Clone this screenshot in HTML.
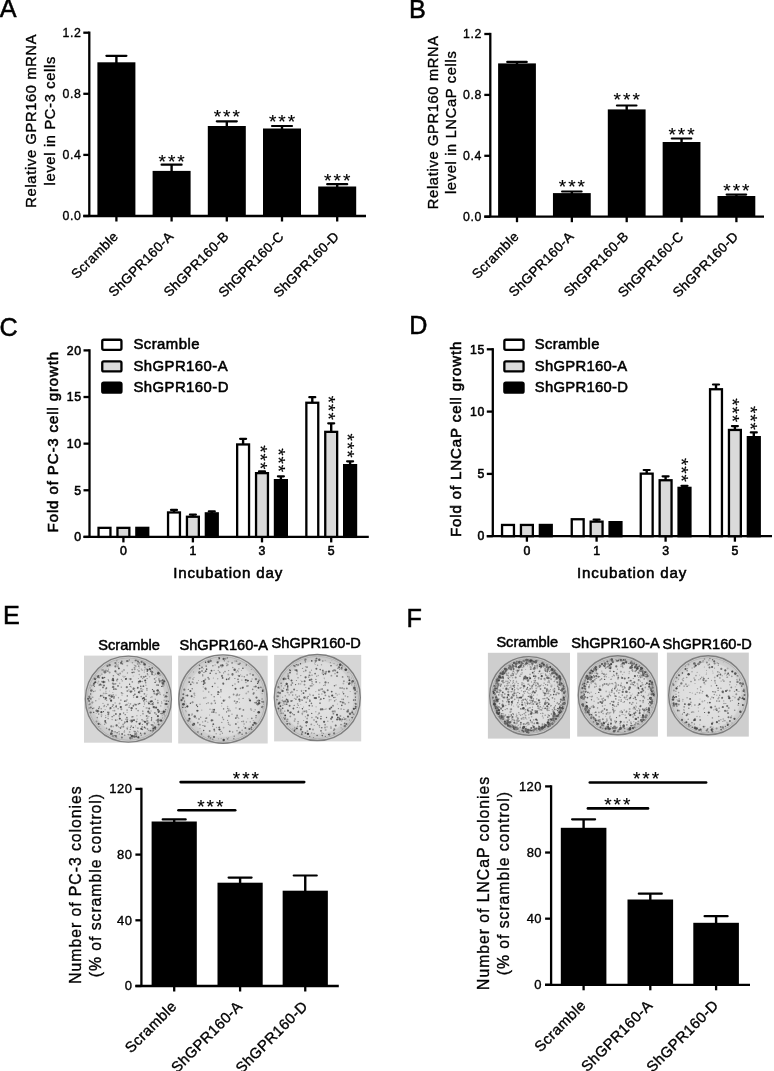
<!DOCTYPE html>
<html><head><meta charset="utf-8"><style>
html,body{margin:0;padding:0;background:#fff;}
svg{display:block;}
svg{will-change:transform;}
text{font-family:"Liberation Sans", sans-serif;stroke:#000;stroke-width:0.35px;}
.h text{stroke-width:0.55px;}
</style></head><body><div id="w">
<svg width="774" height="1071" viewBox="0 0 774 1071">
<rect width="774" height="1071" fill="#fff"/>
<text x="-0.20" y="17.30" font-size="25.2" text-anchor="start" fill="#000" style="stroke-width:0.5px">A</text>
<line x1="89.30" y1="31.55" x2="89.30" y2="216.00" stroke="#000" stroke-width="2.3" stroke-linecap="butt"/>
<line x1="83.30" y1="216.00" x2="89.30" y2="216.00" stroke="#000" stroke-width="2.3" stroke-linecap="butt"/>
<text x="81.50" y="220.23" font-size="12.3" text-anchor="end" letter-spacing="0.6" fill="#000">0.0</text>
<line x1="83.30" y1="154.90" x2="89.30" y2="154.90" stroke="#000" stroke-width="2.3" stroke-linecap="butt"/>
<text x="81.50" y="159.13" font-size="12.3" text-anchor="end" letter-spacing="0.6" fill="#000">0.4</text>
<line x1="83.30" y1="93.80" x2="89.30" y2="93.80" stroke="#000" stroke-width="2.3" stroke-linecap="butt"/>
<text x="81.50" y="98.03" font-size="12.3" text-anchor="end" letter-spacing="0.6" fill="#000">0.8</text>
<line x1="83.30" y1="32.70" x2="89.30" y2="32.70" stroke="#000" stroke-width="2.3" stroke-linecap="butt"/>
<text x="81.50" y="36.93" font-size="12.3" text-anchor="end" letter-spacing="0.6" fill="#000">1.2</text>
<line x1="83.30" y1="216.00" x2="366.00" y2="216.00" stroke="#000" stroke-width="2.3" stroke-linecap="butt"/>
<line x1="116.40" y1="55.80" x2="116.40" y2="63.30" stroke="#000" stroke-width="2.4" stroke-linecap="butt"/>
<line x1="106.40" y1="55.80" x2="126.40" y2="55.80" stroke="#000" stroke-width="2.2" stroke-linecap="round"/>
<rect x="97.40" y="62.30" width="38.00" height="153.70" fill="#000"/>
<line x1="116.40" y1="216.00" x2="116.40" y2="221.50" stroke="#000" stroke-width="2.3" stroke-linecap="butt"/>
<line x1="171.60" y1="164.70" x2="171.60" y2="171.90" stroke="#000" stroke-width="2.4" stroke-linecap="butt"/>
<line x1="161.60" y1="164.70" x2="181.60" y2="164.70" stroke="#000" stroke-width="2.2" stroke-linecap="round"/>
<rect x="152.60" y="170.90" width="38.00" height="45.10" fill="#000"/>
<line x1="171.60" y1="216.00" x2="171.60" y2="221.50" stroke="#000" stroke-width="2.3" stroke-linecap="butt"/>
<line x1="226.80" y1="121.30" x2="226.80" y2="127.00" stroke="#000" stroke-width="2.4" stroke-linecap="butt"/>
<line x1="216.80" y1="121.30" x2="236.80" y2="121.30" stroke="#000" stroke-width="2.2" stroke-linecap="round"/>
<rect x="207.80" y="126.00" width="38.00" height="90.00" fill="#000"/>
<line x1="226.80" y1="216.00" x2="226.80" y2="221.50" stroke="#000" stroke-width="2.3" stroke-linecap="butt"/>
<line x1="282.00" y1="126.00" x2="282.00" y2="129.50" stroke="#000" stroke-width="2.4" stroke-linecap="butt"/>
<line x1="272.00" y1="126.00" x2="292.00" y2="126.00" stroke="#000" stroke-width="2.2" stroke-linecap="round"/>
<rect x="263.00" y="128.50" width="38.00" height="87.50" fill="#000"/>
<line x1="282.00" y1="216.00" x2="282.00" y2="221.50" stroke="#000" stroke-width="2.3" stroke-linecap="butt"/>
<line x1="337.20" y1="184.20" x2="337.20" y2="187.50" stroke="#000" stroke-width="2.4" stroke-linecap="butt"/>
<line x1="327.20" y1="184.20" x2="347.20" y2="184.20" stroke="#000" stroke-width="2.2" stroke-linecap="round"/>
<rect x="318.20" y="186.50" width="38.00" height="29.50" fill="#000"/>
<line x1="337.20" y1="216.00" x2="337.20" y2="221.50" stroke="#000" stroke-width="2.3" stroke-linecap="butt"/>
<text x="172.60" y="167.90" font-size="19" text-anchor="middle" letter-spacing="2.0" fill="#000" style="stroke-width:0.15px">***</text>
<text x="227.80" y="123.10" font-size="19" text-anchor="middle" letter-spacing="2.0" fill="#000" style="stroke-width:0.15px">***</text>
<text x="283.00" y="127.90" font-size="19" text-anchor="middle" letter-spacing="2.0" fill="#000" style="stroke-width:0.15px">***</text>
<text x="338.20" y="187.10" font-size="19" text-anchor="middle" letter-spacing="2.0" fill="#000" style="stroke-width:0.15px">***</text>
<text transform="translate(118.90 237.50) rotate(-45)" x="0.35" y="0" font-size="13.5" text-anchor="end" letter-spacing="0.35" fill="#000">Scramble</text>
<text transform="translate(174.10 237.50) rotate(-45)" x="0.35" y="0" font-size="13.5" text-anchor="end" letter-spacing="0.35" fill="#000">ShGPR160-A</text>
<text transform="translate(229.30 237.50) rotate(-45)" x="0.35" y="0" font-size="13.5" text-anchor="end" letter-spacing="0.35" fill="#000">ShGPR160-B</text>
<text transform="translate(284.50 237.50) rotate(-45)" x="0.35" y="0" font-size="13.5" text-anchor="end" letter-spacing="0.35" fill="#000">ShGPR160-C</text>
<text transform="translate(339.70 237.50) rotate(-45)" x="0.35" y="0" font-size="13.5" text-anchor="end" letter-spacing="0.35" fill="#000">ShGPR160-D</text>
<text transform="translate(36.00 121.10) rotate(-90)" x="0.35" y="0" font-size="14.6" text-anchor="middle" letter-spacing="0.7" fill="#000">Relative GPR160 mRNA</text>
<text transform="translate(54.50 121.10) rotate(-90)" x="0.35" y="0" font-size="14.6" text-anchor="middle" letter-spacing="0.7" fill="#000">level in PC-3 cells</text>
<text x="409.10" y="17.70" font-size="25.2" text-anchor="start" fill="#000" style="stroke-width:0.5px">B</text>
<line x1="490.30" y1="32.85" x2="490.30" y2="216.70" stroke="#000" stroke-width="2.3" stroke-linecap="butt"/>
<line x1="484.30" y1="216.70" x2="490.30" y2="216.70" stroke="#000" stroke-width="2.3" stroke-linecap="butt"/>
<text x="481.90" y="220.93" font-size="12.3" text-anchor="end" letter-spacing="0.6" fill="#000">0.0</text>
<line x1="484.30" y1="155.80" x2="490.30" y2="155.80" stroke="#000" stroke-width="2.3" stroke-linecap="butt"/>
<text x="481.90" y="160.03" font-size="12.3" text-anchor="end" letter-spacing="0.6" fill="#000">0.4</text>
<line x1="484.30" y1="94.90" x2="490.30" y2="94.90" stroke="#000" stroke-width="2.3" stroke-linecap="butt"/>
<text x="481.90" y="99.13" font-size="12.3" text-anchor="end" letter-spacing="0.6" fill="#000">0.8</text>
<line x1="484.30" y1="34.00" x2="490.30" y2="34.00" stroke="#000" stroke-width="2.3" stroke-linecap="butt"/>
<text x="481.90" y="38.23" font-size="12.3" text-anchor="end" letter-spacing="0.6" fill="#000">1.2</text>
<line x1="484.30" y1="216.70" x2="764.00" y2="216.70" stroke="#000" stroke-width="2.3" stroke-linecap="butt"/>
<line x1="517.00" y1="61.90" x2="517.00" y2="64.40" stroke="#000" stroke-width="2.4" stroke-linecap="butt"/>
<line x1="507.25" y1="61.90" x2="526.75" y2="61.90" stroke="#000" stroke-width="2.2" stroke-linecap="round"/>
<rect x="498.10" y="63.40" width="37.80" height="153.30" fill="#000"/>
<line x1="517.00" y1="216.70" x2="517.00" y2="222.20" stroke="#000" stroke-width="2.3" stroke-linecap="butt"/>
<line x1="571.85" y1="191.50" x2="571.85" y2="194.10" stroke="#000" stroke-width="2.4" stroke-linecap="butt"/>
<line x1="562.10" y1="191.50" x2="581.60" y2="191.50" stroke="#000" stroke-width="2.2" stroke-linecap="round"/>
<rect x="552.95" y="193.10" width="37.80" height="23.60" fill="#000"/>
<line x1="571.85" y1="216.70" x2="571.85" y2="222.20" stroke="#000" stroke-width="2.3" stroke-linecap="butt"/>
<line x1="626.70" y1="105.50" x2="626.70" y2="110.40" stroke="#000" stroke-width="2.4" stroke-linecap="butt"/>
<line x1="616.95" y1="105.50" x2="636.45" y2="105.50" stroke="#000" stroke-width="2.2" stroke-linecap="round"/>
<rect x="607.80" y="109.40" width="37.80" height="107.30" fill="#000"/>
<line x1="626.70" y1="216.70" x2="626.70" y2="222.20" stroke="#000" stroke-width="2.3" stroke-linecap="butt"/>
<line x1="681.55" y1="138.50" x2="681.55" y2="143.00" stroke="#000" stroke-width="2.4" stroke-linecap="butt"/>
<line x1="671.80" y1="138.50" x2="691.30" y2="138.50" stroke="#000" stroke-width="2.2" stroke-linecap="round"/>
<rect x="662.65" y="142.00" width="37.80" height="74.70" fill="#000"/>
<line x1="681.55" y1="216.70" x2="681.55" y2="222.20" stroke="#000" stroke-width="2.3" stroke-linecap="butt"/>
<line x1="736.40" y1="194.60" x2="736.40" y2="197.00" stroke="#000" stroke-width="2.4" stroke-linecap="butt"/>
<line x1="726.65" y1="194.60" x2="746.15" y2="194.60" stroke="#000" stroke-width="2.2" stroke-linecap="round"/>
<rect x="717.50" y="196.00" width="37.80" height="20.70" fill="#000"/>
<line x1="736.40" y1="216.70" x2="736.40" y2="222.20" stroke="#000" stroke-width="2.3" stroke-linecap="butt"/>
<text x="572.85" y="193.30" font-size="19" text-anchor="middle" letter-spacing="2.0" fill="#000" style="stroke-width:0.15px">***</text>
<text x="627.70" y="106.40" font-size="19" text-anchor="middle" letter-spacing="2.0" fill="#000" style="stroke-width:0.15px">***</text>
<text x="682.55" y="140.60" font-size="19" text-anchor="middle" letter-spacing="2.0" fill="#000" style="stroke-width:0.15px">***</text>
<text x="737.40" y="197.40" font-size="19" text-anchor="middle" letter-spacing="2.0" fill="#000" style="stroke-width:0.15px">***</text>
<text transform="translate(519.50 237.50) rotate(-45)" x="0.35" y="0" font-size="13.5" text-anchor="end" letter-spacing="0.35" fill="#000">Scramble</text>
<text transform="translate(574.35 237.50) rotate(-45)" x="0.35" y="0" font-size="13.5" text-anchor="end" letter-spacing="0.35" fill="#000">ShGPR160-A</text>
<text transform="translate(629.20 237.50) rotate(-45)" x="0.35" y="0" font-size="13.5" text-anchor="end" letter-spacing="0.35" fill="#000">ShGPR160-B</text>
<text transform="translate(684.05 237.50) rotate(-45)" x="0.35" y="0" font-size="13.5" text-anchor="end" letter-spacing="0.35" fill="#000">ShGPR160-C</text>
<text transform="translate(738.90 237.50) rotate(-45)" x="0.35" y="0" font-size="13.5" text-anchor="end" letter-spacing="0.35" fill="#000">ShGPR160-D</text>
<text transform="translate(437.80 122.60) rotate(-90)" x="0.35" y="0" font-size="14.6" text-anchor="middle" letter-spacing="0.7" fill="#000">Relative GPR160 mRNA</text>
<text transform="translate(455.90 122.70) rotate(-90)" x="0.35" y="0" font-size="14.6" text-anchor="middle" letter-spacing="0.7" fill="#000">level in LNCaP cells</text>
<g class="h">
<text x="-0.40" y="336.30" font-size="25.2" text-anchor="start" fill="#000" style="stroke-width:0.5px">C</text>
<line x1="89.50" y1="349.25" x2="89.50" y2="536.90" stroke="#000" stroke-width="2.3" stroke-linecap="butt"/>
<line x1="83.50" y1="536.90" x2="89.50" y2="536.90" stroke="#000" stroke-width="2.3" stroke-linecap="butt"/>
<text x="81.70" y="541.13" font-size="12.3" text-anchor="end" letter-spacing="0.6" fill="#000">0</text>
<line x1="83.50" y1="490.27" x2="89.50" y2="490.27" stroke="#000" stroke-width="2.3" stroke-linecap="butt"/>
<text x="81.70" y="494.51" font-size="12.3" text-anchor="end" letter-spacing="0.6" fill="#000">5</text>
<line x1="83.50" y1="443.65" x2="89.50" y2="443.65" stroke="#000" stroke-width="2.3" stroke-linecap="butt"/>
<text x="81.70" y="447.88" font-size="12.3" text-anchor="end" letter-spacing="0.6" fill="#000">10</text>
<line x1="83.50" y1="397.02" x2="89.50" y2="397.02" stroke="#000" stroke-width="2.3" stroke-linecap="butt"/>
<text x="81.70" y="401.26" font-size="12.3" text-anchor="end" letter-spacing="0.6" fill="#000">15</text>
<line x1="83.50" y1="350.40" x2="89.50" y2="350.40" stroke="#000" stroke-width="2.3" stroke-linecap="butt"/>
<text x="81.70" y="354.63" font-size="12.3" text-anchor="end" letter-spacing="0.6" fill="#000">20</text>
<line x1="83.50" y1="536.90" x2="368.80" y2="536.90" stroke="#000" stroke-width="2.3" stroke-linecap="butt"/>
<rect x="98.55" y="527.85" width="11.90" height="9.05" fill="#fff" stroke="#000" stroke-width="2.3"/>
<rect x="117.45" y="527.85" width="11.90" height="9.05" fill="#dadada" stroke="#000" stroke-width="2.3"/>
<rect x="136.35" y="527.85" width="11.90" height="9.05" fill="#000" stroke="#000" stroke-width="2.3"/>
<line x1="174.00" y1="509.90" x2="174.00" y2="512.30" stroke="#000" stroke-width="2.4" stroke-linecap="butt"/>
<line x1="171.00" y1="509.90" x2="177.00" y2="509.90" stroke="#000" stroke-width="2.2" stroke-linecap="round"/>
<rect x="168.05" y="512.45" width="11.90" height="24.45" fill="#fff" stroke="#000" stroke-width="2.3"/>
<line x1="192.90" y1="514.60" x2="192.90" y2="516.60" stroke="#000" stroke-width="2.4" stroke-linecap="butt"/>
<line x1="189.90" y1="514.60" x2="195.90" y2="514.60" stroke="#000" stroke-width="2.2" stroke-linecap="round"/>
<rect x="186.95" y="516.75" width="11.90" height="20.15" fill="#dadada" stroke="#000" stroke-width="2.3"/>
<line x1="211.80" y1="511.40" x2="211.80" y2="513.20" stroke="#000" stroke-width="2.4" stroke-linecap="butt"/>
<line x1="208.80" y1="511.40" x2="214.80" y2="511.40" stroke="#000" stroke-width="2.2" stroke-linecap="round"/>
<rect x="205.85" y="513.35" width="11.90" height="23.55" fill="#000" stroke="#000" stroke-width="2.3"/>
<line x1="243.10" y1="438.80" x2="243.10" y2="444.30" stroke="#000" stroke-width="2.4" stroke-linecap="butt"/>
<line x1="240.10" y1="438.80" x2="246.10" y2="438.80" stroke="#000" stroke-width="2.2" stroke-linecap="round"/>
<rect x="237.15" y="444.45" width="11.90" height="92.45" fill="#fff" stroke="#000" stroke-width="2.3"/>
<line x1="262.00" y1="471.40" x2="262.00" y2="473.00" stroke="#000" stroke-width="2.4" stroke-linecap="butt"/>
<line x1="259.00" y1="471.40" x2="265.00" y2="471.40" stroke="#000" stroke-width="2.2" stroke-linecap="round"/>
<rect x="256.05" y="473.15" width="11.90" height="63.75" fill="#dadada" stroke="#000" stroke-width="2.3"/>
<line x1="280.90" y1="476.30" x2="280.90" y2="480.00" stroke="#000" stroke-width="2.4" stroke-linecap="butt"/>
<line x1="277.90" y1="476.30" x2="283.90" y2="476.30" stroke="#000" stroke-width="2.2" stroke-linecap="round"/>
<rect x="274.95" y="480.15" width="11.90" height="56.75" fill="#000" stroke="#000" stroke-width="2.3"/>
<line x1="312.30" y1="397.20" x2="312.30" y2="402.60" stroke="#000" stroke-width="2.4" stroke-linecap="butt"/>
<line x1="309.30" y1="397.20" x2="315.30" y2="397.20" stroke="#000" stroke-width="2.2" stroke-linecap="round"/>
<rect x="306.35" y="402.75" width="11.90" height="134.15" fill="#fff" stroke="#000" stroke-width="2.3"/>
<line x1="331.20" y1="423.30" x2="331.20" y2="431.70" stroke="#000" stroke-width="2.4" stroke-linecap="butt"/>
<line x1="328.20" y1="423.30" x2="334.20" y2="423.30" stroke="#000" stroke-width="2.2" stroke-linecap="round"/>
<rect x="325.25" y="431.85" width="11.90" height="105.05" fill="#dadada" stroke="#000" stroke-width="2.3"/>
<line x1="350.10" y1="461.30" x2="350.10" y2="465.00" stroke="#000" stroke-width="2.4" stroke-linecap="butt"/>
<line x1="347.10" y1="461.30" x2="353.10" y2="461.30" stroke="#000" stroke-width="2.2" stroke-linecap="round"/>
<rect x="344.15" y="465.15" width="11.90" height="71.75" fill="#000" stroke="#000" stroke-width="2.3"/>
<line x1="123.40" y1="536.90" x2="123.40" y2="542.40" stroke="#000" stroke-width="2.3" stroke-linecap="butt"/>
<text x="123.70" y="554.50" font-size="12.3" text-anchor="middle" letter-spacing="0.6" fill="#000">0</text>
<line x1="192.90" y1="536.90" x2="192.90" y2="542.40" stroke="#000" stroke-width="2.3" stroke-linecap="butt"/>
<text x="193.20" y="554.50" font-size="12.3" text-anchor="middle" letter-spacing="0.6" fill="#000">1</text>
<line x1="262.00" y1="536.90" x2="262.00" y2="542.40" stroke="#000" stroke-width="2.3" stroke-linecap="butt"/>
<text x="262.30" y="554.50" font-size="12.3" text-anchor="middle" letter-spacing="0.6" fill="#000">3</text>
<line x1="331.20" y1="536.90" x2="331.20" y2="542.40" stroke="#000" stroke-width="2.3" stroke-linecap="butt"/>
<text x="331.50" y="554.50" font-size="12.3" text-anchor="middle" letter-spacing="0.6" fill="#000">5</text>
<text transform="translate(253.66 457.30) rotate(90)" x="0.45" y="0" font-size="19" text-anchor="middle" letter-spacing="0.9" fill="#000" style="stroke-width:0.15px">***</text>
<text transform="translate(271.66 460.20) rotate(90)" x="0.45" y="0" font-size="19" text-anchor="middle" letter-spacing="0.9" fill="#000" style="stroke-width:0.15px">***</text>
<text transform="translate(322.46 407.80) rotate(90)" x="0.45" y="0" font-size="19" text-anchor="middle" letter-spacing="0.9" fill="#000" style="stroke-width:0.15px">***</text>
<text transform="translate(341.26 445.60) rotate(90)" x="0.45" y="0" font-size="19" text-anchor="middle" letter-spacing="0.9" fill="#000" style="stroke-width:0.15px">***</text>
<rect x="102.25" y="339.75" width="19.20" height="10.10" fill="#fff" stroke="#000" stroke-width="2.3" rx="1.5"/>
<text x="133.40" y="349.30" font-size="14.9" text-anchor="start" letter-spacing="0.45" fill="#000">Scramble</text>
<rect x="102.25" y="361.35" width="19.20" height="10.10" fill="#dadada" stroke="#000" stroke-width="2.3" rx="1.5"/>
<text x="133.40" y="370.90" font-size="14.9" text-anchor="start" letter-spacing="0.45" fill="#000">ShGPR160-A</text>
<rect x="102.25" y="382.55" width="19.20" height="10.10" fill="#000" stroke="#000" stroke-width="2.3" rx="1.5"/>
<text x="133.40" y="392.10" font-size="14.9" text-anchor="start" letter-spacing="0.45" fill="#000">ShGPR160-D</text>
<text x="228.23" y="577.80" font-size="15.1" text-anchor="middle" letter-spacing="0.85" fill="#000">Incubation day</text>
<text transform="translate(57.90 442.10) rotate(-90)" x="0.42" y="0" font-size="15.1" text-anchor="middle" letter-spacing="0.85" fill="#000">Fold of PC-3 cell growth</text>
<text x="409.20" y="334.00" font-size="25.2" text-anchor="start" fill="#000" style="stroke-width:0.5px">D</text>
<line x1="492.80" y1="348.15" x2="492.80" y2="536.20" stroke="#000" stroke-width="2.3" stroke-linecap="butt"/>
<line x1="486.80" y1="536.20" x2="492.80" y2="536.20" stroke="#000" stroke-width="2.3" stroke-linecap="butt"/>
<text x="485.00" y="540.43" font-size="12.3" text-anchor="end" letter-spacing="0.6" fill="#000">0</text>
<line x1="486.80" y1="473.90" x2="492.80" y2="473.90" stroke="#000" stroke-width="2.3" stroke-linecap="butt"/>
<text x="485.00" y="478.13" font-size="12.3" text-anchor="end" letter-spacing="0.6" fill="#000">5</text>
<line x1="486.80" y1="411.60" x2="492.80" y2="411.60" stroke="#000" stroke-width="2.3" stroke-linecap="butt"/>
<text x="485.00" y="415.83" font-size="12.3" text-anchor="end" letter-spacing="0.6" fill="#000">10</text>
<line x1="486.80" y1="349.30" x2="492.80" y2="349.30" stroke="#000" stroke-width="2.3" stroke-linecap="butt"/>
<text x="485.00" y="353.53" font-size="12.3" text-anchor="end" letter-spacing="0.6" fill="#000">15</text>
<line x1="486.80" y1="536.20" x2="772.00" y2="536.20" stroke="#000" stroke-width="2.3" stroke-linecap="butt"/>
<rect x="502.05" y="524.95" width="11.90" height="11.25" fill="#fff" stroke="#000" stroke-width="2.3"/>
<rect x="520.95" y="524.95" width="11.90" height="11.25" fill="#dadada" stroke="#000" stroke-width="2.3"/>
<rect x="539.85" y="524.95" width="11.90" height="11.25" fill="#000" stroke="#000" stroke-width="2.3"/>
<rect x="571.75" y="519.25" width="11.90" height="16.95" fill="#fff" stroke="#000" stroke-width="2.3"/>
<line x1="596.60" y1="519.60" x2="596.60" y2="521.50" stroke="#000" stroke-width="2.4" stroke-linecap="butt"/>
<line x1="593.60" y1="519.60" x2="599.60" y2="519.60" stroke="#000" stroke-width="2.2" stroke-linecap="round"/>
<rect x="590.65" y="521.65" width="11.90" height="14.55" fill="#dadada" stroke="#000" stroke-width="2.3"/>
<rect x="609.55" y="522.15" width="11.90" height="14.05" fill="#000" stroke="#000" stroke-width="2.3"/>
<line x1="646.70" y1="470.00" x2="646.70" y2="473.50" stroke="#000" stroke-width="2.4" stroke-linecap="butt"/>
<line x1="643.70" y1="470.00" x2="649.70" y2="470.00" stroke="#000" stroke-width="2.2" stroke-linecap="round"/>
<rect x="640.75" y="473.65" width="11.90" height="62.55" fill="#fff" stroke="#000" stroke-width="2.3"/>
<line x1="665.60" y1="476.30" x2="665.60" y2="480.10" stroke="#000" stroke-width="2.4" stroke-linecap="butt"/>
<line x1="662.60" y1="476.30" x2="668.60" y2="476.30" stroke="#000" stroke-width="2.2" stroke-linecap="round"/>
<rect x="659.65" y="480.25" width="11.90" height="55.95" fill="#dadada" stroke="#000" stroke-width="2.3"/>
<line x1="684.50" y1="485.80" x2="684.50" y2="487.70" stroke="#000" stroke-width="2.4" stroke-linecap="butt"/>
<line x1="681.50" y1="485.80" x2="687.50" y2="485.80" stroke="#000" stroke-width="2.2" stroke-linecap="round"/>
<rect x="678.55" y="487.85" width="11.90" height="48.35" fill="#000" stroke="#000" stroke-width="2.3"/>
<line x1="716.00" y1="384.50" x2="716.00" y2="389.10" stroke="#000" stroke-width="2.4" stroke-linecap="butt"/>
<line x1="713.00" y1="384.50" x2="719.00" y2="384.50" stroke="#000" stroke-width="2.2" stroke-linecap="round"/>
<rect x="710.05" y="389.25" width="11.90" height="146.95" fill="#fff" stroke="#000" stroke-width="2.3"/>
<line x1="734.90" y1="426.10" x2="734.90" y2="429.80" stroke="#000" stroke-width="2.4" stroke-linecap="butt"/>
<line x1="731.90" y1="426.10" x2="737.90" y2="426.10" stroke="#000" stroke-width="2.2" stroke-linecap="round"/>
<rect x="728.95" y="429.95" width="11.90" height="106.25" fill="#dadada" stroke="#000" stroke-width="2.3"/>
<line x1="753.80" y1="432.40" x2="753.80" y2="437.00" stroke="#000" stroke-width="2.4" stroke-linecap="butt"/>
<line x1="750.80" y1="432.40" x2="756.80" y2="432.40" stroke="#000" stroke-width="2.2" stroke-linecap="round"/>
<rect x="747.85" y="437.15" width="11.90" height="99.05" fill="#000" stroke="#000" stroke-width="2.3"/>
<line x1="526.90" y1="536.20" x2="526.90" y2="541.70" stroke="#000" stroke-width="2.3" stroke-linecap="butt"/>
<text x="527.20" y="554.50" font-size="12.3" text-anchor="middle" letter-spacing="0.6" fill="#000">0</text>
<line x1="596.60" y1="536.20" x2="596.60" y2="541.70" stroke="#000" stroke-width="2.3" stroke-linecap="butt"/>
<text x="596.90" y="554.50" font-size="12.3" text-anchor="middle" letter-spacing="0.6" fill="#000">1</text>
<line x1="665.60" y1="536.20" x2="665.60" y2="541.70" stroke="#000" stroke-width="2.3" stroke-linecap="butt"/>
<text x="665.90" y="554.50" font-size="12.3" text-anchor="middle" letter-spacing="0.6" fill="#000">3</text>
<line x1="734.90" y1="536.20" x2="734.90" y2="541.70" stroke="#000" stroke-width="2.3" stroke-linecap="butt"/>
<text x="735.20" y="554.50" font-size="12.3" text-anchor="middle" letter-spacing="0.6" fill="#000">5</text>
<text transform="translate(675.46 469.90) rotate(90)" x="0.45" y="0" font-size="19" text-anchor="middle" letter-spacing="0.9" fill="#000" style="stroke-width:0.15px">***</text>
<text transform="translate(725.56 410.20) rotate(90)" x="0.45" y="0" font-size="19" text-anchor="middle" letter-spacing="0.9" fill="#000" style="stroke-width:0.15px">***</text>
<text transform="translate(744.16 417.90) rotate(90)" x="0.45" y="0" font-size="19" text-anchor="middle" letter-spacing="0.9" fill="#000" style="stroke-width:0.15px">***</text>
<rect x="504.35" y="339.75" width="19.20" height="10.10" fill="#fff" stroke="#000" stroke-width="2.3" rx="1.5"/>
<text x="534.80" y="349.30" font-size="14.8" text-anchor="start" letter-spacing="0.3" fill="#000">Scramble</text>
<rect x="504.35" y="361.35" width="19.20" height="10.10" fill="#dadada" stroke="#000" stroke-width="2.3" rx="1.5"/>
<text x="534.80" y="370.90" font-size="14.8" text-anchor="start" letter-spacing="0.3" fill="#000">ShGPR160-A</text>
<rect x="504.35" y="382.55" width="19.20" height="10.10" fill="#000" stroke="#000" stroke-width="2.3" rx="1.5"/>
<text x="534.80" y="392.10" font-size="14.8" text-anchor="start" letter-spacing="0.3" fill="#000">ShGPR160-D</text>
<text x="632.12" y="578.20" font-size="15.1" text-anchor="middle" letter-spacing="0.85" fill="#000">Incubation day</text>
<text transform="translate(460.80 439.30) rotate(-90)" x="0.42" y="0" font-size="15.1" text-anchor="middle" letter-spacing="0.85" fill="#000">Fold of LNCaP cell growth</text>
</g>
<text x="2.90" y="624.00" font-size="25.2" text-anchor="start" fill="#000" style="stroke-width:0.5px">E</text>
<defs><filter id="soft" x="-5%" y="-5%" width="110%" height="110%"><feGaussianBlur stdDeviation="0.5"/></filter></defs>
<defs><clipPath id="c1"><circle cx="128.4" cy="699.1" r="41.8"/></clipPath><radialGradient id="g1"><stop offset="0" stop-color="#e4e4e4"/><stop offset="0.8" stop-color="#dcdcdc"/><stop offset="1" stop-color="#d0d0d0"/></radialGradient></defs>
<rect x="84.00" y="655.60" width="88.00" height="87.10" fill="#d6d6d6"/>
<circle cx="128.4" cy="699.1" r="43.0" fill="url(#g1)" stroke="#7e7e7e" stroke-width="1.4"/>
<circle cx="128.4" cy="699.1" r="39.0" fill="none" stroke="#000" stroke-opacity="0.05" stroke-width="5"/>
<circle cx="128.4" cy="699.1" r="41.2" fill="none" stroke="#b0b0b0" stroke-width="0.8"/>
<g clip-path="url(#c1)" filter="url(#soft)"><circle cx="153.2" cy="727.0" r="0.9" fill="#909090"/><circle cx="154.5" cy="722.9" r="0.7" fill="#989898"/><circle cx="131.4" cy="687.1" r="0.5" fill="#989898"/><circle cx="96.1" cy="713.6" r="0.5" fill="#9c9c9c"/><circle cx="124.7" cy="735.2" r="0.8" fill="#868686"/><circle cx="134.2" cy="695.0" r="0.5" fill="#a2a2a2"/><circle cx="166.4" cy="701.3" r="0.8" fill="#9b9b9b"/><circle cx="124.0" cy="670.0" r="0.9" fill="#9f9f9f"/><circle cx="105.9" cy="691.3" r="0.8" fill="#b0b0b0"/><circle cx="107.3" cy="704.6" r="0.5" fill="#a3a3a3"/><circle cx="139.7" cy="693.1" r="0.8" fill="#aeaeae"/><circle cx="137.4" cy="688.2" r="0.7" fill="#aeaeae"/><circle cx="156.7" cy="694.3" r="1.0" fill="#a0a0a0"/><circle cx="144.4" cy="670.0" r="0.7" fill="#a5a5a5"/><circle cx="156.6" cy="694.3" r="1.0" fill="#999999"/><circle cx="122.0" cy="695.1" r="0.6" fill="#999999"/><circle cx="113.9" cy="707.7" r="0.8" fill="#acacac"/><circle cx="134.0" cy="664.8" r="0.5" fill="#aaaaaa"/><circle cx="92.7" cy="697.2" r="0.8" fill="#999999"/><circle cx="104.6" cy="724.3" r="0.7" fill="#939393"/><circle cx="116.8" cy="660.7" r="0.8" fill="#999999"/><circle cx="118.4" cy="685.8" r="0.6" fill="#808080"/><circle cx="132.2" cy="669.6" r="0.9" fill="#8e8e8e"/><circle cx="108.8" cy="712.5" r="0.9" fill="#969696"/><circle cx="108.1" cy="704.4" r="0.8" fill="#aeaeae"/><circle cx="164.2" cy="700.4" r="0.9" fill="#afafaf"/><circle cx="113.9" cy="698.0" r="0.9" fill="#8d8d8d"/><circle cx="119.8" cy="703.4" r="0.9" fill="#a4a4a4"/><circle cx="91.4" cy="685.9" r="0.7" fill="#969696"/><circle cx="127.0" cy="699.9" r="0.8" fill="#a7a7a7"/><circle cx="113.1" cy="726.5" r="0.9" fill="#a8a8a8"/><circle cx="142.1" cy="726.9" r="0.9" fill="#a3a3a3"/><circle cx="139.1" cy="664.1" r="0.6" fill="#ababab"/><circle cx="162.5" cy="715.3" r="0.7" fill="#b0b0b0"/><circle cx="129.1" cy="678.9" r="0.6" fill="#a7a7a7"/><circle cx="137.1" cy="719.1" r="0.6" fill="#909090"/><circle cx="112.0" cy="696.3" r="0.6" fill="#adadad"/><circle cx="119.0" cy="731.7" r="0.7" fill="#878787"/><circle cx="153.3" cy="702.8" r="0.7" fill="#8c8c8c"/><circle cx="127.3" cy="719.5" r="0.9" fill="#8d8d8d"/><circle cx="154.4" cy="693.4" r="1.0" fill="#8e8e8e"/><circle cx="143.8" cy="700.8" r="0.9" fill="#8a8a8a"/><circle cx="101.2" cy="708.7" r="0.7" fill="#8e8e8e"/><circle cx="160.2" cy="694.5" r="0.8" fill="#9c9c9c"/><circle cx="133.9" cy="731.3" r="0.7" fill="#a4a4a4"/><circle cx="139.2" cy="668.0" r="0.7" fill="#afafaf"/><circle cx="116.4" cy="737.1" r="0.9" fill="#939393"/><circle cx="138.5" cy="703.9" r="1.0" fill="#939393"/><circle cx="127.4" cy="673.0" r="0.6" fill="#808080"/><circle cx="93.7" cy="685.2" r="0.8" fill="#8d8d8d"/><circle cx="158.1" cy="691.9" r="0.6" fill="#adadad"/><circle cx="122.8" cy="693.6" r="0.6" fill="#868686"/><circle cx="137.5" cy="731.1" r="0.7" fill="#8c8c8c"/><circle cx="89.2" cy="701.0" r="0.7" fill="#a0a0a0"/><circle cx="105.3" cy="699.1" r="0.9" fill="#929292"/><circle cx="146.4" cy="701.2" r="0.7" fill="#a4a4a4"/><circle cx="133.2" cy="676.0" r="0.6" fill="#ababab"/><circle cx="148.9" cy="713.3" r="0.8" fill="#ababab"/><circle cx="93.7" cy="691.5" r="0.8" fill="#848484"/><circle cx="126.6" cy="687.5" r="0.6" fill="#a2a2a2"/><circle cx="136.5" cy="733.4" r="0.8" fill="#909090"/><circle cx="112.4" cy="716.5" r="0.6" fill="#a6a6a6"/><circle cx="134.7" cy="665.4" r="0.7" fill="#a5a5a5"/><circle cx="116.0" cy="695.0" r="0.5" fill="#848484"/><circle cx="99.0" cy="726.7" r="0.6" fill="#888888"/><circle cx="111.2" cy="725.8" r="0.9" fill="#989898"/><circle cx="155.0" cy="713.0" r="0.8" fill="#919191"/><circle cx="113.9" cy="715.6" r="0.8" fill="#878787"/><circle cx="107.8" cy="704.7" r="0.9" fill="#929292"/><circle cx="161.5" cy="701.7" r="0.5" fill="#878787"/><circle cx="145.0" cy="667.1" r="0.6" fill="#a5a5a5"/><circle cx="116.3" cy="705.7" r="0.6" fill="#8f8f8f"/><circle cx="148.6" cy="730.4" r="0.7" fill="#989898"/><circle cx="138.8" cy="671.1" r="0.9" fill="#a3a3a3"/><circle cx="127.8" cy="727.1" r="0.6" fill="#a9a9a9"/><circle cx="125.7" cy="705.2" r="0.9" fill="#929292"/><circle cx="125.0" cy="676.4" r="0.7" fill="#999999"/><circle cx="164.1" cy="714.0" r="1.0" fill="#9d9d9d"/><circle cx="142.8" cy="711.2" r="0.8" fill="#a2a2a2"/><circle cx="147.1" cy="678.6" r="0.7" fill="#8b8b8b"/><circle cx="106.7" cy="693.3" r="0.6" fill="#858585"/><circle cx="133.6" cy="688.1" r="0.9" fill="#858585"/><circle cx="109.6" cy="672.6" r="1.0" fill="#989898"/><circle cx="136.4" cy="697.4" r="0.6" fill="#a5a5a5"/><circle cx="145.9" cy="685.3" r="0.7" fill="#a2a2a2"/><circle cx="100.6" cy="675.7" r="0.5" fill="#8e8e8e"/><circle cx="148.2" cy="701.7" r="0.5" fill="#a3a3a3"/><circle cx="151.7" cy="673.5" r="0.5" fill="#808080"/><circle cx="119.3" cy="734.0" r="0.7" fill="#898989"/><circle cx="157.2" cy="720.3" r="0.7" fill="#a0a0a0"/><circle cx="144.4" cy="693.8" r="0.9" fill="#898989"/><circle cx="138.4" cy="678.5" r="0.6" fill="#a0a0a0"/><circle cx="144.3" cy="672.0" r="0.6" fill="#8d8d8d"/><circle cx="152.7" cy="729.1" r="0.5" fill="#949494"/><circle cx="142.2" cy="670.3" r="0.8" fill="#a3a3a3"/><circle cx="147.3" cy="669.6" r="0.8" fill="#8b8b8b"/><circle cx="119.4" cy="727.4" r="0.5" fill="#aaaaaa"/><circle cx="129.0" cy="734.8" r="0.8" fill="#9c9c9c"/><circle cx="139.1" cy="671.1" r="0.8" fill="#a2a2a2"/><circle cx="104.0" cy="706.5" r="0.7" fill="#909090"/><circle cx="92.5" cy="702.3" r="1.0" fill="#a4a4a4"/><circle cx="161.8" cy="703.1" r="0.8" fill="#a5a5a5"/><circle cx="143.0" cy="713.7" r="0.9" fill="#999999"/><circle cx="112.9" cy="692.5" r="0.5" fill="#9f9f9f"/><circle cx="157.8" cy="700.5" r="0.8" fill="#a9a9a9"/><circle cx="162.7" cy="680.4" r="0.8" fill="#8e8e8e"/><circle cx="130.5" cy="727.5" r="0.7" fill="#8e8e8e"/><circle cx="123.0" cy="676.2" r="0.8" fill="#aeaeae"/><circle cx="146.9" cy="688.6" r="0.8" fill="#838383"/><circle cx="159.6" cy="682.4" r="0.8" fill="#979797"/><circle cx="147.5" cy="729.0" r="0.9" fill="#939393"/><circle cx="121.7" cy="720.2" r="0.8" fill="#8a8a8a"/><circle cx="117.9" cy="666.0" r="0.8" fill="#878787"/><circle cx="160.0" cy="675.1" r="0.8" fill="#8b8b8b"/><circle cx="143.2" cy="721.1" r="1.0" fill="#aeaeae"/><circle cx="128.9" cy="689.9" r="0.8" fill="#adadad"/><circle cx="112.0" cy="680.1" r="0.9" fill="#a2a2a2"/><circle cx="127.4" cy="691.0" r="1.0" fill="#909090"/><circle cx="113.9" cy="684.0" r="1.0" fill="#888888"/><circle cx="159.6" cy="693.0" r="1.0" fill="#ababab"/><circle cx="120.1" cy="673.4" r="1.0" fill="#989898"/><circle cx="164.2" cy="684.9" r="0.7" fill="#949494"/><circle cx="98.8" cy="711.2" r="0.7" fill="#8d8d8d"/><circle cx="151.4" cy="720.5" r="0.7" fill="#878787"/><circle cx="117.0" cy="681.0" r="0.7" fill="#a3a3a3"/><circle cx="146.0" cy="699.5" r="0.7" fill="#818181"/><circle cx="167.6" cy="706.8" r="0.6" fill="#909090"/><circle cx="134.2" cy="719.9" r="0.8" fill="#919191"/><circle cx="115.2" cy="731.8" r="0.9" fill="#9c9c9c"/><circle cx="137.7" cy="663.9" r="1.0" fill="#a2a2a2"/><circle cx="112.1" cy="719.6" r="0.6" fill="#8d8d8d"/><circle cx="105.8" cy="688.3" r="0.6" fill="#868686"/><circle cx="133.6" cy="695.5" r="0.8" fill="#808080"/><circle cx="90.2" cy="687.9" r="0.9" fill="#a9a9a9"/><circle cx="147.1" cy="720.8" r="0.8" fill="#939393"/><circle cx="97.6" cy="711.9" r="0.9" fill="#949494"/><circle cx="155.3" cy="699.2" r="0.7" fill="#939393"/><circle cx="105.5" cy="693.3" r="0.9" fill="#a4a4a4"/><circle cx="95.8" cy="700.7" r="0.7" fill="#8d8d8d"/><circle cx="90.6" cy="685.0" r="0.8" fill="#aeaeae"/><circle cx="155.5" cy="674.1" r="0.8" fill="#9d9d9d"/><circle cx="104.9" cy="681.9" r="1.0" fill="#adadad"/><circle cx="150.7" cy="697.4" r="0.6" fill="#a7a7a7"/><circle cx="119.6" cy="683.4" r="0.8" fill="#ababab"/><circle cx="108.1" cy="716.1" r="0.7" fill="#a7a7a7"/><circle cx="98.5" cy="681.5" r="0.9" fill="#afafaf"/><circle cx="165.1" cy="715.7" r="0.6" fill="#a9a9a9"/><circle cx="126.9" cy="704.7" r="0.9" fill="#898989"/><circle cx="102.2" cy="669.9" r="0.9" fill="#8b8b8b"/><circle cx="132.4" cy="662.8" r="0.8" fill="#969696"/><circle cx="159.3" cy="680.2" r="0.7" fill="#ababab"/><circle cx="113.2" cy="694.8" r="0.9" fill="#9f9f9f"/><circle cx="142.4" cy="724.4" r="0.6" fill="#868686"/><circle cx="127.5" cy="672.8" r="0.7" fill="#aaaaaa"/><circle cx="113.1" cy="704.9" r="0.9" fill="#8a8a8a"/><circle cx="119.0" cy="675.2" r="0.8" fill="#a6a6a6"/><circle cx="118.5" cy="726.8" r="0.6" fill="#959595"/><circle cx="127.1" cy="710.1" r="0.9" fill="#a1a1a1"/><circle cx="113.4" cy="675.8" r="0.8" fill="#838383"/><circle cx="144.4" cy="727.6" r="0.9" fill="#a3a3a3"/><circle cx="124.5" cy="730.5" r="0.6" fill="#a3a3a3"/><circle cx="105.6" cy="715.7" r="0.6" fill="#a7a7a7"/><circle cx="119.2" cy="715.9" r="1.0" fill="#adadad"/><circle cx="129.6" cy="732.0" r="0.9" fill="#a7a7a7"/><circle cx="96.5" cy="721.5" r="1.0" fill="#8f8f8f"/><circle cx="132.3" cy="681.9" r="0.8" fill="#8a8a8a"/><circle cx="149.6" cy="676.8" r="0.8" fill="#aeaeae"/><circle cx="151.9" cy="730.7" r="0.7" fill="#8a8a8a"/><circle cx="138.1" cy="710.6" r="0.9" fill="#979797"/><circle cx="119.0" cy="723.0" r="0.6" fill="#8d8d8d"/><circle cx="124.0" cy="677.2" r="0.6" fill="#999999"/><circle cx="111.5" cy="734.3" r="1.0" fill="#828282"/><circle cx="157.8" cy="709.8" r="0.9" fill="#8d8d8d"/><circle cx="116.8" cy="673.1" r="0.8" fill="#aeaeae"/><circle cx="159.3" cy="692.0" r="0.7" fill="#919191"/><circle cx="153.2" cy="721.9" r="0.5" fill="#999999"/><circle cx="131.3" cy="726.1" r="0.9" fill="#8e8e8e"/><circle cx="130.3" cy="720.6" r="0.8" fill="#989898"/><circle cx="136.5" cy="732.4" r="0.7" fill="#a5a5a5"/><circle cx="142.8" cy="711.1" r="0.5" fill="#808080"/><circle cx="139.4" cy="663.2" r="0.7" fill="#989898"/><circle cx="140.9" cy="681.4" r="0.6" fill="#8a8a8a"/><circle cx="154.1" cy="675.0" r="0.6" fill="#818181"/><circle cx="143.8" cy="700.6" r="0.8" fill="#838383"/><circle cx="109.6" cy="691.0" r="0.5" fill="#a9a9a9"/><circle cx="149.1" cy="666.5" r="0.5" fill="#838383"/><circle cx="114.0" cy="696.8" r="1.0" fill="#878787"/><circle cx="112.3" cy="706.4" r="0.7" fill="#888888"/><circle cx="127.3" cy="665.6" r="0.9" fill="#aaaaaa"/><circle cx="106.4" cy="706.6" r="0.6" fill="#909090"/><circle cx="115.8" cy="683.6" r="0.5" fill="#a5a5a5"/><circle cx="140.4" cy="722.7" r="0.8" fill="#a8a8a8"/><circle cx="118.5" cy="697.7" r="0.7" fill="#9a9a9a"/><circle cx="95.2" cy="691.0" r="0.8" fill="#aaaaaa"/><circle cx="147.3" cy="708.0" r="0.8" fill="#b0b0b0"/><circle cx="143.7" cy="706.6" r="0.5" fill="#838383"/><circle cx="161.1" cy="680.8" r="0.9" fill="#838383"/><circle cx="103.2" cy="669.7" r="0.8" fill="#a0a0a0"/><circle cx="100.8" cy="728.4" r="0.5" fill="#a2a2a2"/><circle cx="160.7" cy="705.9" r="0.9" fill="#b0b0b0"/><circle cx="118.4" cy="662.4" r="0.5" fill="#a1a1a1"/><circle cx="125.9" cy="719.2" r="0.7" fill="#939393"/><circle cx="152.9" cy="704.5" r="0.9" fill="#949494"/><circle cx="126.5" cy="678.5" r="0.7" fill="#878787"/><circle cx="142.2" cy="681.5" r="0.7" fill="#8f8f8f"/><circle cx="110.0" cy="698.8" r="1.0" fill="#a0a0a0"/><circle cx="136.7" cy="660.4" r="0.8" fill="#868686"/><circle cx="153.5" cy="725.7" r="0.8" fill="#a3a3a3"/><circle cx="121.3" cy="662.8" r="0.9" fill="#a2a2a2"/><circle cx="167.8" cy="706.7" r="1.0" fill="#afafaf"/><circle cx="142.0" cy="719.7" r="0.8" fill="#868686"/><circle cx="116.3" cy="706.9" r="0.5" fill="#939393"/><circle cx="141.4" cy="669.1" r="0.7" fill="#939393"/><circle cx="119.5" cy="718.3" r="0.9" fill="#a1a1a1"/><circle cx="99.0" cy="698.9" r="0.6" fill="#aeaeae"/><circle cx="117.8" cy="719.7" r="0.5" fill="#919191"/><circle cx="90.0" cy="704.0" r="1.0" fill="#989898"/><circle cx="144.0" cy="663.4" r="1.0" fill="#838383"/><circle cx="147.8" cy="721.0" r="0.8" fill="#909090"/><circle cx="135.6" cy="665.9" r="0.9" fill="#979797"/><circle cx="164.5" cy="697.0" r="0.7" fill="#939393"/><circle cx="89.3" cy="708.0" r="0.8" fill="#8a8a8a"/><circle cx="148.3" cy="702.8" r="0.6" fill="#888888"/><circle cx="142.9" cy="689.5" r="0.7" fill="#aeaeae"/><circle cx="101.8" cy="674.2" r="1.0" fill="#ababab"/><circle cx="127.1" cy="712.3" r="0.6" fill="#a8a8a8"/><circle cx="99.2" cy="685.1" r="0.9" fill="#8d8d8d"/><circle cx="117.9" cy="685.9" r="0.9" fill="#818181"/><circle cx="96.0" cy="678.4" r="0.7" fill="#929292"/><circle cx="131.8" cy="716.9" r="0.7" fill="#8f8f8f"/><circle cx="98.7" cy="714.1" r="0.8" fill="#8c8c8c"/><circle cx="138.7" cy="666.2" r="0.9" fill="#909090"/><circle cx="125.3" cy="701.1" r="0.8" fill="#989898"/><circle cx="100.2" cy="696.6" r="0.7" fill="#a0a0a0"/><circle cx="137.3" cy="669.4" r="0.5" fill="#9d9d9d"/><circle cx="168.1" cy="700.7" r="0.8" fill="#a9a9a9"/><circle cx="142.4" cy="699.6" r="0.7" fill="#afafaf"/><circle cx="114.1" cy="731.8" r="0.8" fill="#a3a3a3"/><circle cx="123.1" cy="724.5" r="1.0" fill="#a1a1a1"/><circle cx="101.4" cy="716.6" r="0.7" fill="#939393"/><circle cx="146.8" cy="718.9" r="0.6" fill="#8a8a8a"/><circle cx="128.3" cy="703.1" r="0.7" fill="#aaaaaa"/><circle cx="105.9" cy="689.2" r="0.7" fill="#aaaaaa"/><circle cx="154.6" cy="678.8" r="0.9" fill="#858585"/><circle cx="142.7" cy="678.5" r="0.7" fill="#979797"/><circle cx="103.8" cy="670.9" r="0.9" fill="#989898"/><circle cx="115.1" cy="702.9" r="0.7" fill="#9a9a9a"/><circle cx="152.5" cy="731.5" r="0.9" fill="#979797"/><circle cx="147.9" cy="674.9" r="0.6" fill="#9a9a9a"/><circle cx="127.0" cy="728.1" r="0.9" fill="#acacac"/><circle cx="124.9" cy="722.3" r="1.0" fill="#8d8d8d"/><circle cx="122.3" cy="671.4" r="1.0" fill="#adadad"/><circle cx="119.2" cy="703.8" r="0.6" fill="#898989"/><circle cx="129.3" cy="705.6" r="0.6" fill="#9e9e9e"/><circle cx="130.4" cy="686.5" r="0.8" fill="#8b8b8b"/><circle cx="134.5" cy="688.7" r="0.8" fill="#838383"/><circle cx="100.2" cy="690.0" r="0.7" fill="#a9a9a9"/><circle cx="141.2" cy="696.6" r="0.8" fill="#9a9a9a"/><circle cx="146.1" cy="669.1" r="1.0" fill="#ababab"/><circle cx="123.4" cy="726.7" r="0.9" fill="#838383"/><circle cx="136.0" cy="666.7" r="0.5" fill="#989898"/><circle cx="147.7" cy="718.1" r="0.8" fill="#9f9f9f"/><circle cx="139.8" cy="691.3" r="0.9" fill="#868686"/><circle cx="147.2" cy="724.7" r="0.9" fill="#8a8a8a"/><circle cx="102.5" cy="695.7" r="0.9" fill="#a2a2a2"/><circle cx="121.6" cy="726.7" r="0.9" fill="#a2a2a2"/><circle cx="159.1" cy="680.4" r="0.8" fill="#9f9f9f"/><circle cx="156.5" cy="720.3" r="0.9" fill="#969696"/><circle cx="164.0" cy="681.2" r="0.6" fill="#a2a2a2"/><circle cx="112.8" cy="683.4" r="1.0" fill="#868686"/><circle cx="131.3" cy="720.1" r="0.9" fill="#9a9a9a"/><circle cx="140.6" cy="715.6" r="0.7" fill="#a8a8a8"/><circle cx="96.1" cy="676.1" r="0.8" fill="#a6a6a6"/><circle cx="89.1" cy="696.8" r="0.6" fill="#9e9e9e"/><circle cx="121.4" cy="679.4" r="0.6" fill="#979797"/><circle cx="112.2" cy="687.5" r="0.6" fill="#b0b0b0"/><circle cx="144.3" cy="733.6" r="0.8" fill="#a2a2a2"/><circle cx="145.4" cy="722.3" r="0.8" fill="#888888"/><circle cx="106.0" cy="670.3" r="0.9" fill="#949494"/><circle cx="108.2" cy="679.6" r="0.6" fill="#888888"/><circle cx="122.3" cy="680.9" r="0.8" fill="#acacac"/><circle cx="144.4" cy="704.3" r="0.6" fill="#a4a4a4"/><circle cx="137.9" cy="728.1" r="0.9" fill="#9b9b9b"/><circle cx="111.7" cy="730.6" r="0.9" fill="#a7a7a7"/><circle cx="134.9" cy="733.4" r="0.6" fill="#a8a8a8"/><circle cx="151.9" cy="696.9" r="0.8" fill="#a1a1a1"/><circle cx="118.1" cy="708.8" r="0.7" fill="#878787"/><circle cx="128.2" cy="734.6" r="0.8" fill="#828282"/><circle cx="121.4" cy="709.2" r="1.0" fill="#939393"/><circle cx="119.8" cy="718.3" r="0.5" fill="#818181"/><circle cx="162.7" cy="717.5" r="0.7" fill="#aeaeae"/><circle cx="115.5" cy="683.9" r="0.8" fill="#919191"/><circle cx="166.5" cy="701.0" r="1.0" fill="#878787"/><circle cx="106.6" cy="728.2" r="0.8" fill="#888888"/><circle cx="98.7" cy="675.7" r="0.7" fill="#ababab"/><circle cx="97.8" cy="683.1" r="0.7" fill="#9a9a9a"/><circle cx="103.6" cy="693.4" r="0.9" fill="#a8a8a8"/><circle cx="123.6" cy="713.1" r="0.8" fill="#878787"/><circle cx="136.9" cy="715.8" r="0.7" fill="#a2a2a2"/><circle cx="157.9" cy="702.8" r="1.0" fill="#909090"/><circle cx="103.0" cy="703.4" r="0.6" fill="#979797"/><circle cx="164.7" cy="715.9" r="0.7" fill="#a3a3a3"/><circle cx="147.5" cy="670.5" r="0.8" fill="#818181"/><circle cx="108.6" cy="680.7" r="0.6" fill="#848484"/><circle cx="141.5" cy="691.2" r="0.9" fill="#8d8d8d"/><circle cx="92.3" cy="702.7" r="0.9" fill="#979797"/><circle cx="140.8" cy="688.7" r="0.9" fill="#989898"/><circle cx="141.3" cy="676.7" r="1.0" fill="#898989"/><circle cx="124.3" cy="731.9" r="0.9" fill="#a6a6a6"/><circle cx="156.8" cy="690.5" r="0.5" fill="#a9a9a9"/><circle cx="151.9" cy="725.0" r="1.0" fill="#868686"/><circle cx="93.8" cy="708.1" r="0.8" fill="#9b9b9b"/><circle cx="124.4" cy="723.4" r="0.7" fill="#9d9d9d"/><circle cx="154.6" cy="708.2" r="0.5" fill="#adadad"/><circle cx="116.5" cy="664.6" r="0.9" fill="#a5a5a5"/><circle cx="146.9" cy="721.3" r="0.7" fill="#919191"/><circle cx="134.7" cy="669.2" r="1.0" fill="#969696"/><circle cx="140.2" cy="664.4" r="0.6" fill="#a7a7a7"/><circle cx="130.3" cy="729.4" r="0.7" fill="#8a8a8a"/><circle cx="134.5" cy="704.5" r="0.9" fill="#9b9b9b"/><circle cx="145.7" cy="682.8" r="0.8" fill="#838383"/><circle cx="109.0" cy="681.6" r="0.7" fill="#b0b0b0"/><circle cx="139.3" cy="674.5" r="0.8" fill="#a8a8a8"/><circle cx="116.5" cy="689.3" r="0.7" fill="#878787"/><circle cx="141.4" cy="688.5" r="0.8" fill="#9f9f9f"/><circle cx="156.2" cy="677.4" r="0.6" fill="#a5a5a5"/><circle cx="166.4" cy="704.3" r="0.7" fill="#8b8b8b"/><circle cx="113.0" cy="710.7" r="0.6" fill="#959595"/><circle cx="108.5" cy="669.2" r="0.7" fill="#9e9e9e"/><circle cx="106.1" cy="723.0" r="0.8" fill="#8c8c8c"/><circle cx="105.1" cy="709.7" r="0.6" fill="#9f9f9f"/><circle cx="161.7" cy="682.6" r="0.6" fill="#989898"/><circle cx="97.3" cy="717.6" r="0.8" fill="#8b8b8b"/><circle cx="104.4" cy="705.5" r="0.8" fill="#929292"/><circle cx="142.2" cy="691.3" r="0.8" fill="#868686"/><circle cx="133.6" cy="697.3" r="0.7" fill="#a8a8a8"/><circle cx="118.3" cy="664.5" r="0.6" fill="#acacac"/><circle cx="126.1" cy="701.0" r="0.9" fill="#9b9b9b"/><circle cx="155.9" cy="681.0" r="0.7" fill="#8f8f8f"/><circle cx="154.7" cy="712.7" r="0.8" fill="#8a8a8a"/><circle cx="142.4" cy="726.8" r="0.8" fill="#9b9b9b"/><circle cx="129.1" cy="707.2" r="0.8" fill="#8c8c8c"/><circle cx="118.1" cy="667.1" r="0.8" fill="#a2a2a2"/><circle cx="151.0" cy="711.0" r="0.7" fill="#a4a4a4"/><circle cx="112.8" cy="679.3" r="0.8" fill="#a9a9a9"/><circle cx="131.8" cy="691.2" r="0.8" fill="#808080"/><circle cx="165.6" cy="704.0" r="0.7" fill="#aeaeae"/><circle cx="101.5" cy="714.9" r="1.0" fill="#adadad"/><circle cx="144.9" cy="667.6" r="0.8" fill="#a0a0a0"/><circle cx="138.3" cy="670.6" r="0.8" fill="#acacac"/><circle cx="114.5" cy="710.7" r="0.9" fill="#979797"/><circle cx="147.0" cy="690.1" r="0.6" fill="#8b8b8b"/><circle cx="134.5" cy="667.7" r="0.9" fill="#959595"/><circle cx="146.9" cy="690.1" r="0.6" fill="#989898"/><circle cx="123.4" cy="726.3" r="0.6" fill="#888888"/><circle cx="147.0" cy="694.2" r="0.5" fill="#a5a5a5"/><circle cx="110.9" cy="694.9" r="0.7" fill="#8f8f8f"/><circle cx="101.8" cy="685.0" r="0.7" fill="#8c8c8c"/><circle cx="162.4" cy="718.5" r="0.6" fill="#aaaaaa"/><circle cx="161.1" cy="711.5" r="0.7" fill="#ababab"/><circle cx="148.7" cy="722.9" r="0.8" fill="#a2a2a2"/><circle cx="146.2" cy="708.0" r="0.7" fill="#929292"/><circle cx="138.5" cy="731.9" r="0.7" fill="#afafaf"/><circle cx="138.6" cy="682.8" r="0.9" fill="#969696"/><circle cx="106.6" cy="700.2" r="0.8" fill="#939393"/><circle cx="135.5" cy="725.8" r="0.6" fill="#a7a7a7"/><circle cx="101.9" cy="681.6" r="0.9" fill="#909090"/><circle cx="121.6" cy="692.8" r="0.9" fill="#8a8a8a"/><circle cx="143.5" cy="662.5" r="0.8" fill="#868686"/><circle cx="148.7" cy="716.5" r="0.8" fill="#afafaf"/><circle cx="135.9" cy="727.0" r="0.6" fill="#adadad"/><circle cx="137.7" cy="737.4" r="0.8" fill="#a1a1a1"/><circle cx="151.2" cy="724.7" r="0.6" fill="#808080"/><circle cx="121.1" cy="663.4" r="1.0" fill="#a4a4a4"/><circle cx="108.1" cy="718.6" r="0.8" fill="#919191"/><circle cx="144.5" cy="703.0" r="0.8" fill="#a3a3a3"/><circle cx="91.0" cy="698.4" r="1.0" fill="#aaaaaa"/><circle cx="109.8" cy="709.1" r="0.5" fill="#888888"/><circle cx="130.4" cy="703.8" r="0.9" fill="#9f9f9f"/><circle cx="136.6" cy="734.9" r="0.8" fill="#959595"/><circle cx="138.8" cy="692.3" r="1.0" fill="#4a4a4a"/><circle cx="149.5" cy="668.7" r="0.7" fill="#535353"/><circle cx="113.8" cy="689.1" r="0.9" fill="#696969"/><circle cx="115.9" cy="714.1" r="1.0" fill="#6d6d6d"/><circle cx="163.9" cy="695.0" r="0.6" fill="#4b4b4b"/><circle cx="92.7" cy="708.6" r="0.7" fill="#515151"/><circle cx="152.2" cy="667.9" r="0.9" fill="#6d6d6d"/><circle cx="88.1" cy="698.8" r="1.1" fill="#616161"/><circle cx="149.9" cy="713.1" r="0.9" fill="#6c6c6c"/><circle cx="113.0" cy="678.9" r="1.1" fill="#666666"/><circle cx="137.1" cy="696.9" r="1.2" fill="#666666"/><circle cx="150.6" cy="701.5" r="1.0" fill="#515151"/><circle cx="103.5" cy="682.0" r="1.2" fill="#4c4c4c"/><circle cx="152.2" cy="672.2" r="1.1" fill="#626262"/><circle cx="105.8" cy="717.6" r="0.6" fill="#6d6d6d"/><circle cx="151.6" cy="719.2" r="0.6" fill="#5d5d5d"/><circle cx="115.7" cy="720.1" r="0.9" fill="#707070"/><circle cx="120.8" cy="707.1" r="1.1" fill="#4d4d4d"/><circle cx="143.9" cy="676.9" r="0.9" fill="#6a6a6a"/><circle cx="144.6" cy="699.4" r="0.8" fill="#555555"/><circle cx="147.1" cy="723.6" r="1.0" fill="#616161"/><circle cx="116.6" cy="725.4" r="1.1" fill="#5d5d5d"/><circle cx="147.3" cy="673.8" r="0.6" fill="#4c4c4c"/><circle cx="130.6" cy="679.1" r="1.1" fill="#787878"/><circle cx="157.9" cy="693.3" r="0.9" fill="#6f6f6f"/><circle cx="157.9" cy="716.2" r="1.1" fill="#595959"/><circle cx="116.1" cy="706.5" r="0.9" fill="#717171"/><circle cx="126.9" cy="717.6" r="0.8" fill="#666666"/><circle cx="156.1" cy="707.6" r="1.1" fill="#555555"/><circle cx="133.3" cy="689.1" r="0.8" fill="#5a5a5a"/><circle cx="137.8" cy="687.7" r="0.9" fill="#5f5f5f"/><circle cx="130.8" cy="691.6" r="1.2" fill="#626262"/><circle cx="128.3" cy="661.0" r="0.6" fill="#6d6d6d"/><circle cx="118.9" cy="668.4" r="0.9" fill="#535353"/><circle cx="146.1" cy="696.1" r="0.7" fill="#505050"/><circle cx="156.8" cy="694.4" r="1.0" fill="#656565"/><circle cx="131.6" cy="708.1" r="1.2" fill="#5d5d5d"/><circle cx="156.9" cy="685.1" r="0.8" fill="#707070"/><circle cx="168.5" cy="701.5" r="0.6" fill="#585858"/><circle cx="134.9" cy="694.3" r="0.7" fill="#4d4d4d"/><circle cx="111.7" cy="696.5" r="1.2" fill="#545454"/><circle cx="133.9" cy="720.2" r="0.9" fill="#5f5f5f"/><circle cx="110.6" cy="734.2" r="0.6" fill="#6e6e6e"/><circle cx="142.4" cy="729.5" r="0.8" fill="#6d6d6d"/><circle cx="103.5" cy="711.6" r="0.6" fill="#494949"/><circle cx="158.2" cy="685.1" r="0.9" fill="#6f6f6f"/><circle cx="153.8" cy="691.2" r="1.0" fill="#5d5d5d"/><circle cx="111.1" cy="726.7" r="0.7" fill="#686868"/><circle cx="141.6" cy="661.9" r="1.1" fill="#6c6c6c"/><circle cx="107.5" cy="665.9" r="1.1" fill="#6e6e6e"/><circle cx="115.4" cy="671.3" r="1.1" fill="#646464"/><circle cx="115.3" cy="689.1" r="0.8" fill="#696969"/><circle cx="117.1" cy="732.7" r="0.8" fill="#6a6a6a"/><circle cx="127.1" cy="721.6" r="1.0" fill="#4a4a4a"/><circle cx="133.9" cy="672.3" r="0.8" fill="#686868"/><circle cx="96.6" cy="710.7" r="1.2" fill="#747474"/><circle cx="143.8" cy="698.0" r="1.1" fill="#4b4b4b"/><circle cx="113.2" cy="680.3" r="1.1" fill="#484848"/><circle cx="127.3" cy="728.9" r="0.6" fill="#606060"/><circle cx="151.8" cy="701.3" r="1.0" fill="#4b4b4b"/><circle cx="131.4" cy="710.3" r="0.7" fill="#717171"/><circle cx="161.1" cy="713.6" r="0.8" fill="#626262"/><circle cx="113.2" cy="686.9" r="1.2" fill="#747474"/><circle cx="115.4" cy="666.4" r="1.1" fill="#777777"/><circle cx="106.5" cy="688.1" r="0.8" fill="#626262"/><circle cx="164.2" cy="681.4" r="1.1" fill="#4c4c4c"/><circle cx="152.5" cy="689.6" r="0.7" fill="#4a4a4a"/><circle cx="104.6" cy="677.5" r="0.7" fill="#616161"/><circle cx="105.2" cy="721.1" r="1.0" fill="#5b5b5b"/><circle cx="126.9" cy="661.2" r="0.6" fill="#757575"/><circle cx="118.1" cy="674.2" r="0.7" fill="#515151"/><circle cx="152.6" cy="703.9" r="0.9" fill="#686868"/><circle cx="89.2" cy="701.6" r="0.7" fill="#717171"/><circle cx="120.5" cy="728.0" r="0.8" fill="#484848"/><circle cx="147.6" cy="669.7" r="1.0" fill="#4f4f4f"/><circle cx="90.6" cy="698.8" r="1.0" fill="#777777"/><circle cx="166.9" cy="692.6" r="0.9" fill="#565656"/><circle cx="157.9" cy="709.6" r="0.9" fill="#525252"/><circle cx="155.1" cy="727.4" r="1.2" fill="#4c4c4c"/><circle cx="135.0" cy="731.7" r="0.9" fill="#757575"/><circle cx="134.7" cy="690.8" r="0.6" fill="#6a6a6a"/><circle cx="109.3" cy="729.5" r="1.0" fill="#6b6b6b"/><circle cx="132.8" cy="716.7" r="0.8" fill="#6b6b6b"/><circle cx="90.6" cy="694.0" r="0.7" fill="#616161"/><circle cx="143.4" cy="686.2" r="0.9" fill="#646464"/><circle cx="151.0" cy="704.2" r="0.7" fill="#6c6c6c"/><circle cx="141.3" cy="728.8" r="1.1" fill="#555555"/><circle cx="131.9" cy="721.2" r="1.1" fill="#4b4b4b"/><circle cx="139.0" cy="662.6" r="0.7" fill="#646464"/><circle cx="133.3" cy="705.9" r="0.8" fill="#5e5e5e"/><circle cx="139.7" cy="703.4" r="0.7" fill="#565656"/><circle cx="121.3" cy="687.1" r="0.7" fill="#777777"/><circle cx="126.8" cy="687.2" r="1.1" fill="#777777"/><circle cx="132.5" cy="720.4" r="0.8" fill="#636363"/><circle cx="152.1" cy="674.2" r="1.0" fill="#787878"/><circle cx="136.5" cy="721.6" r="0.9" fill="#727272"/><circle cx="145.2" cy="680.5" r="1.0" fill="#4d4d4d"/><circle cx="110.5" cy="708.1" r="1.1" fill="#5d5d5d"/><circle cx="155.1" cy="682.4" r="0.7" fill="#4c4c4c"/><circle cx="132.2" cy="672.6" r="0.8" fill="#5b5b5b"/><circle cx="162.7" cy="680.4" r="1.1" fill="#5f5f5f"/><circle cx="107.8" cy="712.3" r="0.8" fill="#666666"/><circle cx="103.8" cy="697.4" r="0.8" fill="#5b5b5b"/><circle cx="93.9" cy="683.7" r="1.0" fill="#515151"/><circle cx="144.6" cy="727.3" r="0.7" fill="#525252"/><circle cx="156.2" cy="714.3" r="0.7" fill="#717171"/><circle cx="119.9" cy="718.7" r="0.9" fill="#4c4c4c"/><circle cx="101.4" cy="712.2" r="1.1" fill="#4e4e4e"/><circle cx="147.2" cy="671.4" r="0.6" fill="#535353"/><circle cx="120.9" cy="700.1" r="0.6" fill="#545454"/><circle cx="107.9" cy="671.1" r="0.8" fill="#5e5e5e"/><circle cx="150.9" cy="671.2" r="1.0" fill="#727272"/><circle cx="105.3" cy="722.3" r="0.7" fill="#606060"/><circle cx="149.0" cy="703.4" r="1.0" fill="#555555"/><circle cx="162.7" cy="713.3" r="0.8" fill="#6c6c6c"/><circle cx="108.5" cy="713.0" r="0.6" fill="#5a5a5a"/><circle cx="127.3" cy="695.9" r="0.7" fill="#505050"/><circle cx="133.3" cy="727.5" r="0.8" fill="#525252"/><circle cx="131.5" cy="721.5" r="0.9" fill="#6a6a6a"/><circle cx="98.0" cy="676.9" r="1.1" fill="#646464"/><circle cx="104.0" cy="685.5" r="0.9" fill="#5e5e5e"/><circle cx="140.6" cy="733.3" r="0.8" fill="#565656"/><circle cx="129.6" cy="684.3" r="0.7" fill="#525252"/><circle cx="111.1" cy="700.7" r="1.1" fill="#4d4d4d"/><circle cx="102.7" cy="677.9" r="1.1" fill="#4d4d4d"/><circle cx="97.8" cy="710.9" r="1.0" fill="#525252"/><circle cx="95.4" cy="682.2" r="1.0" fill="#494949"/><circle cx="136.1" cy="736.5" r="0.9" fill="#4b4b4b"/><circle cx="145.7" cy="676.3" r="0.8" fill="#676767"/><circle cx="149.2" cy="708.6" r="1.0" fill="#6c6c6c"/><circle cx="117.5" cy="679.3" r="0.8" fill="#6c6c6c"/><circle cx="148.3" cy="711.7" r="1.1" fill="#585858"/><circle cx="158.7" cy="711.8" r="1.1" fill="#494949"/><circle cx="166.9" cy="696.6" r="0.7" fill="#585858"/><circle cx="138.7" cy="681.5" r="0.8" fill="#676767"/><circle cx="124.6" cy="701.3" r="0.7" fill="#5a5a5a"/><circle cx="153.8" cy="707.1" r="1.2" fill="#555555"/><circle cx="122.1" cy="734.0" r="1.0" fill="#676767"/><circle cx="100.3" cy="684.6" r="1.0" fill="#5c5c5c"/><circle cx="136.2" cy="708.8" r="0.8" fill="#777777"/><circle cx="93.8" cy="683.6" r="0.8" fill="#646464"/><circle cx="144.9" cy="721.8" r="1.0" fill="#4a4a4a"/><circle cx="125.9" cy="679.1" r="1.0" fill="#4a4a4a"/><circle cx="100.8" cy="695.7" r="0.9" fill="#5c5c5c"/><circle cx="159.7" cy="681.1" r="0.9" fill="#676767"/><circle cx="108.3" cy="714.2" r="1.0" fill="#777777"/><circle cx="98.7" cy="708.6" r="0.8" fill="#767676"/><circle cx="112.1" cy="716.8" r="0.7" fill="#717171"/><circle cx="116.7" cy="680.1" r="0.7" fill="#787878"/><circle cx="140.8" cy="686.2" r="0.7" fill="#4a4a4a"/><circle cx="157.7" cy="690.4" r="1.2" fill="#535353"/><circle cx="103.0" cy="687.4" r="0.9" fill="#6f6f6f"/><circle cx="158.9" cy="711.0" r="0.9" fill="#616161"/><circle cx="142.6" cy="698.5" r="0.8" fill="#525252"/><circle cx="120.1" cy="714.2" r="1.1" fill="#6f6f6f"/><circle cx="109.2" cy="695.4" r="1.0" fill="#656565"/><circle cx="99.3" cy="707.0" r="0.7" fill="#6f6f6f"/><circle cx="105.9" cy="698.1" r="1.1" fill="#555555"/><circle cx="125.2" cy="714.7" r="0.6" fill="#5d5d5d"/><circle cx="146.7" cy="716.1" r="1.0" fill="#777777"/><circle cx="144.9" cy="733.5" r="0.9" fill="#6a6a6a"/><circle cx="93.8" cy="712.2" r="0.6" fill="#767676"/><circle cx="151.6" cy="717.7" r="0.7" fill="#616161"/><circle cx="139.6" cy="723.8" r="1.1" fill="#4a4a4a"/><circle cx="94.8" cy="678.6" r="1.0" fill="#676767"/><circle cx="98.6" cy="723.8" r="1.1" fill="#535353"/><circle cx="140.0" cy="681.4" r="1.1" fill="#494949"/><circle cx="94.5" cy="686.5" r="0.6" fill="#6b6b6b"/><circle cx="133.1" cy="736.1" r="0.9" fill="#777777"/><circle cx="135.9" cy="704.7" r="0.9" fill="#626262"/><circle cx="90.8" cy="707.4" r="1.0" fill="#767676"/><circle cx="158.1" cy="672.4" r="1.0" fill="#7d7d7d"/><circle cx="89.4" cy="697.7" r="0.7" fill="#585858"/><circle cx="134.3" cy="736.5" r="1.2" fill="#5b5b5b"/><circle cx="158.1" cy="673.6" r="1.1" fill="#767676"/><circle cx="165.1" cy="711.7" r="0.7" fill="#6f6f6f"/><circle cx="93.4" cy="685.2" r="0.9" fill="#797979"/><circle cx="115.9" cy="736.1" r="1.1" fill="#717171"/><circle cx="113.0" cy="736.0" r="0.9" fill="#797979"/><circle cx="150.3" cy="730.7" r="0.7" fill="#4f4f4f"/><circle cx="91.3" cy="690.5" r="1.3" fill="#6b6b6b"/><circle cx="122.5" cy="663.9" r="0.8" fill="#7b7b7b"/><circle cx="111.4" cy="733.4" r="1.2" fill="#555555"/><circle cx="130.4" cy="734.7" r="0.7" fill="#5f5f5f"/><circle cx="164.9" cy="711.4" r="0.6" fill="#757575"/><circle cx="162.9" cy="686.1" r="0.8" fill="#6e6e6e"/><circle cx="99.1" cy="677.7" r="0.7" fill="#646464"/><circle cx="158.9" cy="679.0" r="0.8" fill="#717171"/><circle cx="109.6" cy="665.0" r="1.2" fill="#6c6c6c"/><circle cx="98.4" cy="676.1" r="1.1" fill="#5c5c5c"/><circle cx="132.3" cy="737.9" r="0.7" fill="#656565"/><circle cx="159.8" cy="720.6" r="0.6" fill="#6c6c6c"/><circle cx="160.7" cy="720.6" r="1.0" fill="#565656"/><circle cx="129.3" cy="659.9" r="0.7" fill="#777777"/><circle cx="112.0" cy="731.0" r="1.0" fill="#636363"/><circle cx="161.7" cy="686.4" r="0.7" fill="#545454"/><circle cx="145.6" cy="728.1" r="0.7" fill="#787878"/><circle cx="95.3" cy="679.5" r="0.7" fill="#515151"/><circle cx="150.0" cy="669.3" r="1.1" fill="#515151"/><circle cx="165.6" cy="704.0" r="1.1" fill="#5c5c5c"/><circle cx="131.9" cy="736.0" r="1.2" fill="#4b4b4b"/><circle cx="155.1" cy="728.8" r="0.9" fill="#525252"/><circle cx="138.4" cy="737.3" r="1.1" fill="#484848"/><circle cx="100.1" cy="724.5" r="0.6" fill="#7b7b7b"/><circle cx="158.5" cy="673.3" r="1.2" fill="#404040"/><circle cx="121.8" cy="661.3" r="0.8" fill="#626262"/><circle cx="144.7" cy="664.4" r="1.2" fill="#4e4e4e"/><circle cx="152.5" cy="672.5" r="0.8" fill="#797979"/><circle cx="121.2" cy="662.9" r="1.1" fill="#636363"/><circle cx="153.3" cy="730.3" r="0.9" fill="#6c6c6c"/><circle cx="163.0" cy="683.4" r="1.3" fill="#5a5a5a"/><circle cx="141.2" cy="735.1" r="0.7" fill="#5e5e5e"/><circle cx="166.7" cy="704.1" r="1.0" fill="#4c4c4c"/><circle cx="163.8" cy="711.7" r="1.2" fill="#404040"/><circle cx="165.7" cy="709.8" r="0.7" fill="#5e5e5e"/><circle cx="115.4" cy="663.0" r="1.1" fill="#757575"/><circle cx="135.5" cy="660.4" r="0.9" fill="#6e6e6e"/><circle cx="94.3" cy="679.0" r="0.8" fill="#5f5f5f"/><circle cx="104.9" cy="672.3" r="1.2" fill="#6e6e6e"/><circle cx="152.8" cy="725.1" r="0.8" fill="#7c7c7c"/><circle cx="105.2" cy="671.8" r="1.3" fill="#777777"/><circle cx="161.6" cy="720.7" r="1.0" fill="#808080"/><circle cx="158.2" cy="719.9" r="1.3" fill="#747474"/><circle cx="130.4" cy="738.1" r="1.3" fill="#707070"/><circle cx="89.1" cy="704.7" r="0.6" fill="#6f6f6f"/><circle cx="158.0" cy="721.9" r="0.8" fill="#595959"/><circle cx="158.6" cy="724.4" r="1.0" fill="#5e5e5e"/><circle cx="161.2" cy="720.4" r="0.9" fill="#474747"/><circle cx="94.7" cy="682.3" r="0.6" fill="#434343"/><circle cx="121.9" cy="737.6" r="1.0" fill="#787878"/><circle cx="135.3" cy="734.2" r="1.1" fill="#7d7d7d"/><circle cx="93.6" cy="712.5" r="0.6" fill="#565656"/><circle cx="127.2" cy="661.1" r="1.0" fill="#696969"/><circle cx="89.3" cy="696.6" r="1.1" fill="#747474"/><circle cx="166.0" cy="696.4" r="1.1" fill="#5c5c5c"/><circle cx="114.9" cy="735.7" r="0.6" fill="#525252"/><circle cx="89.0" cy="700.7" r="0.9" fill="#676767"/><circle cx="138.0" cy="661.4" r="1.0" fill="#666666"/><circle cx="153.3" cy="728.6" r="0.9" fill="#444444"/><circle cx="90.7" cy="712.5" r="1.1" fill="#696969"/></g>
<defs><clipPath id="c2"><circle cx="223.0" cy="699.1" r="43.0"/></clipPath><radialGradient id="g2"><stop offset="0" stop-color="#e4e4e4"/><stop offset="0.8" stop-color="#dcdcdc"/><stop offset="1" stop-color="#d0d0d0"/></radialGradient></defs>
<rect x="178.20" y="655.70" width="89.50" height="87.80" fill="#d6d6d6"/>
<circle cx="223.0" cy="699.1" r="44.2" fill="url(#g2)" stroke="#7e7e7e" stroke-width="1.4"/>
<circle cx="223.0" cy="699.1" r="40.2" fill="none" stroke="#000" stroke-opacity="0.04" stroke-width="5"/>
<circle cx="223.0" cy="699.1" r="42.4" fill="none" stroke="#b0b0b0" stroke-width="0.8"/>
<g clip-path="url(#c2)" filter="url(#soft)"><circle cx="262.1" cy="688.0" r="0.5" fill="#858585"/><circle cx="212.0" cy="712.2" r="0.9" fill="#939393"/><circle cx="222.8" cy="718.3" r="0.5" fill="#ababab"/><circle cx="237.9" cy="722.1" r="0.7" fill="#aeaeae"/><circle cx="242.0" cy="676.2" r="0.7" fill="#9c9c9c"/><circle cx="183.4" cy="698.6" r="0.9" fill="#979797"/><circle cx="200.0" cy="704.2" r="0.7" fill="#a1a1a1"/><circle cx="232.0" cy="714.2" r="0.6" fill="#8b8b8b"/><circle cx="216.0" cy="712.8" r="0.8" fill="#a0a0a0"/><circle cx="214.9" cy="683.3" r="0.9" fill="#9a9a9a"/><circle cx="219.1" cy="659.6" r="0.9" fill="#a5a5a5"/><circle cx="197.9" cy="731.9" r="1.0" fill="#8a8a8a"/><circle cx="248.3" cy="691.7" r="0.9" fill="#a9a9a9"/><circle cx="194.3" cy="693.6" r="1.0" fill="#a0a0a0"/><circle cx="186.0" cy="695.5" r="0.8" fill="#9d9d9d"/><circle cx="245.9" cy="682.4" r="0.8" fill="#a3a3a3"/><circle cx="218.2" cy="670.4" r="0.6" fill="#949494"/><circle cx="238.1" cy="664.1" r="0.9" fill="#a7a7a7"/><circle cx="218.5" cy="738.7" r="0.7" fill="#adadad"/><circle cx="238.2" cy="671.8" r="0.8" fill="#a7a7a7"/><circle cx="203.2" cy="686.9" r="0.6" fill="#a0a0a0"/><circle cx="199.9" cy="724.7" r="0.9" fill="#959595"/><circle cx="217.0" cy="659.8" r="0.6" fill="#afafaf"/><circle cx="247.8" cy="718.7" r="0.5" fill="#a5a5a5"/><circle cx="228.7" cy="737.7" r="0.6" fill="#a1a1a1"/><circle cx="237.1" cy="715.4" r="0.9" fill="#838383"/><circle cx="191.8" cy="715.5" r="0.5" fill="#979797"/><circle cx="209.7" cy="715.1" r="0.5" fill="#878787"/><circle cx="229.4" cy="697.2" r="0.9" fill="#818181"/><circle cx="212.6" cy="709.8" r="1.0" fill="#afafaf"/><circle cx="237.0" cy="730.8" r="0.7" fill="#828282"/><circle cx="228.7" cy="679.1" r="1.0" fill="#808080"/><circle cx="204.8" cy="726.2" r="0.9" fill="#878787"/><circle cx="216.5" cy="727.5" r="0.7" fill="#a3a3a3"/><circle cx="226.6" cy="663.4" r="1.0" fill="#b0b0b0"/><circle cx="196.2" cy="718.1" r="0.6" fill="#8e8e8e"/><circle cx="251.8" cy="718.3" r="0.9" fill="#818181"/><circle cx="186.1" cy="711.7" r="0.6" fill="#a5a5a5"/><circle cx="228.6" cy="670.6" r="0.7" fill="#959595"/><circle cx="221.1" cy="731.5" r="0.7" fill="#818181"/><circle cx="210.3" cy="660.3" r="0.8" fill="#909090"/><circle cx="239.4" cy="702.6" r="0.5" fill="#a8a8a8"/><circle cx="227.6" cy="738.8" r="0.9" fill="#828282"/><circle cx="243.1" cy="698.4" r="0.7" fill="#909090"/><circle cx="240.4" cy="708.7" r="0.9" fill="#a7a7a7"/><circle cx="217.7" cy="678.7" r="0.7" fill="#a1a1a1"/><circle cx="223.1" cy="682.9" r="0.7" fill="#8a8a8a"/><circle cx="250.2" cy="721.9" r="0.6" fill="#868686"/><circle cx="258.8" cy="703.6" r="0.6" fill="#818181"/><circle cx="194.8" cy="695.4" r="0.7" fill="#a9a9a9"/><circle cx="197.8" cy="722.7" r="0.9" fill="#8d8d8d"/><circle cx="219.4" cy="671.9" r="0.8" fill="#a5a5a5"/><circle cx="190.1" cy="677.8" r="1.0" fill="#a5a5a5"/><circle cx="228.3" cy="710.7" r="0.9" fill="#979797"/><circle cx="263.6" cy="704.1" r="0.6" fill="#979797"/><circle cx="212.8" cy="739.2" r="0.7" fill="#818181"/><circle cx="241.9" cy="680.1" r="0.6" fill="#8c8c8c"/><circle cx="241.4" cy="670.3" r="0.5" fill="#9c9c9c"/><circle cx="254.0" cy="711.4" r="0.7" fill="#a5a5a5"/><circle cx="220.7" cy="697.1" r="0.5" fill="#939393"/><circle cx="233.6" cy="694.5" r="0.9" fill="#8c8c8c"/><circle cx="242.0" cy="716.0" r="0.9" fill="#888888"/><circle cx="223.6" cy="672.9" r="0.6" fill="#878787"/><circle cx="246.4" cy="722.0" r="0.7" fill="#999999"/><circle cx="256.6" cy="690.4" r="0.5" fill="#aaaaaa"/><circle cx="214.5" cy="700.7" r="0.9" fill="#929292"/><circle cx="205.4" cy="721.1" r="0.9" fill="#919191"/><circle cx="184.4" cy="702.9" r="0.9" fill="#aeaeae"/><circle cx="236.5" cy="661.2" r="0.9" fill="#929292"/><circle cx="210.0" cy="709.2" r="0.8" fill="#a3a3a3"/><circle cx="192.1" cy="714.2" r="1.0" fill="#a5a5a5"/><circle cx="218.6" cy="667.8" r="0.5" fill="#8b8b8b"/><circle cx="239.0" cy="698.9" r="0.7" fill="#848484"/><circle cx="235.0" cy="661.1" r="0.8" fill="#a9a9a9"/><circle cx="263.0" cy="708.7" r="0.7" fill="#adadad"/><circle cx="206.6" cy="668.9" r="0.7" fill="#a1a1a1"/><circle cx="219.2" cy="715.1" r="1.0" fill="#b0b0b0"/><circle cx="201.8" cy="710.1" r="0.6" fill="#a0a0a0"/><circle cx="221.2" cy="738.5" r="0.7" fill="#adadad"/><circle cx="226.8" cy="737.9" r="0.7" fill="#b0b0b0"/><circle cx="208.8" cy="692.0" r="0.7" fill="#818181"/><circle cx="232.5" cy="675.1" r="0.9" fill="#999999"/><circle cx="194.1" cy="697.3" r="0.7" fill="#adadad"/><circle cx="219.9" cy="672.5" r="0.8" fill="#979797"/><circle cx="246.3" cy="693.4" r="0.9" fill="#aaaaaa"/><circle cx="255.9" cy="717.6" r="0.9" fill="#a2a2a2"/><circle cx="203.9" cy="680.8" r="0.8" fill="#a8a8a8"/><circle cx="243.1" cy="687.2" r="0.8" fill="#9d9d9d"/><circle cx="200.9" cy="668.6" r="0.5" fill="#8d8d8d"/><circle cx="218.8" cy="666.9" r="1.0" fill="#868686"/><circle cx="199.0" cy="719.0" r="0.9" fill="#919191"/><circle cx="221.8" cy="667.2" r="0.6" fill="#a7a7a7"/><circle cx="244.1" cy="724.0" r="0.7" fill="#909090"/><circle cx="205.7" cy="697.6" r="0.9" fill="#b0b0b0"/><circle cx="225.1" cy="700.1" r="0.7" fill="#aaaaaa"/><circle cx="203.3" cy="668.7" r="0.7" fill="#ababab"/><circle cx="248.0" cy="685.8" r="0.9" fill="#9d9d9d"/><circle cx="234.6" cy="701.1" r="0.9" fill="#8b8b8b"/><circle cx="225.4" cy="658.8" r="1.0" fill="#909090"/><circle cx="206.2" cy="666.1" r="0.9" fill="#888888"/><circle cx="250.8" cy="708.9" r="1.0" fill="#ababab"/><circle cx="221.8" cy="703.2" r="0.8" fill="#808080"/><circle cx="202.6" cy="721.9" r="0.7" fill="#9c9c9c"/><circle cx="232.7" cy="732.0" r="0.7" fill="#888888"/><circle cx="192.6" cy="702.2" r="1.0" fill="#848484"/><circle cx="221.8" cy="722.4" r="0.7" fill="#939393"/><circle cx="208.1" cy="677.6" r="0.9" fill="#858585"/><circle cx="203.9" cy="698.1" r="0.8" fill="#898989"/><circle cx="232.8" cy="667.5" r="0.7" fill="#8e8e8e"/><circle cx="252.7" cy="689.4" r="0.8" fill="#838383"/><circle cx="236.5" cy="695.4" r="0.9" fill="#989898"/><circle cx="235.0" cy="684.0" r="0.7" fill="#959595"/><circle cx="206.6" cy="703.6" r="0.7" fill="#929292"/><circle cx="208.2" cy="702.8" r="0.9" fill="#a8a8a8"/><circle cx="227.6" cy="720.4" r="0.6" fill="#8f8f8f"/><circle cx="187.5" cy="706.1" r="0.9" fill="#8b8b8b"/><circle cx="200.0" cy="728.3" r="0.6" fill="#a3a3a3"/><circle cx="205.3" cy="679.5" r="0.9" fill="#959595"/><circle cx="216.2" cy="733.8" r="0.8" fill="#a5a5a5"/><circle cx="208.0" cy="661.3" r="0.9" fill="#b0b0b0"/><circle cx="215.1" cy="665.0" r="0.8" fill="#adadad"/><circle cx="214.5" cy="730.9" r="0.8" fill="#979797"/><circle cx="212.6" cy="726.2" r="0.6" fill="#969696"/><circle cx="211.5" cy="703.6" r="1.0" fill="#949494"/><circle cx="237.4" cy="695.5" r="0.5" fill="#969696"/><circle cx="228.8" cy="709.1" r="0.9" fill="#aeaeae"/><circle cx="225.0" cy="671.6" r="0.8" fill="#8f8f8f"/><circle cx="237.6" cy="670.5" r="0.8" fill="#9e9e9e"/><circle cx="212.5" cy="686.8" r="0.7" fill="#9f9f9f"/><circle cx="236.0" cy="707.9" r="0.6" fill="#909090"/><circle cx="238.8" cy="718.5" r="0.5" fill="#8c8c8c"/><circle cx="223.5" cy="719.5" r="0.8" fill="#959595"/><circle cx="254.2" cy="686.8" r="0.8" fill="#898989"/><circle cx="227.6" cy="708.5" r="0.7" fill="#919191"/><circle cx="243.3" cy="721.4" r="0.9" fill="#959595"/><circle cx="202.0" cy="670.9" r="1.0" fill="#8e8e8e"/><circle cx="249.1" cy="698.7" r="0.7" fill="#a7a7a7"/><circle cx="244.3" cy="676.8" r="0.8" fill="#858585"/><circle cx="197.0" cy="683.0" r="1.0" fill="#999999"/><circle cx="238.2" cy="675.4" r="0.7" fill="#a1a1a1"/><circle cx="185.6" cy="710.6" r="0.7" fill="#a5a5a5"/><circle cx="251.0" cy="728.2" r="0.8" fill="#8b8b8b"/><circle cx="243.4" cy="709.9" r="0.9" fill="#808080"/><circle cx="222.4" cy="733.2" r="0.6" fill="#818181"/><circle cx="243.6" cy="726.3" r="0.5" fill="#a9a9a9"/><circle cx="185.3" cy="707.4" r="0.7" fill="#848484"/><circle cx="192.0" cy="702.7" r="0.6" fill="#a0a0a0"/><circle cx="214.2" cy="696.7" r="0.8" fill="#808080"/><circle cx="236.2" cy="672.0" r="0.8" fill="#8f8f8f"/><circle cx="241.7" cy="721.6" r="0.6" fill="#878787"/><circle cx="223.6" cy="727.6" r="0.9" fill="#a7a7a7"/><circle cx="228.6" cy="724.2" r="0.8" fill="#999999"/><circle cx="252.1" cy="679.1" r="0.8" fill="#ababab"/><circle cx="230.0" cy="710.7" r="0.9" fill="#a8a8a8"/><circle cx="239.7" cy="694.5" r="0.6" fill="#959595"/><circle cx="198.3" cy="710.6" r="0.7" fill="#939393"/><circle cx="234.8" cy="670.1" r="0.7" fill="#929292"/><circle cx="194.3" cy="694.1" r="0.6" fill="#9a9a9a"/><circle cx="212.9" cy="665.7" r="0.8" fill="#818181"/><circle cx="194.0" cy="677.5" r="0.6" fill="#999999"/><circle cx="193.6" cy="683.0" r="0.8" fill="#afafaf"/><circle cx="220.2" cy="734.4" r="0.8" fill="#afafaf"/><circle cx="228.3" cy="661.6" r="0.9" fill="#a6a6a6"/><circle cx="209.7" cy="731.1" r="1.0" fill="#888888"/><circle cx="202.8" cy="675.9" r="0.6" fill="#858585"/><circle cx="262.2" cy="693.6" r="0.7" fill="#929292"/><circle cx="239.1" cy="695.3" r="0.7" fill="#919191"/><circle cx="240.6" cy="674.8" r="0.5" fill="#9a9a9a"/><circle cx="219.2" cy="692.4" r="0.6" fill="#878787"/><circle cx="199.6" cy="672.1" r="1.0" fill="#818181"/><circle cx="228.3" cy="722.6" r="0.8" fill="#999999"/><circle cx="193.0" cy="679.1" r="0.9" fill="#9b9b9b"/><circle cx="227.8" cy="664.7" r="0.9" fill="#9c9c9c"/><circle cx="251.4" cy="669.4" r="0.7" fill="#a7a7a7"/><circle cx="222.5" cy="717.3" r="0.7" fill="#8c8c8c"/><circle cx="224.3" cy="660.7" r="0.7" fill="#848484"/><circle cx="238.6" cy="727.6" r="0.9" fill="#8e8e8e"/><circle cx="226.9" cy="665.6" r="0.8" fill="#888888"/><circle cx="213.4" cy="678.0" r="0.6" fill="#939393"/><circle cx="253.2" cy="720.5" r="0.5" fill="#949494"/><circle cx="251.4" cy="710.1" r="0.9" fill="#aaaaaa"/><circle cx="207.8" cy="722.2" r="0.7" fill="#adadad"/><circle cx="254.5" cy="702.7" r="0.6" fill="#898989"/><circle cx="242.2" cy="730.3" r="0.9" fill="#a8a8a8"/><circle cx="189.1" cy="678.1" r="0.8" fill="#9f9f9f"/><circle cx="186.3" cy="704.0" r="0.6" fill="#a4a4a4"/><circle cx="210.5" cy="738.1" r="1.0" fill="#8c8c8c"/><circle cx="193.5" cy="672.0" r="0.7" fill="#a7a7a7"/><circle cx="214.1" cy="670.3" r="0.6" fill="#8d8d8d"/><circle cx="203.2" cy="691.1" r="0.6" fill="#a7a7a7"/><circle cx="218.8" cy="661.5" r="0.6" fill="#9d9d9d"/><circle cx="200.7" cy="717.2" r="0.7" fill="#8d8d8d"/><circle cx="223.6" cy="708.9" r="0.8" fill="#858585"/><circle cx="198.5" cy="680.6" r="0.5" fill="#989898"/><circle cx="216.0" cy="673.6" r="0.8" fill="#868686"/><circle cx="206.5" cy="718.0" r="1.0" fill="#9f9f9f"/><circle cx="192.4" cy="682.1" r="0.9" fill="#8e8e8e"/><circle cx="221.7" cy="706.1" r="0.5" fill="#a9a9a9"/><circle cx="237.9" cy="717.5" r="0.8" fill="#a7a7a7"/><circle cx="236.9" cy="717.0" r="0.9" fill="#a9a9a9"/><circle cx="211.5" cy="694.7" r="0.8" fill="#9b9b9b"/><circle cx="221.0" cy="691.7" r="0.8" fill="#919191"/><circle cx="183.0" cy="705.9" r="0.7" fill="#959595"/><circle cx="217.9" cy="687.1" r="0.7" fill="#a6a6a6"/><circle cx="228.4" cy="674.5" r="1.0" fill="#a8a8a8"/><circle cx="218.4" cy="727.6" r="0.6" fill="#a6a6a6"/><circle cx="229.5" cy="697.7" r="0.7" fill="#a8a8a8"/><circle cx="257.2" cy="700.9" r="1.0" fill="#adadad"/><circle cx="255.2" cy="709.7" r="0.8" fill="#a0a0a0"/><circle cx="201.8" cy="681.6" r="0.7" fill="#8b8b8b"/><circle cx="227.6" cy="706.6" r="0.8" fill="#aeaeae"/><circle cx="238.9" cy="668.8" r="0.6" fill="#828282"/><circle cx="253.8" cy="692.9" r="1.0" fill="#8e8e8e"/><circle cx="190.4" cy="721.9" r="0.6" fill="#a6a6a6"/><circle cx="240.5" cy="688.4" r="0.8" fill="#868686"/><circle cx="249.5" cy="700.1" r="0.8" fill="#919191"/><circle cx="205.9" cy="689.4" r="0.8" fill="#a1a1a1"/><circle cx="247.0" cy="686.1" r="0.9" fill="#898989"/><circle cx="197.7" cy="711.6" r="0.7" fill="#a4a4a4"/><circle cx="238.5" cy="733.5" r="1.0" fill="#a6a6a6"/><circle cx="258.5" cy="687.8" r="1.0" fill="#525252"/><circle cx="181.5" cy="700.2" r="1.1" fill="#515151"/><circle cx="257.7" cy="704.2" r="1.2" fill="#707070"/><circle cx="194.8" cy="716.5" r="1.2" fill="#666666"/><circle cx="196.6" cy="705.1" r="0.8" fill="#565656"/><circle cx="203.0" cy="725.5" r="0.6" fill="#616161"/><circle cx="218.0" cy="694.3" r="0.8" fill="#494949"/><circle cx="253.4" cy="693.8" r="0.9" fill="#737373"/><circle cx="219.3" cy="727.3" r="0.9" fill="#696969"/><circle cx="239.2" cy="675.9" r="1.0" fill="#6b6b6b"/><circle cx="232.6" cy="685.5" r="0.8" fill="#787878"/><circle cx="214.1" cy="709.7" r="1.0" fill="#575757"/><circle cx="222.4" cy="665.4" r="1.2" fill="#4f4f4f"/><circle cx="197.2" cy="710.7" r="0.9" fill="#4d4d4d"/><circle cx="262.9" cy="689.7" r="0.8" fill="#6f6f6f"/><circle cx="255.8" cy="686.5" r="1.0" fill="#6b6b6b"/><circle cx="213.7" cy="712.1" r="1.0" fill="#717171"/><circle cx="235.9" cy="724.0" r="1.0" fill="#767676"/><circle cx="232.5" cy="674.2" r="1.1" fill="#6c6c6c"/><circle cx="242.7" cy="687.7" r="1.0" fill="#585858"/><circle cx="206.6" cy="669.2" r="0.8" fill="#4a4a4a"/><circle cx="226.6" cy="711.9" r="0.6" fill="#5f5f5f"/><circle cx="212.7" cy="720.2" r="0.8" fill="#777777"/><circle cx="234.9" cy="678.5" r="0.6" fill="#6e6e6e"/><circle cx="190.4" cy="703.2" r="0.7" fill="#4e4e4e"/><circle cx="203.5" cy="684.3" r="0.8" fill="#505050"/><circle cx="220.9" cy="689.9" r="0.8" fill="#666666"/><circle cx="204.0" cy="672.5" r="0.6" fill="#666666"/><circle cx="202.7" cy="674.9" r="0.7" fill="#6f6f6f"/><circle cx="211.7" cy="720.4" r="1.1" fill="#616161"/><circle cx="190.7" cy="684.3" r="0.9" fill="#595959"/><circle cx="239.5" cy="709.0" r="0.8" fill="#5f5f5f"/><circle cx="246.3" cy="665.0" r="0.7" fill="#575757"/><circle cx="190.4" cy="690.9" r="1.0" fill="#555555"/><circle cx="205.5" cy="688.6" r="1.1" fill="#6d6d6d"/><circle cx="234.2" cy="736.2" r="0.6" fill="#666666"/><circle cx="220.8" cy="665.6" r="1.0" fill="#767676"/><circle cx="210.7" cy="660.9" r="1.1" fill="#6f6f6f"/><circle cx="258.7" cy="700.6" r="1.2" fill="#757575"/><circle cx="229.7" cy="731.3" r="0.9" fill="#707070"/><circle cx="228.9" cy="716.0" r="0.8" fill="#494949"/><circle cx="262.0" cy="701.7" r="0.8" fill="#6c6c6c"/><circle cx="206.0" cy="718.4" r="0.6" fill="#656565"/><circle cx="239.8" cy="732.5" r="1.1" fill="#656565"/><circle cx="251.2" cy="681.3" r="0.8" fill="#666666"/><circle cx="184.3" cy="689.7" r="1.1" fill="#757575"/><circle cx="229.7" cy="677.8" r="0.6" fill="#6b6b6b"/><circle cx="230.0" cy="725.1" r="0.7" fill="#6d6d6d"/><circle cx="208.7" cy="736.6" r="1.1" fill="#747474"/><circle cx="203.7" cy="730.5" r="0.7" fill="#565656"/><circle cx="238.0" cy="679.4" r="0.8" fill="#747474"/><circle cx="199.4" cy="668.7" r="0.7" fill="#565656"/><circle cx="237.1" cy="701.7" r="0.7" fill="#4c4c4c"/><circle cx="183.0" cy="697.9" r="1.2" fill="#757575"/><circle cx="204.4" cy="682.9" r="1.2" fill="#767676"/><circle cx="222.0" cy="675.9" r="1.1" fill="#787878"/><circle cx="256.1" cy="702.8" r="1.0" fill="#6a6a6a"/><circle cx="223.3" cy="683.7" r="1.0" fill="#626262"/><circle cx="210.2" cy="673.2" r="0.8" fill="#4c4c4c"/><circle cx="235.5" cy="688.8" r="1.0" fill="#484848"/><circle cx="240.0" cy="663.4" r="0.8" fill="#757575"/><circle cx="235.8" cy="718.1" r="0.9" fill="#6a6a6a"/><circle cx="251.6" cy="729.2" r="0.7" fill="#767676"/><circle cx="226.6" cy="679.4" r="0.8" fill="#4d4d4d"/><circle cx="247.1" cy="675.0" r="0.7" fill="#717171"/><circle cx="202.0" cy="667.4" r="0.8" fill="#676767"/><circle cx="209.0" cy="679.0" r="0.7" fill="#4f4f4f"/><circle cx="218.2" cy="691.9" r="1.0" fill="#606060"/><circle cx="245.4" cy="727.9" r="1.0" fill="#707070"/><circle cx="219.5" cy="729.5" r="1.1" fill="#4d4d4d"/><circle cx="191.6" cy="696.2" r="1.0" fill="#545454"/><circle cx="205.7" cy="671.2" r="1.0" fill="#6a6a6a"/><circle cx="237.2" cy="694.2" r="0.7" fill="#737373"/><circle cx="197.5" cy="706.5" r="0.7" fill="#565656"/><circle cx="236.0" cy="703.1" r="0.6" fill="#4f4f4f"/><circle cx="222.6" cy="677.9" r="0.9" fill="#5d5d5d"/><circle cx="215.3" cy="703.1" r="0.7" fill="#505050"/><circle cx="257.6" cy="683.4" r="0.7" fill="#515151"/><circle cx="256.5" cy="697.6" r="1.1" fill="#656565"/><circle cx="250.1" cy="700.4" r="1.0" fill="#4a4a4a"/><circle cx="223.7" cy="700.7" r="1.1" fill="#606060"/><circle cx="239.0" cy="664.2" r="0.7" fill="#595959"/><circle cx="234.6" cy="669.8" r="1.2" fill="#5b5b5b"/><circle cx="213.3" cy="724.2" r="0.9" fill="#606060"/><circle cx="227.3" cy="657.9" r="0.7" fill="#626262"/><circle cx="214.2" cy="729.5" r="0.9" fill="#6c6c6c"/><circle cx="211.5" cy="670.7" r="0.9" fill="#585858"/><circle cx="258.3" cy="681.8" r="0.9" fill="#4d4d4d"/><circle cx="253.0" cy="675.0" r="0.9" fill="#696969"/><circle cx="212.4" cy="686.4" r="0.7" fill="#4e4e4e"/><circle cx="219.0" cy="657.9" r="0.9" fill="#686868"/><circle cx="245.8" cy="680.0" r="1.1" fill="#525252"/><circle cx="238.4" cy="681.8" r="0.9" fill="#787878"/><circle cx="187.4" cy="695.6" r="1.0" fill="#565656"/><circle cx="247.9" cy="680.6" r="0.9" fill="#4a4a4a"/><circle cx="247.7" cy="680.6" r="0.8" fill="#525252"/><circle cx="217.6" cy="662.4" r="1.1" fill="#545454"/><circle cx="189.2" cy="682.1" r="0.9" fill="#585858"/><circle cx="192.2" cy="688.8" r="0.7" fill="#717171"/><circle cx="203.8" cy="681.0" r="1.1" fill="#4b4b4b"/><circle cx="258.7" cy="712.2" r="1.3" fill="#454545"/><circle cx="182.8" cy="707.4" r="0.7" fill="#464646"/><circle cx="233.8" cy="738.7" r="0.8" fill="#808080"/><circle cx="250.1" cy="673.8" r="0.6" fill="#696969"/><circle cx="263.2" cy="701.9" r="1.1" fill="#7d7d7d"/><circle cx="249.4" cy="729.0" r="1.1" fill="#656565"/><circle cx="256.1" cy="715.7" r="0.6" fill="#484848"/><circle cx="262.7" cy="690.9" r="1.0" fill="#424242"/><circle cx="262.6" cy="706.8" r="1.0" fill="#7c7c7c"/><circle cx="189.0" cy="714.9" r="1.1" fill="#6a6a6a"/><circle cx="254.5" cy="722.9" r="1.1" fill="#434343"/><circle cx="246.1" cy="733.1" r="0.8" fill="#4f4f4f"/><circle cx="259.0" cy="703.2" r="1.2" fill="#4d4d4d"/><circle cx="194.0" cy="724.0" r="1.2" fill="#575757"/><circle cx="188.4" cy="720.6" r="1.2" fill="#777777"/><circle cx="188.3" cy="689.3" r="0.6" fill="#636363"/><circle cx="255.5" cy="723.4" r="1.2" fill="#5e5e5e"/><circle cx="205.6" cy="662.2" r="0.7" fill="#404040"/><circle cx="242.1" cy="734.2" r="0.8" fill="#6a6a6a"/><circle cx="208.6" cy="661.8" r="1.2" fill="#5a5a5a"/><circle cx="199.4" cy="672.6" r="1.3" fill="#6e6e6e"/><circle cx="184.5" cy="701.1" r="0.7" fill="#5b5b5b"/><circle cx="193.1" cy="724.8" r="1.3" fill="#676767"/><circle cx="199.5" cy="665.3" r="0.8" fill="#676767"/><circle cx="262.1" cy="699.0" r="0.7" fill="#7c7c7c"/><circle cx="182.4" cy="698.9" r="0.7" fill="#6d6d6d"/><circle cx="214.0" cy="737.1" r="1.0" fill="#4c4c4c"/><circle cx="260.9" cy="687.2" r="0.7" fill="#5d5d5d"/><circle cx="259.0" cy="680.3" r="0.7" fill="#525252"/><circle cx="182.8" cy="704.2" r="0.7" fill="#585858"/><circle cx="183.5" cy="704.2" r="1.3" fill="#4d4d4d"/><circle cx="201.5" cy="734.0" r="0.8" fill="#515151"/><circle cx="223.7" cy="740.0" r="1.2" fill="#454545"/><circle cx="259.6" cy="700.8" r="0.7" fill="#474747"/><circle cx="232.1" cy="662.9" r="0.7" fill="#494949"/><circle cx="261.7" cy="707.1" r="0.7" fill="#4e4e4e"/><circle cx="189.5" cy="718.7" r="1.0" fill="#434343"/><circle cx="223.6" cy="658.9" r="1.1" fill="#565656"/><circle cx="251.5" cy="727.2" r="0.8" fill="#636363"/><circle cx="183.3" cy="694.2" r="1.0" fill="#626262"/><circle cx="253.0" cy="725.0" r="1.0" fill="#595959"/><circle cx="219.5" cy="658.2" r="0.7" fill="#434343"/><circle cx="255.9" cy="679.1" r="1.2" fill="#7a7a7a"/><circle cx="187.3" cy="706.5" r="1.1" fill="#404040"/><circle cx="242.9" cy="668.3" r="0.8" fill="#494949"/></g>
<defs><clipPath id="c3"><circle cx="317.3" cy="697.5" r="41.8"/></clipPath><radialGradient id="g3"><stop offset="0" stop-color="#e4e4e4"/><stop offset="0.8" stop-color="#dcdcdc"/><stop offset="1" stop-color="#d0d0d0"/></radialGradient></defs>
<rect x="274.10" y="654.90" width="87.10" height="86.50" fill="#d6d6d6"/>
<circle cx="317.3" cy="697.5" r="43.0" fill="url(#g3)" stroke="#7e7e7e" stroke-width="1.4"/>
<circle cx="317.3" cy="697.5" r="39.0" fill="none" stroke="#000" stroke-opacity="0.05" stroke-width="5"/>
<circle cx="317.3" cy="697.5" r="41.2" fill="none" stroke="#b0b0b0" stroke-width="0.8"/>
<g clip-path="url(#c3)" filter="url(#soft)"><circle cx="319.6" cy="727.3" r="0.7" fill="#a6a6a6"/><circle cx="286.8" cy="702.5" r="0.8" fill="#9e9e9e"/><circle cx="316.1" cy="717.1" r="1.0" fill="#9e9e9e"/><circle cx="288.3" cy="689.9" r="0.7" fill="#898989"/><circle cx="319.1" cy="713.2" r="1.0" fill="#989898"/><circle cx="315.5" cy="664.4" r="0.5" fill="#b0b0b0"/><circle cx="325.4" cy="695.3" r="0.9" fill="#919191"/><circle cx="283.5" cy="703.4" r="0.9" fill="#adadad"/><circle cx="323.6" cy="671.8" r="0.9" fill="#a4a4a4"/><circle cx="280.5" cy="710.9" r="0.9" fill="#868686"/><circle cx="345.1" cy="703.9" r="0.6" fill="#ababab"/><circle cx="287.8" cy="710.0" r="0.7" fill="#a0a0a0"/><circle cx="332.7" cy="670.9" r="0.8" fill="#9a9a9a"/><circle cx="284.1" cy="678.1" r="0.8" fill="#818181"/><circle cx="342.3" cy="665.9" r="0.8" fill="#8a8a8a"/><circle cx="310.0" cy="675.6" r="0.8" fill="#a4a4a4"/><circle cx="286.3" cy="683.1" r="0.6" fill="#a4a4a4"/><circle cx="315.8" cy="711.7" r="0.7" fill="#a8a8a8"/><circle cx="329.3" cy="696.7" r="0.9" fill="#9a9a9a"/><circle cx="321.9" cy="694.0" r="0.7" fill="#9a9a9a"/><circle cx="323.2" cy="691.4" r="0.8" fill="#828282"/><circle cx="295.0" cy="719.0" r="0.8" fill="#919191"/><circle cx="276.9" cy="696.1" r="0.7" fill="#848484"/><circle cx="340.4" cy="716.1" r="1.0" fill="#9a9a9a"/><circle cx="311.9" cy="717.6" r="0.8" fill="#959595"/><circle cx="301.8" cy="734.0" r="0.9" fill="#989898"/><circle cx="290.3" cy="723.9" r="0.7" fill="#a6a6a6"/><circle cx="311.8" cy="685.7" r="1.0" fill="#a0a0a0"/><circle cx="313.0" cy="729.5" r="0.9" fill="#939393"/><circle cx="298.3" cy="705.4" r="0.7" fill="#959595"/><circle cx="343.3" cy="699.4" r="0.8" fill="#818181"/><circle cx="295.1" cy="719.3" r="0.6" fill="#a8a8a8"/><circle cx="298.0" cy="677.7" r="0.8" fill="#969696"/><circle cx="300.7" cy="684.0" r="0.7" fill="#a5a5a5"/><circle cx="348.2" cy="709.9" r="1.0" fill="#909090"/><circle cx="301.9" cy="681.6" r="0.8" fill="#8b8b8b"/><circle cx="302.4" cy="714.6" r="0.7" fill="#a6a6a6"/><circle cx="314.1" cy="733.3" r="0.6" fill="#818181"/><circle cx="350.2" cy="691.5" r="0.6" fill="#a0a0a0"/><circle cx="323.5" cy="733.3" r="0.6" fill="#8b8b8b"/><circle cx="303.0" cy="668.1" r="0.5" fill="#a6a6a6"/><circle cx="307.1" cy="718.5" r="0.9" fill="#9c9c9c"/><circle cx="331.9" cy="660.6" r="0.5" fill="#afafaf"/><circle cx="295.0" cy="666.6" r="0.7" fill="#8e8e8e"/><circle cx="319.0" cy="690.2" r="1.0" fill="#949494"/><circle cx="330.3" cy="662.7" r="0.6" fill="#919191"/><circle cx="297.5" cy="728.6" r="0.5" fill="#a7a7a7"/><circle cx="309.1" cy="709.5" r="0.6" fill="#919191"/><circle cx="285.8" cy="704.6" r="0.6" fill="#a4a4a4"/><circle cx="284.6" cy="718.4" r="0.6" fill="#808080"/><circle cx="280.7" cy="702.7" r="0.8" fill="#a0a0a0"/><circle cx="281.1" cy="713.3" r="1.0" fill="#8e8e8e"/><circle cx="344.1" cy="703.0" r="0.9" fill="#afafaf"/><circle cx="295.7" cy="694.9" r="0.7" fill="#8e8e8e"/><circle cx="341.5" cy="668.8" r="1.0" fill="#878787"/><circle cx="320.5" cy="689.5" r="1.0" fill="#acacac"/><circle cx="299.3" cy="696.1" r="0.9" fill="#9b9b9b"/><circle cx="313.2" cy="695.3" r="0.9" fill="#8a8a8a"/><circle cx="297.5" cy="697.1" r="0.5" fill="#a2a2a2"/><circle cx="283.7" cy="717.7" r="0.8" fill="#959595"/><circle cx="345.5" cy="725.8" r="0.8" fill="#838383"/><circle cx="306.6" cy="711.9" r="0.8" fill="#878787"/><circle cx="334.4" cy="729.2" r="1.0" fill="#888888"/><circle cx="318.9" cy="694.4" r="0.8" fill="#999999"/><circle cx="337.4" cy="704.0" r="0.6" fill="#a1a1a1"/><circle cx="308.2" cy="696.4" r="0.7" fill="#808080"/><circle cx="339.5" cy="669.6" r="0.5" fill="#838383"/><circle cx="353.6" cy="714.2" r="0.9" fill="#858585"/><circle cx="289.1" cy="694.8" r="0.6" fill="#848484"/><circle cx="297.9" cy="723.7" r="0.8" fill="#979797"/><circle cx="313.5" cy="737.6" r="0.7" fill="#888888"/><circle cx="285.1" cy="685.8" r="0.7" fill="#858585"/><circle cx="309.6" cy="694.1" r="0.7" fill="#a9a9a9"/><circle cx="322.4" cy="673.0" r="0.9" fill="#a7a7a7"/><circle cx="324.4" cy="691.4" r="0.8" fill="#b0b0b0"/><circle cx="309.6" cy="672.4" r="0.8" fill="#9d9d9d"/><circle cx="336.1" cy="699.6" r="0.6" fill="#a5a5a5"/><circle cx="341.1" cy="709.0" r="0.7" fill="#818181"/><circle cx="340.1" cy="687.9" r="0.9" fill="#909090"/><circle cx="341.6" cy="720.8" r="1.0" fill="#aeaeae"/><circle cx="297.3" cy="665.0" r="0.9" fill="#aaaaaa"/><circle cx="335.0" cy="711.9" r="0.8" fill="#a5a5a5"/><circle cx="311.5" cy="670.2" r="0.6" fill="#989898"/><circle cx="329.1" cy="700.9" r="0.5" fill="#989898"/><circle cx="320.0" cy="703.1" r="0.9" fill="#878787"/><circle cx="330.9" cy="699.7" r="0.7" fill="#acacac"/><circle cx="346.8" cy="688.4" r="0.9" fill="#828282"/><circle cx="347.7" cy="696.8" r="0.8" fill="#8f8f8f"/><circle cx="344.8" cy="719.3" r="1.0" fill="#838383"/><circle cx="281.4" cy="685.8" r="0.6" fill="#848484"/><circle cx="318.1" cy="714.7" r="0.6" fill="#a7a7a7"/><circle cx="305.2" cy="660.1" r="0.6" fill="#a6a6a6"/><circle cx="298.2" cy="712.0" r="0.7" fill="#858585"/><circle cx="303.4" cy="711.4" r="1.0" fill="#afafaf"/><circle cx="342.8" cy="692.1" r="0.8" fill="#a5a5a5"/><circle cx="303.9" cy="671.6" r="0.7" fill="#a9a9a9"/><circle cx="286.3" cy="719.7" r="0.6" fill="#9f9f9f"/><circle cx="316.9" cy="658.7" r="0.8" fill="#9c9c9c"/><circle cx="285.2" cy="678.1" r="0.6" fill="#b0b0b0"/><circle cx="327.0" cy="726.9" r="0.7" fill="#8e8e8e"/><circle cx="335.0" cy="673.6" r="0.9" fill="#aaaaaa"/><circle cx="310.1" cy="672.5" r="0.9" fill="#a5a5a5"/><circle cx="355.3" cy="693.6" r="0.7" fill="#919191"/><circle cx="292.5" cy="700.7" r="0.6" fill="#979797"/><circle cx="319.3" cy="725.6" r="0.9" fill="#9a9a9a"/><circle cx="345.3" cy="696.0" r="0.8" fill="#9d9d9d"/><circle cx="283.7" cy="678.9" r="0.8" fill="#818181"/><circle cx="283.2" cy="701.5" r="0.9" fill="#999999"/><circle cx="325.2" cy="660.3" r="0.5" fill="#8e8e8e"/><circle cx="342.6" cy="676.9" r="0.9" fill="#848484"/><circle cx="353.5" cy="687.9" r="0.6" fill="#8c8c8c"/><circle cx="319.7" cy="682.7" r="0.8" fill="#ababab"/><circle cx="341.5" cy="667.7" r="0.6" fill="#828282"/><circle cx="307.1" cy="721.8" r="0.9" fill="#858585"/><circle cx="332.7" cy="711.6" r="1.0" fill="#828282"/><circle cx="298.1" cy="721.7" r="0.8" fill="#808080"/><circle cx="340.2" cy="701.8" r="0.7" fill="#848484"/><circle cx="325.0" cy="727.5" r="1.0" fill="#999999"/><circle cx="333.4" cy="713.7" r="0.9" fill="#848484"/><circle cx="310.4" cy="685.8" r="0.9" fill="#909090"/><circle cx="349.5" cy="720.0" r="0.7" fill="#979797"/><circle cx="318.3" cy="675.5" r="0.8" fill="#a9a9a9"/><circle cx="351.7" cy="684.9" r="0.6" fill="#959595"/><circle cx="303.5" cy="671.3" r="0.6" fill="#9f9f9f"/><circle cx="307.4" cy="697.0" r="0.6" fill="#aeaeae"/><circle cx="301.5" cy="690.5" r="0.8" fill="#a8a8a8"/><circle cx="331.9" cy="717.4" r="1.0" fill="#9d9d9d"/><circle cx="345.3" cy="724.8" r="0.6" fill="#959595"/><circle cx="297.3" cy="671.7" r="0.7" fill="#939393"/><circle cx="300.8" cy="675.6" r="0.7" fill="#8b8b8b"/><circle cx="313.6" cy="684.7" r="0.6" fill="#a3a3a3"/><circle cx="283.7" cy="688.2" r="0.7" fill="#919191"/><circle cx="316.1" cy="706.8" r="0.6" fill="#9e9e9e"/><circle cx="297.2" cy="696.9" r="0.9" fill="#969696"/><circle cx="345.2" cy="669.7" r="0.7" fill="#848484"/><circle cx="294.8" cy="727.3" r="0.6" fill="#919191"/><circle cx="289.1" cy="679.6" r="0.8" fill="#aeaeae"/><circle cx="343.1" cy="719.4" r="0.8" fill="#aaaaaa"/><circle cx="315.8" cy="661.0" r="0.9" fill="#a5a5a5"/><circle cx="288.1" cy="674.0" r="0.9" fill="#a2a2a2"/><circle cx="287.2" cy="692.2" r="0.6" fill="#909090"/><circle cx="302.3" cy="713.5" r="0.9" fill="#9c9c9c"/><circle cx="347.9" cy="672.6" r="0.7" fill="#a3a3a3"/><circle cx="336.0" cy="685.0" r="0.7" fill="#a1a1a1"/><circle cx="308.7" cy="677.1" r="0.9" fill="#9e9e9e"/><circle cx="334.7" cy="700.8" r="0.8" fill="#868686"/><circle cx="321.5" cy="664.8" r="0.7" fill="#a1a1a1"/><circle cx="304.5" cy="684.7" r="0.9" fill="#8d8d8d"/><circle cx="345.2" cy="704.1" r="0.8" fill="#9c9c9c"/><circle cx="333.8" cy="711.4" r="0.8" fill="#898989"/><circle cx="341.0" cy="724.6" r="0.8" fill="#838383"/><circle cx="348.7" cy="702.6" r="0.8" fill="#9f9f9f"/><circle cx="279.4" cy="688.1" r="0.7" fill="#969696"/><circle cx="312.2" cy="683.5" r="0.9" fill="#a6a6a6"/><circle cx="318.5" cy="690.1" r="0.5" fill="#959595"/><circle cx="335.6" cy="697.3" r="0.5" fill="#8c8c8c"/><circle cx="284.8" cy="711.1" r="0.7" fill="#868686"/><circle cx="323.2" cy="672.3" r="0.9" fill="#adadad"/><circle cx="332.5" cy="721.7" r="0.8" fill="#a2a2a2"/><circle cx="328.3" cy="682.7" r="0.7" fill="#818181"/><circle cx="282.9" cy="705.3" r="0.7" fill="#8b8b8b"/><circle cx="309.8" cy="699.7" r="0.6" fill="#979797"/><circle cx="294.2" cy="705.4" r="0.7" fill="#808080"/><circle cx="324.2" cy="678.1" r="0.7" fill="#9d9d9d"/><circle cx="301.5" cy="694.1" r="0.5" fill="#a5a5a5"/><circle cx="303.6" cy="706.9" r="0.5" fill="#878787"/><circle cx="296.4" cy="680.5" r="0.6" fill="#818181"/><circle cx="298.6" cy="710.6" r="0.5" fill="#adadad"/><circle cx="341.7" cy="705.6" r="0.7" fill="#818181"/><circle cx="349.3" cy="676.9" r="0.6" fill="#989898"/><circle cx="301.1" cy="700.1" r="0.8" fill="#969696"/><circle cx="343.9" cy="681.2" r="0.9" fill="#929292"/><circle cx="311.7" cy="733.0" r="0.7" fill="#939393"/><circle cx="287.0" cy="699.7" r="0.5" fill="#959595"/><circle cx="300.9" cy="680.3" r="0.5" fill="#ababab"/><circle cx="306.2" cy="702.3" r="0.8" fill="#868686"/><circle cx="329.3" cy="699.8" r="0.6" fill="#828282"/><circle cx="299.8" cy="699.5" r="0.8" fill="#959595"/><circle cx="329.5" cy="735.6" r="0.7" fill="#9e9e9e"/><circle cx="351.4" cy="678.0" r="0.5" fill="#939393"/><circle cx="317.6" cy="665.3" r="0.7" fill="#929292"/><circle cx="327.8" cy="721.3" r="0.8" fill="#a3a3a3"/><circle cx="300.4" cy="726.3" r="1.0" fill="#8b8b8b"/><circle cx="337.0" cy="665.4" r="0.7" fill="#a3a3a3"/><circle cx="306.3" cy="710.9" r="0.9" fill="#9c9c9c"/><circle cx="321.9" cy="733.0" r="0.7" fill="#919191"/><circle cx="329.7" cy="671.5" r="0.9" fill="#adadad"/><circle cx="304.4" cy="660.2" r="0.5" fill="#8a8a8a"/><circle cx="315.8" cy="691.6" r="0.7" fill="#b0b0b0"/><circle cx="305.5" cy="666.8" r="0.7" fill="#a6a6a6"/><circle cx="335.3" cy="670.5" r="0.9" fill="#838383"/><circle cx="280.8" cy="709.4" r="0.9" fill="#959595"/><circle cx="319.0" cy="697.5" r="0.6" fill="#868686"/><circle cx="305.4" cy="716.7" r="0.7" fill="#a9a9a9"/><circle cx="325.6" cy="730.1" r="1.0" fill="#a9a9a9"/><circle cx="342.3" cy="729.0" r="0.6" fill="#929292"/><circle cx="335.9" cy="693.6" r="0.8" fill="#9a9a9a"/><circle cx="278.7" cy="696.3" r="0.7" fill="#a2a2a2"/><circle cx="322.9" cy="670.4" r="0.8" fill="#828282"/><circle cx="323.5" cy="685.4" r="0.5" fill="#868686"/><circle cx="329.3" cy="733.8" r="0.5" fill="#9d9d9d"/><circle cx="287.7" cy="719.3" r="0.8" fill="#868686"/><circle cx="295.1" cy="670.0" r="0.9" fill="#969696"/><circle cx="290.3" cy="716.4" r="0.9" fill="#929292"/><circle cx="333.3" cy="670.7" r="0.9" fill="#8d8d8d"/><circle cx="319.9" cy="699.9" r="0.6" fill="#a9a9a9"/><circle cx="338.4" cy="708.6" r="0.7" fill="#848484"/><circle cx="347.1" cy="682.1" r="0.7" fill="#a9a9a9"/><circle cx="343.9" cy="709.4" r="0.6" fill="#838383"/><circle cx="303.7" cy="720.4" r="0.5" fill="#8d8d8d"/><circle cx="301.7" cy="728.9" r="0.6" fill="#8d8d8d"/><circle cx="345.7" cy="669.0" r="0.8" fill="#adadad"/><circle cx="291.7" cy="691.7" r="1.0" fill="#a7a7a7"/><circle cx="344.1" cy="688.7" r="0.9" fill="#9a9a9a"/><circle cx="286.8" cy="703.4" r="0.5" fill="#818181"/><circle cx="322.3" cy="709.0" r="0.9" fill="#929292"/><circle cx="307.3" cy="697.3" r="0.7" fill="#8c8c8c"/><circle cx="316.7" cy="676.2" r="0.7" fill="#969696"/><circle cx="299.7" cy="701.1" r="0.9" fill="#898989"/><circle cx="334.9" cy="710.9" r="0.7" fill="#848484"/><circle cx="325.1" cy="724.7" r="0.9" fill="#929292"/><circle cx="356.9" cy="691.6" r="0.9" fill="#979797"/><circle cx="342.2" cy="688.1" r="1.0" fill="#9e9e9e"/><circle cx="287.9" cy="692.7" r="0.7" fill="#929292"/><circle cx="311.3" cy="724.4" r="0.9" fill="#939393"/><circle cx="316.7" cy="658.4" r="0.8" fill="#808080"/><circle cx="337.3" cy="719.2" r="0.8" fill="#8a8a8a"/><circle cx="319.0" cy="697.0" r="1.0" fill="#9d9d9d"/><circle cx="292.9" cy="729.0" r="0.7" fill="#a3a3a3"/><circle cx="334.3" cy="701.3" r="0.5" fill="#9b9b9b"/><circle cx="347.8" cy="676.6" r="0.8" fill="#868686"/><circle cx="297.6" cy="703.9" r="0.8" fill="#9f9f9f"/><circle cx="299.3" cy="707.7" r="0.5" fill="#9b9b9b"/><circle cx="356.6" cy="706.9" r="0.6" fill="#b0b0b0"/><circle cx="324.5" cy="678.7" r="0.6" fill="#b0b0b0"/><circle cx="331.4" cy="675.7" r="0.9" fill="#959595"/><circle cx="297.0" cy="690.6" r="0.6" fill="#818181"/><circle cx="307.4" cy="698.4" r="0.9" fill="#9d9d9d"/><circle cx="284.9" cy="704.2" r="1.0" fill="#a6a6a6"/><circle cx="292.7" cy="695.1" r="0.8" fill="#929292"/><circle cx="331.0" cy="728.1" r="1.0" fill="#a3a3a3"/><circle cx="345.9" cy="718.7" r="0.7" fill="#919191"/><circle cx="326.2" cy="671.7" r="1.0" fill="#898989"/><circle cx="303.9" cy="690.4" r="0.5" fill="#9f9f9f"/><circle cx="339.2" cy="667.8" r="1.0" fill="#a7a7a7"/><circle cx="314.0" cy="720.0" r="0.8" fill="#878787"/><circle cx="295.9" cy="699.2" r="0.9" fill="#919191"/><circle cx="343.8" cy="717.4" r="0.7" fill="#a0a0a0"/><circle cx="282.3" cy="700.4" r="0.9" fill="#9c9c9c"/><circle cx="330.4" cy="734.1" r="0.6" fill="#989898"/><circle cx="341.1" cy="688.3" r="0.5" fill="#8d8d8d"/><circle cx="354.7" cy="685.3" r="0.7" fill="#999999"/><circle cx="310.1" cy="694.9" r="0.7" fill="#9a9a9a"/><circle cx="328.6" cy="696.1" r="0.6" fill="#8c8c8c"/><circle cx="314.6" cy="663.8" r="0.6" fill="#a8a8a8"/><circle cx="334.2" cy="670.1" r="0.9" fill="#808080"/><circle cx="354.7" cy="683.3" r="0.8" fill="#9b9b9b"/><circle cx="314.2" cy="725.5" r="0.6" fill="#a2a2a2"/><circle cx="301.5" cy="691.3" r="0.7" fill="#8a8a8a"/><circle cx="341.1" cy="727.8" r="0.6" fill="#9d9d9d"/><circle cx="302.4" cy="668.5" r="0.6" fill="#838383"/><circle cx="330.9" cy="726.5" r="0.7" fill="#a9a9a9"/><circle cx="334.0" cy="663.5" r="0.5" fill="#898989"/><circle cx="292.8" cy="692.1" r="0.6" fill="#989898"/><circle cx="320.0" cy="703.5" r="0.6" fill="#878787"/><circle cx="326.1" cy="708.9" r="0.7" fill="#a6a6a6"/><circle cx="333.0" cy="705.8" r="1.0" fill="#898989"/><circle cx="337.2" cy="695.0" r="0.7" fill="#9f9f9f"/><circle cx="346.9" cy="720.1" r="0.7" fill="#afafaf"/><circle cx="297.5" cy="726.4" r="0.9" fill="#a4a4a4"/><circle cx="292.5" cy="713.8" r="0.7" fill="#898989"/><circle cx="281.2" cy="689.6" r="0.6" fill="#a6a6a6"/><circle cx="307.4" cy="731.1" r="0.9" fill="#939393"/><circle cx="353.4" cy="689.1" r="0.6" fill="#919191"/><circle cx="325.1" cy="685.1" r="0.8" fill="#838383"/><circle cx="285.4" cy="717.9" r="0.6" fill="#808080"/><circle cx="325.0" cy="709.4" r="0.7" fill="#a4a4a4"/><circle cx="305.7" cy="670.5" r="0.9" fill="#858585"/><circle cx="287.2" cy="704.5" r="0.7" fill="#a5a5a5"/><circle cx="298.7" cy="683.9" r="0.8" fill="#979797"/><circle cx="297.0" cy="673.9" r="0.9" fill="#aeaeae"/><circle cx="351.9" cy="682.8" r="0.9" fill="#929292"/><circle cx="339.1" cy="694.2" r="0.6" fill="#a6a6a6"/><circle cx="282.6" cy="697.3" r="0.7" fill="#a9a9a9"/><circle cx="317.5" cy="724.2" r="0.6" fill="#888888"/><circle cx="288.1" cy="701.6" r="0.9" fill="#a7a7a7"/><circle cx="290.8" cy="692.7" r="0.8" fill="#848484"/><circle cx="291.2" cy="712.4" r="0.8" fill="#929292"/><circle cx="352.2" cy="711.1" r="0.7" fill="#848484"/><circle cx="304.7" cy="711.4" r="0.8" fill="#878787"/><circle cx="283.1" cy="713.3" r="0.9" fill="#979797"/><circle cx="341.9" cy="699.3" r="0.7" fill="#9c9c9c"/><circle cx="294.5" cy="721.0" r="0.9" fill="#a5a5a5"/><circle cx="294.3" cy="698.2" r="0.5" fill="#848484"/><circle cx="305.9" cy="687.5" r="0.5" fill="#949494"/><circle cx="300.8" cy="704.6" r="0.5" fill="#aeaeae"/><circle cx="343.4" cy="683.5" r="0.9" fill="#aeaeae"/><circle cx="337.6" cy="664.5" r="0.7" fill="#ababab"/><circle cx="292.3" cy="682.9" r="1.0" fill="#8e8e8e"/><circle cx="279.5" cy="703.4" r="0.6" fill="#8c8c8c"/><circle cx="329.8" cy="708.8" r="1.1" fill="#636363"/><circle cx="340.9" cy="701.7" r="0.6" fill="#535353"/><circle cx="302.4" cy="700.1" r="0.7" fill="#707070"/><circle cx="288.0" cy="710.7" r="1.0" fill="#636363"/><circle cx="309.8" cy="729.0" r="1.0" fill="#4d4d4d"/><circle cx="352.2" cy="712.4" r="1.0" fill="#5c5c5c"/><circle cx="320.9" cy="699.1" r="0.9" fill="#636363"/><circle cx="308.9" cy="688.4" r="1.0" fill="#717171"/><circle cx="290.3" cy="712.6" r="1.1" fill="#545454"/><circle cx="293.7" cy="665.7" r="0.6" fill="#696969"/><circle cx="355.9" cy="704.0" r="0.9" fill="#6c6c6c"/><circle cx="325.5" cy="682.4" r="1.1" fill="#6a6a6a"/><circle cx="298.4" cy="711.9" r="0.9" fill="#696969"/><circle cx="321.8" cy="727.8" r="0.8" fill="#6d6d6d"/><circle cx="337.1" cy="719.4" r="1.0" fill="#5e5e5e"/><circle cx="302.4" cy="732.0" r="1.0" fill="#767676"/><circle cx="315.9" cy="679.3" r="0.6" fill="#636363"/><circle cx="337.4" cy="672.4" r="0.9" fill="#555555"/><circle cx="322.6" cy="709.4" r="0.9" fill="#686868"/><circle cx="302.4" cy="708.7" r="0.7" fill="#4a4a4a"/><circle cx="307.9" cy="715.3" r="1.1" fill="#737373"/><circle cx="322.1" cy="689.1" r="0.8" fill="#606060"/><circle cx="320.9" cy="718.8" r="0.8" fill="#4b4b4b"/><circle cx="309.2" cy="675.3" r="0.7" fill="#565656"/><circle cx="311.7" cy="713.4" r="0.7" fill="#666666"/><circle cx="311.4" cy="679.6" r="1.0" fill="#6e6e6e"/><circle cx="321.0" cy="730.8" r="0.9" fill="#6e6e6e"/><circle cx="286.9" cy="689.8" r="1.0" fill="#646464"/><circle cx="309.3" cy="705.6" r="0.9" fill="#656565"/><circle cx="286.5" cy="699.4" r="0.8" fill="#626262"/><circle cx="309.8" cy="680.0" r="1.1" fill="#676767"/><circle cx="294.4" cy="730.8" r="0.9" fill="#535353"/><circle cx="337.0" cy="714.8" r="1.1" fill="#515151"/><circle cx="305.8" cy="690.8" r="0.9" fill="#5b5b5b"/><circle cx="287.8" cy="701.6" r="1.1" fill="#646464"/><circle cx="311.4" cy="703.4" r="0.8" fill="#707070"/><circle cx="320.9" cy="709.4" r="1.1" fill="#6b6b6b"/><circle cx="291.5" cy="680.4" r="1.0" fill="#5a5a5a"/><circle cx="278.4" cy="687.1" r="1.1" fill="#777777"/><circle cx="294.7" cy="665.8" r="0.9" fill="#6b6b6b"/><circle cx="315.1" cy="673.6" r="0.9" fill="#6c6c6c"/><circle cx="326.5" cy="717.5" r="0.7" fill="#606060"/><circle cx="312.0" cy="675.1" r="0.7" fill="#767676"/><circle cx="287.6" cy="700.1" r="0.9" fill="#626262"/><circle cx="294.1" cy="689.5" r="1.0" fill="#6e6e6e"/><circle cx="299.2" cy="699.5" r="0.9" fill="#525252"/><circle cx="339.3" cy="718.0" r="0.7" fill="#606060"/><circle cx="337.0" cy="676.1" r="0.8" fill="#4c4c4c"/><circle cx="284.1" cy="701.8" r="0.7" fill="#585858"/><circle cx="346.5" cy="724.0" r="0.9" fill="#636363"/><circle cx="332.1" cy="717.2" r="1.0" fill="#585858"/><circle cx="291.2" cy="685.0" r="0.7" fill="#565656"/><circle cx="317.7" cy="718.1" r="0.8" fill="#5d5d5d"/><circle cx="327.7" cy="690.2" r="1.0" fill="#787878"/><circle cx="352.1" cy="717.6" r="0.8" fill="#4f4f4f"/><circle cx="300.9" cy="728.8" r="0.7" fill="#727272"/><circle cx="277.0" cy="699.8" r="0.7" fill="#646464"/><circle cx="316.4" cy="668.8" r="1.0" fill="#636363"/><circle cx="343.6" cy="693.8" r="0.8" fill="#595959"/><circle cx="295.6" cy="684.6" r="0.6" fill="#525252"/><circle cx="315.9" cy="698.1" r="1.1" fill="#505050"/><circle cx="277.8" cy="696.3" r="1.1" fill="#767676"/><circle cx="304.6" cy="681.3" r="1.0" fill="#6c6c6c"/><circle cx="316.2" cy="658.6" r="0.7" fill="#525252"/><circle cx="325.3" cy="736.3" r="0.6" fill="#636363"/><circle cx="316.2" cy="681.9" r="0.9" fill="#727272"/><circle cx="331.0" cy="665.7" r="0.8" fill="#4d4d4d"/><circle cx="290.3" cy="670.6" r="0.7" fill="#484848"/><circle cx="307.0" cy="667.1" r="0.9" fill="#757575"/><circle cx="278.5" cy="708.6" r="1.0" fill="#585858"/><circle cx="333.8" cy="730.4" r="0.6" fill="#737373"/><circle cx="312.0" cy="681.6" r="0.6" fill="#696969"/><circle cx="311.8" cy="660.9" r="0.8" fill="#4a4a4a"/><circle cx="325.4" cy="673.6" r="1.1" fill="#646464"/><circle cx="348.9" cy="683.9" r="1.0" fill="#646464"/><circle cx="282.7" cy="708.2" r="0.8" fill="#565656"/><circle cx="331.2" cy="718.7" r="0.8" fill="#6c6c6c"/><circle cx="342.1" cy="719.3" r="0.7" fill="#4e4e4e"/><circle cx="323.8" cy="698.5" r="0.8" fill="#545454"/><circle cx="289.6" cy="705.7" r="1.0" fill="#6e6e6e"/><circle cx="289.1" cy="723.5" r="0.7" fill="#6d6d6d"/><circle cx="297.2" cy="707.5" r="0.6" fill="#646464"/><circle cx="304.5" cy="697.5" r="1.2" fill="#6d6d6d"/><circle cx="331.7" cy="691.6" r="0.9" fill="#5b5b5b"/><circle cx="333.9" cy="697.5" r="0.8" fill="#5a5a5a"/><circle cx="337.9" cy="717.4" r="0.9" fill="#575757"/><circle cx="315.2" cy="662.0" r="0.6" fill="#494949"/><circle cx="314.6" cy="698.0" r="1.0" fill="#666666"/><circle cx="324.7" cy="692.5" r="1.0" fill="#5b5b5b"/><circle cx="328.9" cy="671.6" r="1.1" fill="#505050"/><circle cx="306.3" cy="725.8" r="0.8" fill="#717171"/><circle cx="355.6" cy="708.3" r="0.7" fill="#4d4d4d"/><circle cx="331.1" cy="718.8" r="1.0" fill="#767676"/><circle cx="285.2" cy="695.8" r="0.6" fill="#737373"/><circle cx="305.5" cy="733.0" r="0.9" fill="#676767"/><circle cx="347.6" cy="711.4" r="1.2" fill="#626262"/><circle cx="305.6" cy="677.3" r="1.1" fill="#636363"/><circle cx="286.6" cy="704.3" r="0.6" fill="#5b5b5b"/><circle cx="285.2" cy="701.3" r="1.1" fill="#777777"/><circle cx="316.3" cy="721.7" r="1.0" fill="#777777"/><circle cx="291.3" cy="701.0" r="1.1" fill="#767676"/><circle cx="312.2" cy="705.9" r="0.7" fill="#6d6d6d"/><circle cx="341.8" cy="705.2" r="0.8" fill="#5c5c5c"/><circle cx="331.3" cy="707.4" r="0.9" fill="#585858"/><circle cx="293.4" cy="708.5" r="0.9" fill="#606060"/><circle cx="309.9" cy="700.9" r="1.0" fill="#787878"/><circle cx="287.0" cy="721.2" r="0.8" fill="#696969"/><circle cx="321.0" cy="716.5" r="0.7" fill="#6e6e6e"/><circle cx="342.8" cy="702.5" r="1.1" fill="#6e6e6e"/><circle cx="320.2" cy="669.6" r="0.8" fill="#686868"/><circle cx="287.7" cy="686.1" r="0.9" fill="#4b4b4b"/><circle cx="296.5" cy="670.3" r="1.1" fill="#545454"/><circle cx="286.7" cy="683.9" r="1.2" fill="#4e4e4e"/><circle cx="332.2" cy="695.6" r="1.1" fill="#4f4f4f"/><circle cx="339.8" cy="719.2" r="1.2" fill="#5a5a5a"/><circle cx="303.5" cy="693.1" r="0.9" fill="#515151"/><circle cx="335.7" cy="725.6" r="1.0" fill="#676767"/><circle cx="306.5" cy="722.2" r="1.2" fill="#585858"/><circle cx="287.7" cy="687.9" r="0.8" fill="#6b6b6b"/><circle cx="287.2" cy="723.9" r="0.8" fill="#4d4d4d"/><circle cx="324.1" cy="721.8" r="1.1" fill="#5d5d5d"/><circle cx="322.3" cy="735.6" r="0.8" fill="#5b5b5b"/><circle cx="322.8" cy="661.0" r="0.7" fill="#767676"/><circle cx="294.1" cy="714.7" r="0.8" fill="#575757"/><circle cx="349.5" cy="683.3" r="1.1" fill="#4c4c4c"/><circle cx="323.4" cy="674.5" r="0.8" fill="#5e5e5e"/><circle cx="355.1" cy="689.9" r="1.1" fill="#6b6b6b"/><circle cx="322.6" cy="670.7" r="0.8" fill="#6a6a6a"/><circle cx="334.5" cy="685.7" r="0.8" fill="#696969"/><circle cx="329.2" cy="734.5" r="0.8" fill="#727272"/><circle cx="348.0" cy="716.6" r="1.1" fill="#5e5e5e"/><circle cx="317.1" cy="735.5" r="0.7" fill="#4f4f4f"/><circle cx="355.3" cy="703.4" r="0.7" fill="#696969"/><circle cx="353.9" cy="708.8" r="1.1" fill="#484848"/><circle cx="284.8" cy="719.0" r="0.9" fill="#787878"/><circle cx="355.5" cy="697.1" r="0.7" fill="#404040"/><circle cx="344.7" cy="723.3" r="0.9" fill="#707070"/><circle cx="337.9" cy="668.3" r="0.7" fill="#7a7a7a"/><circle cx="290.0" cy="724.6" r="0.6" fill="#6a6a6a"/><circle cx="279.5" cy="702.5" r="0.9" fill="#797979"/><circle cx="355.3" cy="700.0" r="0.8" fill="#4e4e4e"/><circle cx="296.3" cy="664.6" r="0.7" fill="#616161"/><circle cx="301.7" cy="734.2" r="0.8" fill="#6a6a6a"/><circle cx="345.8" cy="669.7" r="1.3" fill="#464646"/><circle cx="355.3" cy="693.6" r="1.0" fill="#6c6c6c"/><circle cx="315.9" cy="660.6" r="1.2" fill="#7a7a7a"/><circle cx="300.5" cy="663.7" r="0.7" fill="#4b4b4b"/><circle cx="298.2" cy="664.9" r="0.7" fill="#4d4d4d"/><circle cx="309.7" cy="736.5" r="0.7" fill="#787878"/><circle cx="355.7" cy="706.8" r="1.0" fill="#5b5b5b"/><circle cx="301.9" cy="727.2" r="0.8" fill="#696969"/><circle cx="305.3" cy="661.8" r="0.6" fill="#585858"/><circle cx="305.5" cy="659.6" r="1.1" fill="#777777"/><circle cx="344.7" cy="726.1" r="1.2" fill="#787878"/><circle cx="280.0" cy="692.9" r="1.0" fill="#666666"/><circle cx="341.8" cy="667.8" r="0.8" fill="#5d5d5d"/><circle cx="319.3" cy="659.7" r="1.2" fill="#5e5e5e"/><circle cx="278.3" cy="692.5" r="1.1" fill="#686868"/><circle cx="307.5" cy="733.9" r="0.7" fill="#6f6f6f"/><circle cx="350.0" cy="713.8" r="1.2" fill="#666666"/><circle cx="288.4" cy="678.1" r="0.9" fill="#5b5b5b"/><circle cx="349.4" cy="680.2" r="1.0" fill="#404040"/><circle cx="288.3" cy="676.2" r="1.1" fill="#7a7a7a"/><circle cx="282.5" cy="690.9" r="1.2" fill="#606060"/><circle cx="290.0" cy="672.6" r="0.9" fill="#585858"/><circle cx="340.2" cy="664.8" r="1.3" fill="#4b4b4b"/><circle cx="339.1" cy="667.1" r="0.9" fill="#555555"/><circle cx="328.7" cy="734.5" r="0.8" fill="#515151"/><circle cx="354.4" cy="687.9" r="1.3" fill="#595959"/><circle cx="289.8" cy="670.0" r="0.8" fill="#4f4f4f"/><circle cx="308.0" cy="733.9" r="1.1" fill="#404040"/><circle cx="300.9" cy="729.7" r="0.8" fill="#454545"/><circle cx="349.0" cy="678.1" r="0.7" fill="#7a7a7a"/><circle cx="285.7" cy="678.9" r="0.9" fill="#7c7c7c"/><circle cx="296.8" cy="728.4" r="0.9" fill="#494949"/><circle cx="295.0" cy="729.2" r="0.6" fill="#444444"/><circle cx="278.5" cy="703.9" r="0.9" fill="#5e5e5e"/><circle cx="279.1" cy="703.2" r="1.0" fill="#474747"/><circle cx="353.6" cy="700.1" r="0.8" fill="#646464"/><circle cx="281.1" cy="683.2" r="0.8" fill="#6c6c6c"/><circle cx="283.6" cy="679.1" r="1.1" fill="#474747"/><circle cx="280.4" cy="706.1" r="0.9" fill="#424242"/><circle cx="352.7" cy="681.3" r="1.3" fill="#626262"/><circle cx="285.2" cy="715.4" r="0.9" fill="#414141"/><circle cx="334.1" cy="733.4" r="1.1" fill="#727272"/></g>
<text x="129.10" y="650.00" font-size="14.6" text-anchor="middle" fill="#000" style="stroke-width:0.5px">Scramble</text>
<text x="223.70" y="649.70" font-size="14.6" text-anchor="middle" fill="#000" style="stroke-width:0.5px">ShGPR160-A</text>
<text x="316.20" y="648.40" font-size="14.6" text-anchor="middle" fill="#000" style="stroke-width:0.5px">ShGPR160-D</text>
<line x1="141.40" y1="787.75" x2="141.40" y2="986.00" stroke="#000" stroke-width="2.3" stroke-linecap="butt"/>
<line x1="135.40" y1="986.00" x2="141.40" y2="986.00" stroke="#000" stroke-width="2.3" stroke-linecap="butt"/>
<text x="132.40" y="990.47" font-size="13.0" text-anchor="end" letter-spacing="0.5" fill="#000">0</text>
<line x1="135.40" y1="920.30" x2="141.40" y2="920.30" stroke="#000" stroke-width="2.3" stroke-linecap="butt"/>
<text x="132.40" y="924.77" font-size="13.0" text-anchor="end" letter-spacing="0.5" fill="#000">40</text>
<line x1="135.40" y1="854.60" x2="141.40" y2="854.60" stroke="#000" stroke-width="2.3" stroke-linecap="butt"/>
<text x="132.40" y="859.07" font-size="13.0" text-anchor="end" letter-spacing="0.5" fill="#000">80</text>
<line x1="135.40" y1="788.90" x2="141.40" y2="788.90" stroke="#000" stroke-width="2.3" stroke-linecap="butt"/>
<text x="132.40" y="793.37" font-size="13.0" text-anchor="end" letter-spacing="0.5" fill="#000">120</text>
<line x1="135.40" y1="986.00" x2="338.80" y2="986.00" stroke="#000" stroke-width="2.3" stroke-linecap="butt"/>
<line x1="174.20" y1="819.40" x2="174.20" y2="822.50" stroke="#000" stroke-width="2.4" stroke-linecap="butt"/>
<line x1="162.70" y1="819.40" x2="185.70" y2="819.40" stroke="#000" stroke-width="2.2" stroke-linecap="round"/>
<rect x="151.60" y="821.50" width="45.20" height="164.50" fill="#000"/>
<line x1="174.20" y1="986.00" x2="174.20" y2="991.50" stroke="#000" stroke-width="2.3" stroke-linecap="butt"/>
<line x1="240.10" y1="877.60" x2="240.10" y2="883.70" stroke="#000" stroke-width="2.4" stroke-linecap="butt"/>
<line x1="228.60" y1="877.60" x2="251.60" y2="877.60" stroke="#000" stroke-width="2.2" stroke-linecap="round"/>
<rect x="217.50" y="882.70" width="45.20" height="103.30" fill="#000"/>
<line x1="240.10" y1="986.00" x2="240.10" y2="991.50" stroke="#000" stroke-width="2.3" stroke-linecap="butt"/>
<line x1="305.25" y1="875.50" x2="305.25" y2="891.70" stroke="#000" stroke-width="2.4" stroke-linecap="butt"/>
<line x1="293.75" y1="875.50" x2="316.75" y2="875.50" stroke="#000" stroke-width="2.2" stroke-linecap="round"/>
<rect x="282.65" y="890.70" width="45.20" height="95.30" fill="#000"/>
<line x1="305.25" y1="986.00" x2="305.25" y2="991.50" stroke="#000" stroke-width="2.3" stroke-linecap="butt"/>
<line x1="180.60" y1="782.10" x2="304.20" y2="782.10" stroke="#000" stroke-width="2.6" stroke-linecap="round"/>
<line x1="178.50" y1="810.30" x2="235.20" y2="810.30" stroke="#000" stroke-width="2.6" stroke-linecap="round"/>
<text x="246.90" y="785.00" font-size="19" text-anchor="middle" letter-spacing="2.0" fill="#000" style="stroke-width:0.15px">***</text>
<text x="211.30" y="813.10" font-size="19" text-anchor="middle" letter-spacing="2.0" fill="#000" style="stroke-width:0.15px">***</text>
<text transform="translate(177.20 1007.50) rotate(-45)" x="0.40" y="0" font-size="14.8" text-anchor="end" letter-spacing="0.4" fill="#000">Scramble</text>
<text transform="translate(243.10 1007.50) rotate(-45)" x="0.40" y="0" font-size="14.8" text-anchor="end" letter-spacing="0.4" fill="#000">ShGPR160-A</text>
<text transform="translate(308.25 1007.50) rotate(-45)" x="0.40" y="0" font-size="14.8" text-anchor="end" letter-spacing="0.4" fill="#000">ShGPR160-D</text>
<text transform="translate(81.30 885.10) rotate(-90)" x="0.47" y="0" font-size="15.8" text-anchor="middle" letter-spacing="0.95" fill="#000">Number of PC-3 colonies</text>
<text transform="translate(101.00 885.60) rotate(-90)" x="0.47" y="0" font-size="15.8" text-anchor="middle" letter-spacing="0.95" fill="#000">(% of scramble control)</text>
<text x="406.60" y="626.70" font-size="25.2" text-anchor="start" fill="#000" style="stroke-width:0.5px">F</text>
<defs><clipPath id="c4"><circle cx="529.0" cy="695.9" r="38.1"/></clipPath><radialGradient id="g4"><stop offset="0" stop-color="#e4e4e4"/><stop offset="0.8" stop-color="#dcdcdc"/><stop offset="1" stop-color="#d0d0d0"/></radialGradient></defs>
<rect x="487.90" y="652.80" width="82.10" height="85.80" fill="#cecece"/>
<circle cx="529.0" cy="695.9" r="39.3" fill="url(#g4)" stroke="#7e7e7e" stroke-width="1.4"/>
<circle cx="529.0" cy="695.9" r="35.3" fill="none" stroke="#000" stroke-opacity="0.12" stroke-width="5"/>
<circle cx="529.0" cy="695.9" r="37.5" fill="none" stroke="#b0b0b0" stroke-width="0.8"/>
<g clip-path="url(#c4)" filter="url(#soft)"><circle cx="530.0" cy="707.7" r="0.7" fill="#898989"/><circle cx="533.4" cy="698.7" r="0.8" fill="#929292"/><circle cx="539.0" cy="665.3" r="0.6" fill="#a2a2a2"/><circle cx="508.2" cy="720.9" r="0.9" fill="#909090"/><circle cx="536.9" cy="730.5" r="0.9" fill="#909090"/><circle cx="534.0" cy="680.5" r="0.7" fill="#a8a8a8"/><circle cx="553.2" cy="669.2" r="0.9" fill="#979797"/><circle cx="553.5" cy="710.7" r="0.8" fill="#a0a0a0"/><circle cx="529.1" cy="714.2" r="0.6" fill="#a3a3a3"/><circle cx="530.7" cy="693.3" r="0.6" fill="#adadad"/><circle cx="554.0" cy="673.1" r="0.8" fill="#9a9a9a"/><circle cx="511.5" cy="705.0" r="0.7" fill="#8e8e8e"/><circle cx="517.7" cy="727.1" r="0.5" fill="#828282"/><circle cx="493.3" cy="704.4" r="0.8" fill="#a9a9a9"/><circle cx="507.8" cy="699.8" r="1.0" fill="#8c8c8c"/><circle cx="561.2" cy="710.2" r="0.8" fill="#9c9c9c"/><circle cx="525.4" cy="717.6" r="0.9" fill="#949494"/><circle cx="518.1" cy="683.6" r="0.7" fill="#838383"/><circle cx="524.0" cy="677.2" r="0.8" fill="#8f8f8f"/><circle cx="554.6" cy="720.6" r="0.6" fill="#818181"/><circle cx="558.6" cy="704.1" r="0.9" fill="#929292"/><circle cx="525.6" cy="660.0" r="0.5" fill="#929292"/><circle cx="522.7" cy="708.9" r="0.8" fill="#a7a7a7"/><circle cx="524.6" cy="686.6" r="0.8" fill="#9c9c9c"/><circle cx="524.2" cy="713.7" r="0.8" fill="#8a8a8a"/><circle cx="527.3" cy="699.0" r="0.5" fill="#8a8a8a"/><circle cx="507.1" cy="720.6" r="1.0" fill="#a4a4a4"/><circle cx="558.9" cy="716.8" r="0.7" fill="#8d8d8d"/><circle cx="535.9" cy="701.9" r="0.9" fill="#a6a6a6"/><circle cx="522.7" cy="683.1" r="0.5" fill="#9f9f9f"/><circle cx="510.9" cy="685.5" r="0.5" fill="#a1a1a1"/><circle cx="519.2" cy="731.3" r="0.8" fill="#8c8c8c"/><circle cx="511.1" cy="698.4" r="0.7" fill="#828282"/><circle cx="533.7" cy="719.9" r="0.8" fill="#9b9b9b"/><circle cx="541.7" cy="673.2" r="0.5" fill="#909090"/><circle cx="528.4" cy="722.6" r="0.9" fill="#9a9a9a"/><circle cx="538.5" cy="685.8" r="0.5" fill="#949494"/><circle cx="495.4" cy="681.3" r="0.7" fill="#a9a9a9"/><circle cx="510.4" cy="669.0" r="0.9" fill="#9f9f9f"/><circle cx="510.7" cy="711.6" r="1.0" fill="#a4a4a4"/><circle cx="557.6" cy="675.1" r="0.7" fill="#aaaaaa"/><circle cx="494.6" cy="702.2" r="0.7" fill="#9a9a9a"/><circle cx="499.7" cy="690.7" r="0.8" fill="#919191"/><circle cx="516.8" cy="715.5" r="0.7" fill="#919191"/><circle cx="558.2" cy="688.7" r="0.5" fill="#a7a7a7"/><circle cx="554.2" cy="721.9" r="0.8" fill="#838383"/><circle cx="549.9" cy="673.7" r="0.7" fill="#9e9e9e"/><circle cx="528.2" cy="660.5" r="0.6" fill="#808080"/><circle cx="532.5" cy="710.0" r="0.8" fill="#909090"/><circle cx="553.7" cy="717.9" r="0.9" fill="#8e8e8e"/><circle cx="496.2" cy="685.1" r="0.6" fill="#aaaaaa"/><circle cx="503.1" cy="675.0" r="0.8" fill="#9e9e9e"/><circle cx="550.0" cy="683.5" r="0.5" fill="#acacac"/><circle cx="507.7" cy="681.5" r="0.9" fill="#a6a6a6"/><circle cx="530.1" cy="688.5" r="0.5" fill="#a1a1a1"/><circle cx="545.6" cy="684.6" r="0.7" fill="#848484"/><circle cx="552.3" cy="709.7" r="0.7" fill="#939393"/><circle cx="504.5" cy="716.5" r="0.9" fill="#999999"/><circle cx="539.3" cy="702.9" r="0.8" fill="#979797"/><circle cx="504.8" cy="694.0" r="0.9" fill="#9c9c9c"/><circle cx="560.5" cy="710.0" r="0.6" fill="#939393"/><circle cx="552.0" cy="685.0" r="0.6" fill="#a3a3a3"/><circle cx="546.1" cy="725.8" r="0.6" fill="#898989"/><circle cx="513.2" cy="726.2" r="0.6" fill="#808080"/><circle cx="528.3" cy="693.2" r="0.7" fill="#a2a2a2"/><circle cx="554.0" cy="716.8" r="0.8" fill="#a1a1a1"/><circle cx="545.2" cy="704.2" r="0.9" fill="#969696"/><circle cx="531.0" cy="711.4" r="0.9" fill="#808080"/><circle cx="516.2" cy="670.2" r="0.7" fill="#9d9d9d"/><circle cx="534.6" cy="668.7" r="1.0" fill="#a0a0a0"/><circle cx="535.6" cy="667.9" r="0.7" fill="#898989"/><circle cx="528.7" cy="724.3" r="1.0" fill="#959595"/><circle cx="536.1" cy="703.8" r="0.6" fill="#a7a7a7"/><circle cx="544.3" cy="727.3" r="0.7" fill="#a4a4a4"/><circle cx="537.2" cy="666.8" r="0.9" fill="#848484"/><circle cx="499.9" cy="716.4" r="0.6" fill="#a9a9a9"/><circle cx="518.3" cy="707.0" r="0.9" fill="#a6a6a6"/><circle cx="564.6" cy="700.4" r="0.9" fill="#969696"/><circle cx="541.6" cy="662.3" r="0.6" fill="#a5a5a5"/><circle cx="558.8" cy="693.5" r="1.0" fill="#848484"/><circle cx="531.3" cy="659.8" r="0.6" fill="#a9a9a9"/><circle cx="494.7" cy="700.4" r="0.6" fill="#aaaaaa"/><circle cx="517.4" cy="729.4" r="0.7" fill="#a6a6a6"/><circle cx="531.0" cy="721.6" r="0.6" fill="#979797"/><circle cx="531.6" cy="716.8" r="0.8" fill="#9c9c9c"/><circle cx="547.7" cy="682.1" r="0.7" fill="#949494"/><circle cx="524.0" cy="719.0" r="0.5" fill="#8b8b8b"/><circle cx="548.9" cy="680.9" r="0.8" fill="#979797"/><circle cx="510.1" cy="708.9" r="0.5" fill="#a0a0a0"/><circle cx="562.1" cy="710.9" r="1.0" fill="#969696"/><circle cx="512.7" cy="683.4" r="0.5" fill="#909090"/><circle cx="499.7" cy="699.0" r="0.7" fill="#a6a6a6"/><circle cx="531.5" cy="681.9" r="0.6" fill="#939393"/><circle cx="534.4" cy="701.8" r="0.7" fill="#a5a5a5"/><circle cx="517.5" cy="671.2" r="1.0" fill="#909090"/><circle cx="547.1" cy="698.0" r="0.9" fill="#8d8d8d"/><circle cx="549.3" cy="700.0" r="0.6" fill="#838383"/><circle cx="550.4" cy="675.5" r="0.8" fill="#a8a8a8"/><circle cx="519.6" cy="665.9" r="0.8" fill="#888888"/><circle cx="551.5" cy="674.3" r="0.8" fill="#acacac"/><circle cx="563.5" cy="696.5" r="0.6" fill="#9a9a9a"/><circle cx="548.1" cy="723.8" r="0.7" fill="#848484"/><circle cx="518.4" cy="706.4" r="0.9" fill="#a0a0a0"/><circle cx="505.4" cy="715.1" r="0.9" fill="#959595"/><circle cx="533.4" cy="703.9" r="1.0" fill="#919191"/><circle cx="532.6" cy="692.4" r="1.0" fill="#898989"/><circle cx="539.8" cy="702.3" r="0.8" fill="#808080"/><circle cx="532.1" cy="723.1" r="0.7" fill="#adadad"/><circle cx="495.1" cy="688.9" r="0.7" fill="#aeaeae"/><circle cx="519.5" cy="661.9" r="1.0" fill="#989898"/><circle cx="521.1" cy="709.0" r="0.8" fill="#8c8c8c"/><circle cx="551.6" cy="714.0" r="1.0" fill="#939393"/><circle cx="559.4" cy="681.7" r="0.7" fill="#afafaf"/><circle cx="557.5" cy="702.7" r="0.6" fill="#aaaaaa"/><circle cx="501.6" cy="678.3" r="0.7" fill="#959595"/><circle cx="532.7" cy="686.0" r="0.6" fill="#949494"/><circle cx="551.2" cy="675.9" r="0.8" fill="#a6a6a6"/><circle cx="517.9" cy="718.7" r="1.0" fill="#858585"/><circle cx="532.4" cy="702.8" r="0.8" fill="#a6a6a6"/><circle cx="527.2" cy="688.9" r="0.8" fill="#959595"/><circle cx="535.9" cy="661.5" r="0.8" fill="#878787"/><circle cx="494.3" cy="694.3" r="0.9" fill="#808080"/><circle cx="544.8" cy="703.5" r="0.6" fill="#818181"/><circle cx="557.1" cy="672.9" r="0.5" fill="#acacac"/><circle cx="542.5" cy="713.3" r="0.9" fill="#afafaf"/><circle cx="508.5" cy="726.1" r="0.9" fill="#a8a8a8"/><circle cx="523.6" cy="691.7" r="0.7" fill="#848484"/><circle cx="529.9" cy="661.7" r="0.6" fill="#acacac"/><circle cx="525.6" cy="712.3" r="0.9" fill="#949494"/><circle cx="531.2" cy="700.3" r="0.9" fill="#919191"/><circle cx="511.8" cy="726.5" r="1.0" fill="#9a9a9a"/><circle cx="516.5" cy="722.0" r="0.6" fill="#a0a0a0"/><circle cx="549.0" cy="708.0" r="0.8" fill="#ababab"/><circle cx="540.5" cy="689.0" r="0.9" fill="#858585"/><circle cx="558.9" cy="683.0" r="0.8" fill="#acacac"/><circle cx="537.5" cy="730.4" r="0.8" fill="#a9a9a9"/><circle cx="516.6" cy="696.0" r="0.7" fill="#9d9d9d"/><circle cx="514.0" cy="688.8" r="0.5" fill="#a1a1a1"/><circle cx="535.9" cy="685.5" r="1.0" fill="#929292"/><circle cx="548.1" cy="675.3" r="0.6" fill="#afafaf"/><circle cx="559.1" cy="711.4" r="0.6" fill="#adadad"/><circle cx="528.4" cy="663.9" r="0.9" fill="#ababab"/><circle cx="530.9" cy="702.5" r="0.7" fill="#959595"/><circle cx="526.2" cy="663.7" r="0.9" fill="#8a8a8a"/><circle cx="537.0" cy="710.9" r="1.0" fill="#8a8a8a"/><circle cx="514.4" cy="662.6" r="0.5" fill="#909090"/><circle cx="520.5" cy="667.1" r="0.9" fill="#868686"/><circle cx="547.8" cy="668.9" r="0.7" fill="#a6a6a6"/><circle cx="503.1" cy="688.2" r="0.7" fill="#afafaf"/><circle cx="523.2" cy="699.8" r="1.0" fill="#8b8b8b"/><circle cx="538.9" cy="710.0" r="0.6" fill="#a4a4a4"/><circle cx="552.6" cy="669.2" r="0.8" fill="#989898"/><circle cx="508.7" cy="719.3" r="1.0" fill="#8c8c8c"/><circle cx="544.8" cy="695.5" r="0.8" fill="#818181"/><circle cx="544.9" cy="698.6" r="0.9" fill="#aeaeae"/><circle cx="517.2" cy="720.3" r="1.0" fill="#939393"/><circle cx="539.3" cy="664.6" r="0.6" fill="#989898"/><circle cx="512.9" cy="681.3" r="0.5" fill="#acacac"/><circle cx="533.2" cy="700.7" r="0.9" fill="#aeaeae"/><circle cx="525.4" cy="679.4" r="0.7" fill="#a6a6a6"/><circle cx="496.5" cy="683.4" r="0.7" fill="#ababab"/><circle cx="513.6" cy="693.3" r="0.8" fill="#a6a6a6"/><circle cx="526.4" cy="700.4" r="0.8" fill="#989898"/><circle cx="498.6" cy="708.6" r="0.6" fill="#828282"/><circle cx="548.1" cy="717.3" r="0.6" fill="#afafaf"/><circle cx="517.5" cy="722.8" r="0.6" fill="#969696"/><circle cx="559.3" cy="681.2" r="0.8" fill="#a4a4a4"/><circle cx="546.2" cy="688.6" r="0.7" fill="#a2a2a2"/><circle cx="543.1" cy="698.8" r="0.8" fill="#8c8c8c"/><circle cx="495.5" cy="697.1" r="0.5" fill="#a8a8a8"/><circle cx="498.8" cy="675.2" r="0.6" fill="#adadad"/><circle cx="550.5" cy="721.8" r="0.8" fill="#969696"/><circle cx="536.3" cy="688.5" r="1.0" fill="#a6a6a6"/><circle cx="538.1" cy="708.3" r="0.8" fill="#929292"/><circle cx="495.2" cy="701.2" r="0.6" fill="#9e9e9e"/><circle cx="530.7" cy="669.2" r="0.9" fill="#838383"/><circle cx="544.1" cy="683.1" r="0.7" fill="#808080"/><circle cx="512.7" cy="719.4" r="1.0" fill="#979797"/><circle cx="550.8" cy="706.5" r="0.5" fill="#9b9b9b"/><circle cx="530.6" cy="689.5" r="0.6" fill="#ababab"/><circle cx="561.0" cy="686.7" r="0.6" fill="#afafaf"/><circle cx="561.5" cy="678.8" r="0.5" fill="#808080"/><circle cx="554.5" cy="688.6" r="0.8" fill="#848484"/><circle cx="553.6" cy="712.1" r="0.8" fill="#a8a8a8"/><circle cx="538.5" cy="725.0" r="0.5" fill="#838383"/><circle cx="551.3" cy="705.5" r="0.6" fill="#868686"/><circle cx="554.8" cy="690.1" r="0.8" fill="#aaaaaa"/><circle cx="524.2" cy="723.7" r="0.6" fill="#a9a9a9"/><circle cx="508.6" cy="675.9" r="0.5" fill="#828282"/><circle cx="532.0" cy="668.9" r="0.7" fill="#939393"/><circle cx="498.9" cy="676.0" r="0.6" fill="#979797"/><circle cx="511.2" cy="691.8" r="0.8" fill="#8a8a8a"/><circle cx="565.5" cy="691.4" r="0.8" fill="#818181"/><circle cx="504.7" cy="682.4" r="0.6" fill="#a5a5a5"/><circle cx="516.3" cy="667.2" r="1.0" fill="#9c9c9c"/><circle cx="542.9" cy="690.8" r="0.6" fill="#939393"/><circle cx="547.2" cy="670.9" r="0.8" fill="#a7a7a7"/><circle cx="523.2" cy="717.5" r="0.8" fill="#949494"/><circle cx="543.6" cy="706.1" r="0.9" fill="#a8a8a8"/><circle cx="536.8" cy="682.6" r="0.5" fill="#939393"/><circle cx="531.7" cy="696.5" r="0.9" fill="#808080"/><circle cx="550.7" cy="674.6" r="0.6" fill="#8f8f8f"/><circle cx="508.4" cy="717.1" r="0.7" fill="#a8a8a8"/><circle cx="499.6" cy="707.2" r="0.6" fill="#858585"/><circle cx="524.7" cy="702.3" r="0.6" fill="#9a9a9a"/><circle cx="565.7" cy="697.0" r="0.7" fill="#afafaf"/><circle cx="545.7" cy="700.7" r="0.7" fill="#a0a0a0"/><circle cx="511.2" cy="720.6" r="0.5" fill="#979797"/><circle cx="547.6" cy="708.8" r="0.6" fill="#969696"/><circle cx="551.3" cy="686.5" r="0.9" fill="#999999"/><circle cx="542.5" cy="716.5" r="0.8" fill="#b0b0b0"/><circle cx="548.4" cy="699.3" r="0.6" fill="#9d9d9d"/><circle cx="508.9" cy="704.2" r="1.0" fill="#9a9a9a"/><circle cx="516.6" cy="723.3" r="0.9" fill="#999999"/><circle cx="554.0" cy="676.9" r="0.9" fill="#959595"/><circle cx="555.7" cy="671.1" r="0.9" fill="#adadad"/><circle cx="492.6" cy="698.7" r="0.7" fill="#8e8e8e"/><circle cx="503.2" cy="682.6" r="1.0" fill="#929292"/><circle cx="548.2" cy="714.8" r="0.8" fill="#a8a8a8"/><circle cx="540.8" cy="667.9" r="0.8" fill="#9e9e9e"/><circle cx="532.1" cy="722.2" r="1.0" fill="#9c9c9c"/><circle cx="499.6" cy="712.6" r="0.6" fill="#808080"/><circle cx="541.9" cy="675.4" r="0.7" fill="#afafaf"/><circle cx="528.9" cy="679.6" r="0.7" fill="#898989"/><circle cx="526.0" cy="726.9" r="0.8" fill="#aaaaaa"/><circle cx="554.3" cy="691.9" r="0.8" fill="#888888"/><circle cx="563.8" cy="689.3" r="0.9" fill="#969696"/><circle cx="505.0" cy="672.8" r="1.0" fill="#828282"/><circle cx="527.6" cy="665.8" r="0.6" fill="#a7a7a7"/><circle cx="517.1" cy="663.4" r="0.8" fill="#818181"/><circle cx="499.5" cy="703.6" r="0.8" fill="#888888"/><circle cx="561.0" cy="705.2" r="0.9" fill="#898989"/><circle cx="520.6" cy="715.2" r="0.7" fill="#8e8e8e"/><circle cx="527.7" cy="704.5" r="0.5" fill="#9c9c9c"/><circle cx="553.2" cy="716.2" r="0.6" fill="#9e9e9e"/><circle cx="531.8" cy="687.1" r="0.8" fill="#8b8b8b"/><circle cx="540.3" cy="728.0" r="0.8" fill="#8c8c8c"/><circle cx="529.8" cy="700.2" r="0.7" fill="#969696"/><circle cx="526.8" cy="719.2" r="0.6" fill="#b0b0b0"/><circle cx="547.5" cy="685.1" r="0.8" fill="#878787"/><circle cx="514.9" cy="683.3" r="0.5" fill="#959595"/><circle cx="536.1" cy="690.8" r="0.9" fill="#848484"/><circle cx="533.9" cy="713.6" r="0.7" fill="#989898"/><circle cx="505.1" cy="722.4" r="0.9" fill="#adadad"/><circle cx="552.5" cy="671.5" r="0.9" fill="#9c9c9c"/><circle cx="522.1" cy="672.8" r="0.9" fill="#acacac"/><circle cx="539.9" cy="704.6" r="0.6" fill="#9d9d9d"/><circle cx="494.4" cy="688.6" r="0.7" fill="#9c9c9c"/><circle cx="510.5" cy="716.5" r="0.6" fill="#a8a8a8"/><circle cx="529.0" cy="723.7" r="0.6" fill="#acacac"/><circle cx="497.2" cy="682.5" r="0.6" fill="#adadad"/><circle cx="534.5" cy="682.4" r="0.9" fill="#8a8a8a"/><circle cx="520.8" cy="674.4" r="0.8" fill="#a9a9a9"/><circle cx="542.3" cy="726.1" r="0.8" fill="#848484"/><circle cx="519.5" cy="693.4" r="0.7" fill="#858585"/><circle cx="498.8" cy="694.9" r="0.8" fill="#808080"/><circle cx="523.0" cy="728.8" r="0.9" fill="#8c8c8c"/><circle cx="542.8" cy="708.3" r="0.7" fill="#a1a1a1"/><circle cx="531.5" cy="694.4" r="0.7" fill="#a6a6a6"/><circle cx="540.4" cy="666.4" r="0.8" fill="#aeaeae"/><circle cx="511.8" cy="721.7" r="0.6" fill="#9f9f9f"/><circle cx="543.6" cy="692.6" r="0.9" fill="#959595"/><circle cx="525.1" cy="660.6" r="0.6" fill="#a2a2a2"/><circle cx="502.9" cy="701.7" r="0.6" fill="#8a8a8a"/><circle cx="540.0" cy="670.2" r="0.7" fill="#afafaf"/><circle cx="509.0" cy="702.5" r="1.0" fill="#acacac"/><circle cx="529.6" cy="685.6" r="0.7" fill="#919191"/><circle cx="528.2" cy="708.2" r="0.8" fill="#afafaf"/><circle cx="495.4" cy="709.5" r="0.8" fill="#a9a9a9"/><circle cx="492.9" cy="698.4" r="0.5" fill="#979797"/><circle cx="528.8" cy="684.3" r="0.7" fill="#808080"/><circle cx="543.3" cy="717.9" r="0.6" fill="#989898"/><circle cx="522.4" cy="696.7" r="0.6" fill="#8f8f8f"/><circle cx="516.9" cy="704.9" r="0.7" fill="#aaaaaa"/><circle cx="506.9" cy="701.8" r="0.7" fill="#8d8d8d"/><circle cx="526.6" cy="689.3" r="0.8" fill="#838383"/><circle cx="533.9" cy="669.0" r="0.9" fill="#828282"/><circle cx="508.1" cy="691.8" r="0.9" fill="#838383"/><circle cx="534.8" cy="701.9" r="0.9" fill="#9a9a9a"/><circle cx="534.8" cy="678.5" r="0.7" fill="#999999"/><circle cx="508.7" cy="685.3" r="0.6" fill="#9e9e9e"/><circle cx="513.6" cy="706.1" r="0.6" fill="#aeaeae"/><circle cx="551.0" cy="685.1" r="0.7" fill="#a4a4a4"/><circle cx="554.7" cy="715.3" r="0.6" fill="#a7a7a7"/><circle cx="554.9" cy="680.8" r="0.6" fill="#9f9f9f"/><circle cx="513.2" cy="666.4" r="0.5" fill="#ababab"/><circle cx="522.1" cy="667.6" r="0.6" fill="#808080"/><circle cx="511.6" cy="703.9" r="0.6" fill="#818181"/><circle cx="556.3" cy="718.3" r="1.0" fill="#919191"/><circle cx="495.8" cy="683.8" r="0.9" fill="#848484"/><circle cx="516.5" cy="681.9" r="0.9" fill="#adadad"/><circle cx="549.1" cy="682.1" r="0.9" fill="#959595"/><circle cx="528.6" cy="714.7" r="0.7" fill="#a4a4a4"/><circle cx="510.5" cy="680.5" r="0.6" fill="#868686"/><circle cx="529.9" cy="707.7" r="0.7" fill="#a6a6a6"/><circle cx="523.1" cy="730.3" r="0.6" fill="#989898"/><circle cx="505.8" cy="705.5" r="0.8" fill="#a4a4a4"/><circle cx="539.9" cy="685.8" r="0.9" fill="#a0a0a0"/><circle cx="544.5" cy="725.9" r="0.9" fill="#ababab"/><circle cx="512.6" cy="677.8" r="0.8" fill="#a9a9a9"/><circle cx="525.6" cy="669.5" r="0.6" fill="#aaaaaa"/><circle cx="521.8" cy="670.0" r="0.9" fill="#909090"/><circle cx="497.6" cy="689.5" r="0.7" fill="#949494"/><circle cx="534.3" cy="671.5" r="0.8" fill="#969696"/><circle cx="540.2" cy="709.7" r="0.7" fill="#848484"/><circle cx="564.7" cy="693.7" r="0.7" fill="#9c9c9c"/><circle cx="523.3" cy="718.9" r="0.6" fill="#adadad"/><circle cx="501.2" cy="715.7" r="0.9" fill="#949494"/><circle cx="528.8" cy="661.2" r="0.6" fill="#8d8d8d"/><circle cx="532.5" cy="707.1" r="0.7" fill="#8a8a8a"/><circle cx="562.4" cy="709.7" r="0.5" fill="#949494"/><circle cx="511.2" cy="709.2" r="1.0" fill="#858585"/><circle cx="521.5" cy="690.8" r="0.7" fill="#aeaeae"/><circle cx="516.4" cy="714.1" r="0.7" fill="#a3a3a3"/><circle cx="556.3" cy="718.3" r="0.8" fill="#a0a0a0"/><circle cx="509.2" cy="679.7" r="0.6" fill="#a9a9a9"/><circle cx="514.6" cy="727.0" r="0.9" fill="#a2a2a2"/><circle cx="553.3" cy="689.9" r="0.9" fill="#adadad"/><circle cx="512.6" cy="673.4" r="1.0" fill="#8e8e8e"/><circle cx="522.4" cy="661.2" r="0.6" fill="#9a9a9a"/><circle cx="533.4" cy="700.5" r="0.6" fill="#a2a2a2"/><circle cx="537.2" cy="668.6" r="0.7" fill="#a0a0a0"/><circle cx="510.8" cy="666.1" r="0.8" fill="#afafaf"/><circle cx="544.2" cy="665.4" r="0.5" fill="#a0a0a0"/><circle cx="544.2" cy="695.6" r="0.5" fill="#929292"/><circle cx="527.0" cy="679.4" r="0.6" fill="#848484"/><circle cx="499.1" cy="690.0" r="0.7" fill="#818181"/><circle cx="537.9" cy="706.2" r="1.0" fill="#848484"/><circle cx="537.4" cy="712.8" r="0.9" fill="#838383"/><circle cx="520.2" cy="676.3" r="0.8" fill="#9d9d9d"/><circle cx="497.8" cy="701.2" r="0.6" fill="#949494"/><circle cx="557.2" cy="692.7" r="1.0" fill="#a9a9a9"/><circle cx="519.3" cy="720.7" r="0.8" fill="#9c9c9c"/><circle cx="512.5" cy="667.6" r="0.9" fill="#979797"/><circle cx="546.2" cy="703.5" r="0.8" fill="#aeaeae"/><circle cx="494.6" cy="687.3" r="0.8" fill="#aaaaaa"/><circle cx="550.6" cy="705.6" r="0.8" fill="#a3a3a3"/><circle cx="549.6" cy="671.5" r="0.7" fill="#828282"/><circle cx="499.0" cy="692.4" r="0.8" fill="#999999"/><circle cx="496.6" cy="678.5" r="0.8" fill="#9f9f9f"/><circle cx="524.6" cy="677.2" r="1.0" fill="#8d8d8d"/><circle cx="495.9" cy="687.9" r="0.6" fill="#8d8d8d"/><circle cx="526.8" cy="677.2" r="0.6" fill="#afafaf"/><circle cx="518.2" cy="689.4" r="0.9" fill="#aaaaaa"/><circle cx="523.6" cy="666.5" r="0.9" fill="#848484"/><circle cx="524.5" cy="661.5" r="0.7" fill="#868686"/><circle cx="531.3" cy="713.4" r="0.8" fill="#8a8a8a"/><circle cx="528.9" cy="680.8" r="0.5" fill="#888888"/><circle cx="529.6" cy="677.0" r="0.6" fill="#a4a4a4"/><circle cx="521.1" cy="663.7" r="0.9" fill="#858585"/><circle cx="496.5" cy="712.5" r="0.9" fill="#a1a1a1"/><circle cx="544.5" cy="678.8" r="1.0" fill="#848484"/><circle cx="510.2" cy="712.1" r="0.9" fill="#a0a0a0"/><circle cx="494.3" cy="699.7" r="0.6" fill="#969696"/><circle cx="548.1" cy="693.4" r="0.9" fill="#8e8e8e"/><circle cx="527.1" cy="679.9" r="0.7" fill="#9b9b9b"/><circle cx="542.9" cy="713.3" r="0.6" fill="#909090"/><circle cx="532.4" cy="730.5" r="0.5" fill="#898989"/><circle cx="514.3" cy="685.6" r="1.0" fill="#838383"/><circle cx="513.4" cy="680.8" r="0.8" fill="#999999"/><circle cx="523.0" cy="695.1" r="0.8" fill="#8e8e8e"/><circle cx="531.3" cy="662.6" r="1.0" fill="#848484"/><circle cx="535.3" cy="711.0" r="1.0" fill="#878787"/><circle cx="497.0" cy="701.5" r="0.6" fill="#898989"/><circle cx="560.3" cy="689.4" r="0.6" fill="#adadad"/><circle cx="515.7" cy="677.4" r="1.0" fill="#818181"/><circle cx="512.5" cy="725.3" r="0.9" fill="#999999"/><circle cx="521.6" cy="718.7" r="1.0" fill="#939393"/><circle cx="554.1" cy="719.5" r="0.6" fill="#909090"/><circle cx="503.7" cy="715.5" r="0.6" fill="#8b8b8b"/><circle cx="525.2" cy="704.6" r="0.6" fill="#afafaf"/><circle cx="548.5" cy="678.4" r="0.9" fill="#818181"/><circle cx="540.6" cy="673.9" r="0.7" fill="#a0a0a0"/><circle cx="546.2" cy="693.4" r="1.0" fill="#aeaeae"/><circle cx="548.7" cy="693.3" r="0.8" fill="#9f9f9f"/><circle cx="516.3" cy="716.7" r="0.9" fill="#a8a8a8"/><circle cx="506.0" cy="668.2" r="0.5" fill="#888888"/><circle cx="554.7" cy="698.9" r="0.7" fill="#888888"/><circle cx="510.4" cy="680.9" r="0.6" fill="#9e9e9e"/><circle cx="512.9" cy="691.1" r="0.6" fill="#848484"/><circle cx="539.3" cy="708.8" r="0.8" fill="#aeaeae"/><circle cx="527.6" cy="709.3" r="0.8" fill="#afafaf"/><circle cx="517.4" cy="697.5" r="0.8" fill="#868686"/><circle cx="537.4" cy="703.5" r="0.9" fill="#858585"/><circle cx="522.0" cy="684.7" r="0.9" fill="#9b9b9b"/><circle cx="555.8" cy="715.3" r="0.7" fill="#8a8a8a"/><circle cx="519.5" cy="670.0" r="0.7" fill="#a4a4a4"/><circle cx="509.2" cy="696.1" r="0.7" fill="#9f9f9f"/><circle cx="545.0" cy="729.0" r="0.8" fill="#a8a8a8"/><circle cx="548.8" cy="678.1" r="0.9" fill="#909090"/><circle cx="525.2" cy="724.3" r="0.7" fill="#8b8b8b"/><circle cx="553.6" cy="717.3" r="0.9" fill="#959595"/><circle cx="531.0" cy="722.1" r="0.8" fill="#b0b0b0"/><circle cx="493.6" cy="689.5" r="1.0" fill="#a2a2a2"/><circle cx="516.1" cy="674.1" r="0.8" fill="#9a9a9a"/><circle cx="548.2" cy="677.2" r="0.6" fill="#888888"/><circle cx="496.8" cy="698.0" r="1.0" fill="#888888"/><circle cx="523.4" cy="679.7" r="0.7" fill="#989898"/><circle cx="529.3" cy="677.3" r="0.9" fill="#b0b0b0"/><circle cx="547.1" cy="709.0" r="0.9" fill="#808080"/><circle cx="549.0" cy="703.4" r="0.7" fill="#aaaaaa"/><circle cx="507.1" cy="685.8" r="1.0" fill="#aeaeae"/><circle cx="544.6" cy="723.9" r="0.7" fill="#898989"/><circle cx="515.8" cy="666.2" r="0.8" fill="#ababab"/><circle cx="525.6" cy="715.4" r="0.9" fill="#a6a6a6"/><circle cx="517.4" cy="672.8" r="0.7" fill="#999999"/><circle cx="506.8" cy="673.2" r="0.7" fill="#8a8a8a"/><circle cx="523.2" cy="685.8" r="0.7" fill="#969696"/><circle cx="502.7" cy="681.1" r="1.0" fill="#838383"/><circle cx="494.3" cy="693.2" r="0.8" fill="#adadad"/><circle cx="546.0" cy="675.3" r="0.9" fill="#8c8c8c"/><circle cx="530.5" cy="667.0" r="1.0" fill="#989898"/><circle cx="500.6" cy="690.7" r="1.0" fill="#808080"/><circle cx="547.2" cy="676.4" r="0.6" fill="#868686"/><circle cx="510.9" cy="684.9" r="0.5" fill="#9f9f9f"/><circle cx="512.4" cy="675.5" r="0.7" fill="#939393"/><circle cx="496.3" cy="710.2" r="0.7" fill="#8c8c8c"/><circle cx="533.2" cy="699.8" r="0.6" fill="#949494"/><circle cx="514.4" cy="687.3" r="0.7" fill="#848484"/><circle cx="522.3" cy="714.6" r="0.6" fill="#838383"/><circle cx="505.3" cy="669.8" r="0.9" fill="#a4a4a4"/><circle cx="504.8" cy="686.1" r="0.8" fill="#8f8f8f"/><circle cx="517.0" cy="721.0" r="0.5" fill="#8b8b8b"/><circle cx="530.0" cy="674.4" r="0.8" fill="#989898"/><circle cx="519.2" cy="712.8" r="0.5" fill="#9d9d9d"/><circle cx="527.9" cy="711.7" r="0.6" fill="#a8a8a8"/><circle cx="562.0" cy="700.5" r="0.8" fill="#959595"/><circle cx="554.6" cy="709.3" r="0.9" fill="#818181"/><circle cx="530.3" cy="688.5" r="0.8" fill="#898989"/><circle cx="525.4" cy="676.4" r="0.7" fill="#8b8b8b"/><circle cx="511.1" cy="675.4" r="1.0" fill="#888888"/><circle cx="504.8" cy="697.4" r="1.0" fill="#afafaf"/><circle cx="513.4" cy="671.2" r="0.9" fill="#909090"/><circle cx="515.1" cy="725.5" r="0.8" fill="#b0b0b0"/><circle cx="544.0" cy="665.8" r="0.9" fill="#808080"/><circle cx="508.6" cy="691.8" r="0.9" fill="#8c8c8c"/><circle cx="562.1" cy="710.3" r="0.5" fill="#b0b0b0"/><circle cx="513.3" cy="682.4" r="0.7" fill="#9a9a9a"/><circle cx="523.0" cy="696.0" r="0.7" fill="#a0a0a0"/><circle cx="547.6" cy="702.6" r="0.9" fill="#888888"/><circle cx="552.4" cy="669.5" r="0.7" fill="#a1a1a1"/><circle cx="502.6" cy="707.1" r="0.8" fill="#898989"/><circle cx="512.5" cy="703.3" r="0.6" fill="#979797"/><circle cx="513.8" cy="665.7" r="0.6" fill="#a1a1a1"/><circle cx="538.0" cy="686.4" r="0.7" fill="#979797"/><circle cx="548.9" cy="690.3" r="0.6" fill="#afafaf"/><circle cx="520.6" cy="724.5" r="1.0" fill="#909090"/><circle cx="524.4" cy="693.3" r="0.8" fill="#ababab"/><circle cx="501.1" cy="694.8" r="0.7" fill="#afafaf"/><circle cx="539.7" cy="687.1" r="0.6" fill="#acacac"/><circle cx="538.7" cy="708.1" r="0.6" fill="#8b8b8b"/><circle cx="517.1" cy="688.2" r="0.6" fill="#999999"/><circle cx="555.5" cy="705.7" r="0.6" fill="#858585"/><circle cx="527.4" cy="692.1" r="0.7" fill="#909090"/><circle cx="550.4" cy="689.5" r="0.6" fill="#909090"/><circle cx="532.1" cy="688.4" r="0.9" fill="#adadad"/><circle cx="517.9" cy="721.2" r="0.8" fill="#838383"/><circle cx="518.5" cy="662.3" r="0.8" fill="#adadad"/><circle cx="552.8" cy="711.8" r="0.6" fill="#8b8b8b"/><circle cx="543.5" cy="727.6" r="0.7" fill="#b0b0b0"/><circle cx="519.6" cy="704.3" r="0.6" fill="#a7a7a7"/><circle cx="523.3" cy="700.1" r="0.7" fill="#9e9e9e"/><circle cx="508.3" cy="689.6" r="1.0" fill="#a2a2a2"/><circle cx="540.4" cy="685.7" r="0.6" fill="#808080"/><circle cx="530.8" cy="686.0" r="0.6" fill="#ababab"/><circle cx="550.2" cy="719.0" r="0.9" fill="#939393"/><circle cx="545.2" cy="715.2" r="0.8" fill="#979797"/><circle cx="507.7" cy="677.8" r="0.5" fill="#a0a0a0"/><circle cx="535.8" cy="711.5" r="0.7" fill="#8a8a8a"/><circle cx="558.0" cy="685.0" r="0.9" fill="#afafaf"/><circle cx="553.0" cy="721.2" r="0.8" fill="#a6a6a6"/><circle cx="517.8" cy="721.1" r="0.8" fill="#adadad"/><circle cx="504.5" cy="723.0" r="1.0" fill="#a2a2a2"/><circle cx="550.5" cy="667.3" r="0.5" fill="#8f8f8f"/><circle cx="542.7" cy="662.0" r="0.7" fill="#9a9a9a"/><circle cx="493.5" cy="694.5" r="0.8" fill="#afafaf"/><circle cx="542.3" cy="724.7" r="0.6" fill="#a6a6a6"/><circle cx="511.9" cy="725.0" r="0.5" fill="#a0a0a0"/><circle cx="529.0" cy="717.8" r="0.6" fill="#898989"/><circle cx="521.1" cy="687.6" r="0.6" fill="#8e8e8e"/><circle cx="531.5" cy="667.4" r="0.5" fill="#a3a3a3"/><circle cx="538.8" cy="679.5" r="0.6" fill="#aeaeae"/><circle cx="529.8" cy="703.6" r="0.9" fill="#848484"/><circle cx="560.3" cy="706.9" r="0.6" fill="#9e9e9e"/><circle cx="532.3" cy="665.8" r="0.8" fill="#9b9b9b"/><circle cx="505.2" cy="709.6" r="0.7" fill="#8b8b8b"/><circle cx="495.1" cy="689.5" r="0.9" fill="#838383"/><circle cx="543.4" cy="666.9" r="0.6" fill="#959595"/><circle cx="549.0" cy="710.4" r="0.7" fill="#8e8e8e"/><circle cx="559.7" cy="706.3" r="0.7" fill="#8d8d8d"/><circle cx="526.6" cy="732.0" r="0.8" fill="#ababab"/><circle cx="513.4" cy="714.5" r="0.7" fill="#8a8a8a"/><circle cx="551.6" cy="714.0" r="0.6" fill="#a8a8a8"/><circle cx="512.7" cy="701.0" r="0.8" fill="#9f9f9f"/><circle cx="495.0" cy="699.7" r="0.7" fill="#9a9a9a"/><circle cx="551.2" cy="679.3" r="1.0" fill="#9f9f9f"/><circle cx="519.4" cy="675.9" r="0.5" fill="#848484"/><circle cx="523.8" cy="707.8" r="0.7" fill="#b0b0b0"/><circle cx="499.8" cy="683.8" r="0.7" fill="#aeaeae"/><circle cx="534.8" cy="669.9" r="0.5" fill="#a3a3a3"/><circle cx="547.1" cy="688.7" r="0.8" fill="#919191"/><circle cx="560.5" cy="708.6" r="0.6" fill="#969696"/><circle cx="516.3" cy="693.1" r="0.6" fill="#999999"/><circle cx="545.4" cy="670.0" r="0.9" fill="#8e8e8e"/><circle cx="534.3" cy="723.4" r="0.9" fill="#8c8c8c"/><circle cx="518.2" cy="725.2" r="0.6" fill="#828282"/><circle cx="502.1" cy="696.1" r="0.9" fill="#888888"/><circle cx="509.6" cy="716.4" r="0.6" fill="#848484"/><circle cx="543.3" cy="685.6" r="0.7" fill="#a5a5a5"/><circle cx="525.9" cy="718.5" r="0.7" fill="#afafaf"/><circle cx="498.7" cy="706.9" r="0.9" fill="#858585"/><circle cx="509.8" cy="687.8" r="0.8" fill="#aeaeae"/><circle cx="517.9" cy="685.8" r="0.7" fill="#9a9a9a"/><circle cx="507.2" cy="708.8" r="0.7" fill="#828282"/><circle cx="538.3" cy="673.3" r="0.6" fill="#a7a7a7"/><circle cx="523.4" cy="665.4" r="0.8" fill="#818181"/><circle cx="518.6" cy="662.2" r="1.0" fill="#939393"/><circle cx="554.9" cy="685.1" r="0.5" fill="#aeaeae"/><circle cx="500.2" cy="676.0" r="0.7" fill="#aaaaaa"/><circle cx="536.3" cy="704.1" r="0.7" fill="#a3a3a3"/><circle cx="536.7" cy="698.9" r="0.8" fill="#a7a7a7"/><circle cx="523.5" cy="688.0" r="0.7" fill="#9b9b9b"/><circle cx="529.0" cy="690.0" r="1.0" fill="#afafaf"/><circle cx="528.7" cy="662.4" r="0.5" fill="#8c8c8c"/><circle cx="507.5" cy="683.6" r="0.9" fill="#9a9a9a"/><circle cx="522.0" cy="682.9" r="0.8" fill="#9f9f9f"/><circle cx="509.0" cy="717.1" r="0.6" fill="#868686"/><circle cx="533.5" cy="695.3" r="0.8" fill="#a0a0a0"/><circle cx="557.0" cy="703.2" r="0.7" fill="#959595"/><circle cx="525.0" cy="709.9" r="0.7" fill="#989898"/><circle cx="502.6" cy="700.8" r="0.8" fill="#989898"/><circle cx="544.6" cy="698.6" r="0.5" fill="#8d8d8d"/><circle cx="525.1" cy="691.2" r="0.8" fill="#808080"/><circle cx="538.6" cy="678.0" r="1.0" fill="#8b8b8b"/><circle cx="527.9" cy="684.3" r="0.7" fill="#a5a5a5"/><circle cx="527.5" cy="722.8" r="1.0" fill="#8a8a8a"/><circle cx="495.0" cy="693.8" r="0.9" fill="#a6a6a6"/><circle cx="545.1" cy="668.5" r="0.9" fill="#959595"/><circle cx="525.8" cy="705.8" r="0.9" fill="#adadad"/><circle cx="533.5" cy="684.4" r="0.8" fill="#858585"/><circle cx="522.9" cy="705.1" r="0.8" fill="#a9a9a9"/><circle cx="506.7" cy="716.8" r="0.8" fill="#a8a8a8"/><circle cx="521.8" cy="674.2" r="0.5" fill="#919191"/><circle cx="535.0" cy="728.0" r="0.8" fill="#979797"/><circle cx="502.3" cy="716.2" r="0.6" fill="#969696"/><circle cx="549.7" cy="677.5" r="0.7" fill="#acacac"/><circle cx="560.5" cy="680.4" r="0.7" fill="#8e8e8e"/><circle cx="549.9" cy="678.2" r="0.6" fill="#8b8b8b"/><circle cx="530.4" cy="701.8" r="0.5" fill="#aeaeae"/><circle cx="545.0" cy="708.5" r="0.8" fill="#9c9c9c"/><circle cx="563.5" cy="691.7" r="0.6" fill="#909090"/><circle cx="534.1" cy="674.0" r="0.7" fill="#acacac"/><circle cx="498.3" cy="699.1" r="0.6" fill="#828282"/><circle cx="526.6" cy="723.7" r="0.6" fill="#828282"/><circle cx="494.6" cy="702.9" r="0.8" fill="#9c9c9c"/><circle cx="541.1" cy="678.9" r="1.0" fill="#919191"/><circle cx="548.4" cy="689.9" r="0.5" fill="#9e9e9e"/><circle cx="532.2" cy="704.2" r="0.9" fill="#acacac"/><circle cx="557.5" cy="702.8" r="0.5" fill="#8f8f8f"/><circle cx="506.0" cy="681.2" r="0.8" fill="#969696"/><circle cx="543.0" cy="673.2" r="0.6" fill="#afafaf"/><circle cx="559.8" cy="706.1" r="0.6" fill="#949494"/><circle cx="541.9" cy="707.7" r="0.5" fill="#9b9b9b"/><circle cx="502.1" cy="694.9" r="0.8" fill="#8d8d8d"/><circle cx="530.5" cy="697.3" r="0.9" fill="#848484"/><circle cx="501.2" cy="708.8" r="0.5" fill="#959595"/><circle cx="524.6" cy="730.5" r="0.5" fill="#a8a8a8"/><circle cx="537.9" cy="687.4" r="0.5" fill="#aaaaaa"/><circle cx="517.9" cy="692.4" r="0.7" fill="#898989"/><circle cx="543.6" cy="664.8" r="0.8" fill="#8d8d8d"/><circle cx="535.8" cy="683.0" r="0.9" fill="#afafaf"/><circle cx="554.4" cy="701.3" r="0.5" fill="#858585"/><circle cx="516.0" cy="723.6" r="0.9" fill="#a3a3a3"/><circle cx="528.9" cy="710.9" r="1.0" fill="#acacac"/><circle cx="517.7" cy="717.6" r="0.9" fill="#a1a1a1"/><circle cx="540.4" cy="666.4" r="0.8" fill="#979797"/><circle cx="540.7" cy="713.6" r="0.5" fill="#828282"/><circle cx="529.4" cy="696.4" r="1.0" fill="#939393"/><circle cx="554.2" cy="681.5" r="0.7" fill="#979797"/><circle cx="557.0" cy="681.6" r="0.7" fill="#898989"/><circle cx="533.4" cy="661.9" r="0.7" fill="#9b9b9b"/><circle cx="523.8" cy="683.3" r="0.6" fill="#9e9e9e"/><circle cx="506.5" cy="675.0" r="0.8" fill="#848484"/><circle cx="509.8" cy="677.4" r="0.6" fill="#a0a0a0"/><circle cx="525.1" cy="703.2" r="0.6" fill="#9a9a9a"/><circle cx="537.2" cy="694.9" r="0.6" fill="#afafaf"/><circle cx="521.9" cy="700.8" r="0.7" fill="#8e8e8e"/><circle cx="550.7" cy="694.9" r="0.8" fill="#868686"/><circle cx="511.8" cy="698.3" r="0.8" fill="#8e8e8e"/><circle cx="518.5" cy="700.7" r="0.7" fill="#909090"/><circle cx="520.3" cy="688.2" r="0.9" fill="#9e9e9e"/><circle cx="535.3" cy="680.6" r="0.9" fill="#878787"/><circle cx="551.0" cy="670.3" r="0.6" fill="#8d8d8d"/><circle cx="503.6" cy="713.8" r="0.6" fill="#999999"/><circle cx="501.5" cy="709.0" r="0.7" fill="#a1a1a1"/><circle cx="498.7" cy="714.0" r="0.5" fill="#979797"/><circle cx="516.9" cy="697.6" r="0.9" fill="#9b9b9b"/><circle cx="508.8" cy="714.9" r="0.7" fill="#a7a7a7"/><circle cx="549.3" cy="696.2" r="0.6" fill="#999999"/><circle cx="538.2" cy="660.5" r="0.6" fill="#9d9d9d"/><circle cx="527.2" cy="701.7" r="0.7" fill="#969696"/><circle cx="556.1" cy="694.5" r="1.0" fill="#898989"/><circle cx="546.7" cy="665.7" r="0.8" fill="#a4a4a4"/><circle cx="499.5" cy="692.8" r="0.7" fill="#a0a0a0"/><circle cx="552.5" cy="715.2" r="0.6" fill="#a6a6a6"/><circle cx="565.6" cy="696.0" r="0.6" fill="#818181"/><circle cx="539.3" cy="686.2" r="0.9" fill="#999999"/><circle cx="508.0" cy="700.2" r="0.5" fill="#9c9c9c"/><circle cx="518.5" cy="699.0" r="0.7" fill="#aaaaaa"/><circle cx="546.5" cy="677.5" r="0.7" fill="#868686"/><circle cx="496.6" cy="698.8" r="1.0" fill="#9e9e9e"/><circle cx="514.6" cy="672.8" r="0.6" fill="#aaaaaa"/><circle cx="552.6" cy="722.5" r="0.6" fill="#909090"/><circle cx="507.2" cy="698.5" r="0.8" fill="#b0b0b0"/><circle cx="544.3" cy="670.1" r="0.5" fill="#808080"/><circle cx="522.1" cy="702.5" r="0.9" fill="#959595"/><circle cx="541.3" cy="684.9" r="0.7" fill="#aaaaaa"/><circle cx="525.2" cy="664.5" r="1.0" fill="#858585"/><circle cx="549.5" cy="723.4" r="0.9" fill="#8c8c8c"/><circle cx="511.8" cy="718.7" r="0.7" fill="#a6a6a6"/><circle cx="558.7" cy="708.6" r="0.9" fill="#9c9c9c"/><circle cx="516.4" cy="680.9" r="0.5" fill="#9a9a9a"/><circle cx="548.1" cy="670.2" r="0.6" fill="#afafaf"/><circle cx="510.6" cy="666.5" r="0.9" fill="#a7a7a7"/><circle cx="544.9" cy="679.7" r="0.9" fill="#a5a5a5"/><circle cx="538.7" cy="723.4" r="0.7" fill="#b0b0b0"/><circle cx="502.6" cy="704.5" r="1.0" fill="#808080"/><circle cx="507.7" cy="675.3" r="0.9" fill="#8f8f8f"/><circle cx="558.9" cy="709.2" r="0.6" fill="#949494"/><circle cx="562.7" cy="688.8" r="0.7" fill="#909090"/><circle cx="513.1" cy="669.7" r="0.6" fill="#acacac"/><circle cx="531.7" cy="661.7" r="0.9" fill="#8b8b8b"/><circle cx="551.8" cy="686.2" r="0.6" fill="#a3a3a3"/><circle cx="531.7" cy="712.4" r="0.9" fill="#858585"/><circle cx="511.0" cy="687.0" r="0.8" fill="#9e9e9e"/><circle cx="564.7" cy="701.5" r="0.9" fill="#adadad"/><circle cx="537.7" cy="705.6" r="0.8" fill="#a0a0a0"/><circle cx="558.8" cy="687.7" r="0.9" fill="#838383"/><circle cx="547.5" cy="710.2" r="1.0" fill="#989898"/><circle cx="563.0" cy="703.4" r="1.0" fill="#828282"/><circle cx="525.7" cy="709.6" r="0.7" fill="#909090"/><circle cx="514.7" cy="689.7" r="0.7" fill="#868686"/><circle cx="506.5" cy="708.6" r="0.7" fill="#ababab"/><circle cx="511.1" cy="724.5" r="0.5" fill="#8c8c8c"/><circle cx="503.9" cy="670.8" r="0.7" fill="#8c8c8c"/><circle cx="500.8" cy="708.7" r="0.9" fill="#8d8d8d"/><circle cx="540.4" cy="706.7" r="0.7" fill="#808080"/><circle cx="514.7" cy="699.4" r="0.8" fill="#9a9a9a"/><circle cx="503.2" cy="680.2" r="0.8" fill="#919191"/><circle cx="512.7" cy="694.7" r="0.9" fill="#898989"/><circle cx="553.6" cy="721.5" r="0.6" fill="#afafaf"/><circle cx="523.6" cy="724.0" r="0.9" fill="#848484"/><circle cx="515.0" cy="662.2" r="0.8" fill="#9a9a9a"/><circle cx="548.7" cy="699.8" r="0.5" fill="#979797"/><circle cx="502.6" cy="697.6" r="0.7" fill="#a5a5a5"/><circle cx="562.7" cy="688.1" r="0.8" fill="#919191"/><circle cx="543.5" cy="725.1" r="0.6" fill="#adadad"/><circle cx="508.6" cy="673.1" r="0.8" fill="#9e9e9e"/><circle cx="557.7" cy="686.3" r="0.9" fill="#848484"/><circle cx="532.8" cy="725.5" r="0.8" fill="#989898"/><circle cx="495.7" cy="711.1" r="0.5" fill="#9e9e9e"/><circle cx="555.2" cy="679.6" r="0.6" fill="#9d9d9d"/><circle cx="501.1" cy="684.4" r="0.9" fill="#878787"/><circle cx="542.5" cy="715.5" r="0.6" fill="#aaaaaa"/><circle cx="532.9" cy="685.3" r="0.5" fill="#afafaf"/><circle cx="496.3" cy="689.2" r="0.6" fill="#a1a1a1"/><circle cx="523.8" cy="679.8" r="0.5" fill="#898989"/><circle cx="527.3" cy="724.9" r="0.6" fill="#acacac"/><circle cx="539.5" cy="707.1" r="0.7" fill="#acacac"/><circle cx="529.5" cy="693.7" r="0.5" fill="#999999"/><circle cx="496.2" cy="696.2" r="1.0" fill="#909090"/><circle cx="518.6" cy="712.7" r="0.6" fill="#949494"/><circle cx="504.1" cy="673.2" r="0.7" fill="#979797"/><circle cx="537.9" cy="666.6" r="0.7" fill="#a6a6a6"/><circle cx="497.2" cy="691.0" r="0.9" fill="#a2a2a2"/><circle cx="506.9" cy="685.5" r="0.6" fill="#919191"/><circle cx="525.0" cy="729.9" r="0.8" fill="#888888"/><circle cx="507.5" cy="696.6" r="0.6" fill="#b0b0b0"/><circle cx="552.5" cy="697.8" r="0.9" fill="#828282"/><circle cx="534.3" cy="712.9" r="0.6" fill="#aaaaaa"/><circle cx="548.6" cy="691.6" r="0.7" fill="#9a9a9a"/><circle cx="529.7" cy="664.5" r="0.9" fill="#a2a2a2"/><circle cx="546.5" cy="667.1" r="1.0" fill="#a9a9a9"/><circle cx="511.1" cy="697.8" r="0.8" fill="#a6a6a6"/><circle cx="556.0" cy="709.7" r="0.7" fill="#969696"/><circle cx="513.1" cy="673.5" r="0.5" fill="#808080"/><circle cx="506.1" cy="689.5" r="0.9" fill="#999999"/><circle cx="528.8" cy="661.3" r="0.9" fill="#858585"/><circle cx="516.5" cy="695.3" r="0.7" fill="#858585"/><circle cx="554.7" cy="706.7" r="0.6" fill="#a0a0a0"/><circle cx="537.1" cy="720.2" r="0.9" fill="#858585"/><circle cx="542.5" cy="724.1" r="0.9" fill="#929292"/><circle cx="514.4" cy="720.6" r="1.0" fill="#8b8b8b"/><circle cx="559.3" cy="703.8" r="0.8" fill="#858585"/><circle cx="519.2" cy="714.3" r="0.5" fill="#878787"/><circle cx="520.6" cy="722.5" r="0.6" fill="#9a9a9a"/><circle cx="500.1" cy="689.3" r="0.6" fill="#979797"/><circle cx="514.4" cy="690.9" r="0.7" fill="#818181"/><circle cx="543.9" cy="726.8" r="0.7" fill="#878787"/><circle cx="529.0" cy="659.9" r="0.9" fill="#a7a7a7"/><circle cx="554.2" cy="671.8" r="0.8" fill="#686868"/><circle cx="507.3" cy="697.4" r="0.8" fill="#4c4c4c"/><circle cx="502.8" cy="692.4" r="0.9" fill="#575757"/><circle cx="530.9" cy="714.1" r="0.8" fill="#5c5c5c"/><circle cx="560.5" cy="710.0" r="0.7" fill="#525252"/><circle cx="548.7" cy="704.2" r="0.9" fill="#4b4b4b"/><circle cx="513.6" cy="695.5" r="1.1" fill="#777777"/><circle cx="527.7" cy="710.1" r="0.9" fill="#525252"/><circle cx="528.5" cy="732.6" r="1.1" fill="#6b6b6b"/><circle cx="530.2" cy="730.3" r="1.1" fill="#5b5b5b"/><circle cx="520.7" cy="708.7" r="0.7" fill="#767676"/><circle cx="537.3" cy="723.0" r="1.2" fill="#525252"/><circle cx="547.3" cy="671.5" r="0.9" fill="#6c6c6c"/><circle cx="542.9" cy="663.1" r="0.8" fill="#5a5a5a"/><circle cx="554.4" cy="691.4" r="0.8" fill="#5f5f5f"/><circle cx="533.8" cy="676.2" r="0.9" fill="#4d4d4d"/><circle cx="531.4" cy="713.4" r="1.1" fill="#575757"/><circle cx="561.1" cy="683.0" r="0.7" fill="#585858"/><circle cx="508.8" cy="701.8" r="1.0" fill="#545454"/><circle cx="522.1" cy="704.7" r="1.0" fill="#585858"/><circle cx="514.5" cy="693.3" r="1.0" fill="#727272"/><circle cx="553.0" cy="669.4" r="0.8" fill="#6c6c6c"/><circle cx="534.3" cy="667.9" r="0.8" fill="#494949"/><circle cx="535.9" cy="712.6" r="1.0" fill="#5c5c5c"/><circle cx="562.0" cy="690.7" r="1.1" fill="#686868"/><circle cx="494.5" cy="686.1" r="1.1" fill="#4c4c4c"/><circle cx="549.9" cy="691.0" r="0.6" fill="#5f5f5f"/><circle cx="509.1" cy="699.3" r="0.7" fill="#5b5b5b"/><circle cx="563.7" cy="686.6" r="0.9" fill="#5f5f5f"/><circle cx="548.6" cy="699.2" r="0.7" fill="#535353"/><circle cx="525.8" cy="677.8" r="1.2" fill="#696969"/><circle cx="537.0" cy="711.7" r="0.7" fill="#484848"/><circle cx="503.3" cy="678.2" r="0.8" fill="#717171"/><circle cx="547.7" cy="717.1" r="0.6" fill="#5b5b5b"/><circle cx="534.4" cy="662.0" r="0.6" fill="#747474"/><circle cx="532.7" cy="672.7" r="0.9" fill="#4f4f4f"/><circle cx="526.6" cy="663.3" r="1.2" fill="#595959"/><circle cx="511.8" cy="697.3" r="1.1" fill="#6e6e6e"/><circle cx="528.5" cy="710.8" r="0.6" fill="#696969"/><circle cx="511.9" cy="702.0" r="1.1" fill="#4b4b4b"/><circle cx="532.2" cy="709.8" r="0.7" fill="#616161"/><circle cx="536.7" cy="704.3" r="0.7" fill="#4d4d4d"/><circle cx="501.9" cy="705.0" r="0.6" fill="#696969"/><circle cx="525.2" cy="699.3" r="0.7" fill="#4f4f4f"/><circle cx="511.1" cy="669.4" r="1.0" fill="#6b6b6b"/><circle cx="537.8" cy="683.2" r="0.7" fill="#696969"/><circle cx="541.4" cy="665.9" r="1.2" fill="#787878"/><circle cx="518.0" cy="670.5" r="1.1" fill="#6d6d6d"/><circle cx="553.7" cy="694.6" r="0.8" fill="#4d4d4d"/><circle cx="494.6" cy="689.7" r="1.2" fill="#717171"/><circle cx="546.8" cy="691.6" r="0.7" fill="#4f4f4f"/><circle cx="520.9" cy="722.7" r="0.9" fill="#646464"/><circle cx="518.2" cy="721.1" r="0.6" fill="#707070"/><circle cx="512.3" cy="689.0" r="0.9" fill="#525252"/><circle cx="493.9" cy="692.5" r="0.9" fill="#525252"/><circle cx="520.7" cy="666.0" r="1.1" fill="#4a4a4a"/><circle cx="547.3" cy="706.3" r="1.1" fill="#5e5e5e"/><circle cx="553.8" cy="712.1" r="0.8" fill="#5e5e5e"/><circle cx="511.3" cy="715.0" r="0.8" fill="#4b4b4b"/><circle cx="494.8" cy="705.3" r="1.1" fill="#696969"/><circle cx="545.5" cy="671.1" r="0.8" fill="#6c6c6c"/><circle cx="531.4" cy="697.8" r="1.1" fill="#5b5b5b"/><circle cx="547.9" cy="678.0" r="1.0" fill="#585858"/><circle cx="532.2" cy="685.9" r="0.8" fill="#737373"/><circle cx="560.2" cy="680.1" r="1.0" fill="#646464"/><circle cx="498.0" cy="699.6" r="1.0" fill="#676767"/><circle cx="527.3" cy="678.1" r="1.1" fill="#4c4c4c"/><circle cx="539.9" cy="666.4" r="0.8" fill="#545454"/><circle cx="541.7" cy="709.9" r="0.7" fill="#666666"/><circle cx="528.2" cy="696.3" r="0.6" fill="#4b4b4b"/><circle cx="527.5" cy="687.5" r="0.7" fill="#636363"/><circle cx="533.3" cy="691.3" r="0.9" fill="#686868"/><circle cx="545.5" cy="702.8" r="1.2" fill="#787878"/><circle cx="513.3" cy="685.8" r="0.9" fill="#696969"/><circle cx="523.4" cy="708.2" r="1.2" fill="#4c4c4c"/><circle cx="508.4" cy="678.3" r="0.7" fill="#676767"/><circle cx="531.2" cy="728.0" r="0.9" fill="#5e5e5e"/><circle cx="512.9" cy="713.6" r="0.7" fill="#6f6f6f"/><circle cx="500.5" cy="673.3" r="1.1" fill="#545454"/><circle cx="544.9" cy="688.1" r="0.8" fill="#4d4d4d"/><circle cx="546.8" cy="678.1" r="0.7" fill="#747474"/><circle cx="553.3" cy="720.2" r="1.0" fill="#656565"/><circle cx="534.8" cy="692.5" r="1.0" fill="#555555"/><circle cx="517.8" cy="702.8" r="0.7" fill="#6f6f6f"/><circle cx="535.4" cy="676.4" r="1.1" fill="#6b6b6b"/><circle cx="524.1" cy="678.4" r="0.9" fill="#484848"/><circle cx="514.0" cy="662.9" r="1.2" fill="#5c5c5c"/><circle cx="549.0" cy="723.1" r="0.7" fill="#6b6b6b"/><circle cx="538.9" cy="700.3" r="1.1" fill="#5f5f5f"/><circle cx="513.4" cy="675.0" r="0.7" fill="#5c5c5c"/><circle cx="527.7" cy="680.7" r="0.7" fill="#5b5b5b"/><circle cx="548.4" cy="667.8" r="1.0" fill="#515151"/><circle cx="537.1" cy="665.3" r="0.8" fill="#6b6b6b"/><circle cx="527.3" cy="729.6" r="0.9" fill="#5b5b5b"/><circle cx="539.5" cy="671.3" r="0.9" fill="#5c5c5c"/><circle cx="564.5" cy="704.0" r="0.8" fill="#6d6d6d"/><circle cx="545.2" cy="708.3" r="0.7" fill="#494949"/><circle cx="544.9" cy="704.0" r="0.9" fill="#6b6b6b"/><circle cx="509.6" cy="725.3" r="0.7" fill="#6e6e6e"/><circle cx="519.4" cy="697.6" r="0.9" fill="#575757"/><circle cx="524.1" cy="686.0" r="1.2" fill="#676767"/><circle cx="530.1" cy="678.3" r="1.0" fill="#494949"/><circle cx="541.7" cy="676.2" r="1.1" fill="#4b4b4b"/><circle cx="538.1" cy="684.3" r="0.7" fill="#727272"/><circle cx="496.0" cy="701.8" r="0.8" fill="#707070"/><circle cx="544.9" cy="693.6" r="1.1" fill="#646464"/><circle cx="549.1" cy="715.8" r="0.7" fill="#4b4b4b"/><circle cx="547.7" cy="669.7" r="1.1" fill="#6a6a6a"/><circle cx="503.1" cy="706.0" r="1.2" fill="#565656"/><circle cx="530.4" cy="720.2" r="0.7" fill="#535353"/><circle cx="530.9" cy="696.2" r="0.8" fill="#565656"/><circle cx="521.0" cy="697.6" r="1.1" fill="#494949"/><circle cx="536.1" cy="719.4" r="1.0" fill="#4c4c4c"/><circle cx="497.0" cy="706.0" r="0.6" fill="#606060"/><circle cx="512.4" cy="717.0" r="1.1" fill="#636363"/><circle cx="559.6" cy="684.6" r="1.1" fill="#4c4c4c"/><circle cx="503.9" cy="697.5" r="0.9" fill="#626262"/><circle cx="525.3" cy="676.6" r="1.0" fill="#5b5b5b"/><circle cx="545.4" cy="674.1" r="0.6" fill="#717171"/><circle cx="502.7" cy="710.6" r="0.7" fill="#676767"/><circle cx="548.5" cy="719.9" r="1.0" fill="#626262"/><circle cx="528.0" cy="680.7" r="1.1" fill="#737373"/><circle cx="509.1" cy="682.7" r="0.7" fill="#777777"/><circle cx="514.3" cy="722.8" r="1.0" fill="#5e5e5e"/><circle cx="532.6" cy="701.0" r="0.9" fill="#707070"/><circle cx="534.5" cy="668.4" r="0.9" fill="#6d6d6d"/><circle cx="508.3" cy="694.8" r="1.1" fill="#4d4d4d"/><circle cx="506.4" cy="688.7" r="1.1" fill="#575757"/><circle cx="527.6" cy="703.3" r="1.1" fill="#727272"/><circle cx="546.9" cy="690.0" r="1.1" fill="#6f6f6f"/><circle cx="552.3" cy="723.7" r="1.2" fill="#646464"/><circle cx="564.4" cy="703.1" r="1.2" fill="#464646"/><circle cx="560.4" cy="710.8" r="0.7" fill="#6d6d6d"/><circle cx="495.2" cy="704.0" r="0.7" fill="#4f4f4f"/><circle cx="561.0" cy="708.0" r="0.6" fill="#646464"/><circle cx="560.6" cy="690.4" r="0.7" fill="#797979"/><circle cx="535.8" cy="661.3" r="1.3" fill="#696969"/><circle cx="505.1" cy="669.0" r="1.2" fill="#575757"/><circle cx="554.1" cy="676.5" r="1.0" fill="#757575"/><circle cx="497.6" cy="701.4" r="1.0" fill="#686868"/><circle cx="549.8" cy="725.1" r="0.7" fill="#565656"/><circle cx="497.4" cy="683.9" r="0.6" fill="#505050"/><circle cx="527.2" cy="731.9" r="1.3" fill="#616161"/><circle cx="563.4" cy="688.1" r="0.9" fill="#7d7d7d"/><circle cx="514.0" cy="728.4" r="1.0" fill="#707070"/><circle cx="496.2" cy="681.3" r="0.6" fill="#686868"/><circle cx="501.8" cy="716.3" r="1.1" fill="#454545"/><circle cx="550.2" cy="666.9" r="1.0" fill="#404040"/><circle cx="509.2" cy="665.7" r="0.7" fill="#606060"/><circle cx="551.9" cy="668.9" r="1.1" fill="#5a5a5a"/><circle cx="562.4" cy="708.3" r="0.8" fill="#444444"/><circle cx="536.7" cy="660.7" r="0.9" fill="#6b6b6b"/><circle cx="543.9" cy="665.3" r="0.6" fill="#7f7f7f"/><circle cx="533.2" cy="661.5" r="0.9" fill="#525252"/><circle cx="515.6" cy="663.5" r="1.0" fill="#636363"/><circle cx="556.8" cy="674.2" r="0.7" fill="#808080"/><circle cx="538.9" cy="728.8" r="1.0" fill="#727272"/><circle cx="495.7" cy="697.7" r="0.8" fill="#565656"/><circle cx="542.7" cy="727.4" r="1.1" fill="#484848"/><circle cx="516.3" cy="663.7" r="1.1" fill="#5f5f5f"/><circle cx="557.9" cy="708.5" r="0.7" fill="#404040"/><circle cx="526.6" cy="660.8" r="1.2" fill="#797979"/><circle cx="548.1" cy="726.5" r="1.0" fill="#4e4e4e"/><circle cx="539.9" cy="666.2" r="0.7" fill="#404040"/><circle cx="564.8" cy="691.7" r="1.3" fill="#7c7c7c"/><circle cx="541.2" cy="727.9" r="1.0" fill="#626262"/><circle cx="528.8" cy="730.6" r="1.0" fill="#6f6f6f"/><circle cx="501.1" cy="708.2" r="0.9" fill="#7a7a7a"/><circle cx="499.1" cy="677.2" r="1.2" fill="#5a5a5a"/><circle cx="543.5" cy="728.2" r="0.7" fill="#5c5c5c"/><circle cx="550.1" cy="724.0" r="0.7" fill="#474747"/><circle cx="515.9" cy="664.4" r="1.0" fill="#6a6a6a"/><circle cx="563.3" cy="699.0" r="1.0" fill="#797979"/><circle cx="527.9" cy="730.5" r="0.6" fill="#5c5c5c"/><circle cx="497.3" cy="708.1" r="1.0" fill="#646464"/><circle cx="550.9" cy="723.6" r="0.7" fill="#7b7b7b"/><circle cx="562.8" cy="706.4" r="0.8" fill="#646464"/><circle cx="509.4" cy="667.8" r="1.2" fill="#515151"/><circle cx="499.7" cy="716.5" r="1.2" fill="#696969"/><circle cx="528.2" cy="729.9" r="1.1" fill="#5c5c5c"/><circle cx="510.5" cy="666.4" r="0.9" fill="#666666"/><circle cx="500.7" cy="685.6" r="0.6" fill="#6b6b6b"/><circle cx="562.6" cy="700.2" r="0.6" fill="#737373"/><circle cx="534.1" cy="661.6" r="0.9" fill="#5a5a5a"/><circle cx="525.9" cy="728.9" r="1.0" fill="#555555"/><circle cx="554.2" cy="712.9" r="0.9" fill="#494949"/><circle cx="522.2" cy="730.5" r="0.9" fill="#5c5c5c"/><circle cx="560.9" cy="699.6" r="1.1" fill="#6f6f6f"/><circle cx="534.9" cy="729.2" r="1.2" fill="#767676"/><circle cx="544.6" cy="726.9" r="1.1" fill="#4b4b4b"/><circle cx="494.2" cy="702.7" r="0.9" fill="#717171"/><circle cx="528.0" cy="660.2" r="1.2" fill="#727272"/><circle cx="496.9" cy="681.6" r="0.9" fill="#464646"/><circle cx="523.7" cy="660.8" r="1.1" fill="#747474"/><circle cx="495.4" cy="688.4" r="1.0" fill="#4f4f4f"/><circle cx="516.3" cy="727.3" r="0.9" fill="#7c7c7c"/><circle cx="504.2" cy="673.3" r="0.7" fill="#797979"/><circle cx="493.3" cy="691.5" r="0.9" fill="#4d4d4d"/><circle cx="513.6" cy="668.9" r="1.0" fill="#616161"/><circle cx="552.4" cy="673.2" r="1.3" fill="#666666"/><circle cx="512.7" cy="726.2" r="1.0" fill="#5d5d5d"/><circle cx="497.0" cy="692.0" r="1.1" fill="#767676"/><circle cx="540.9" cy="729.3" r="0.6" fill="#595959"/><circle cx="507.9" cy="717.3" r="1.3" fill="#5d5d5d"/><circle cx="534.9" cy="666.0" r="0.7" fill="#4a4a4a"/><circle cx="559.6" cy="712.7" r="1.2" fill="#555555"/><circle cx="497.1" cy="710.5" r="1.2" fill="#5c5c5c"/><circle cx="554.6" cy="713.9" r="1.2" fill="#666666"/><circle cx="513.0" cy="666.4" r="1.3" fill="#747474"/><circle cx="541.7" cy="663.5" r="1.0" fill="#686868"/><circle cx="549.2" cy="724.2" r="0.8" fill="#4e4e4e"/><circle cx="535.0" cy="728.9" r="0.7" fill="#707070"/><circle cx="503.1" cy="717.1" r="0.9" fill="#575757"/><circle cx="523.5" cy="727.5" r="1.3" fill="#676767"/><circle cx="496.9" cy="682.6" r="1.3" fill="#777777"/><circle cx="502.8" cy="672.2" r="0.9" fill="#444444"/><circle cx="552.5" cy="723.5" r="1.0" fill="#777777"/><circle cx="511.5" cy="667.8" r="1.1" fill="#797979"/><circle cx="508.1" cy="723.0" r="0.7" fill="#7e7e7e"/><circle cx="553.5" cy="716.2" r="1.1" fill="#666666"/><circle cx="510.0" cy="722.2" r="1.2" fill="#616161"/><circle cx="533.5" cy="730.6" r="1.2" fill="#787878"/><circle cx="526.7" cy="659.8" r="1.0" fill="#4c4c4c"/><circle cx="542.3" cy="728.8" r="1.1" fill="#646464"/><circle cx="553.6" cy="718.5" r="1.0" fill="#676767"/><circle cx="564.2" cy="703.8" r="1.2" fill="#6e6e6e"/><circle cx="507.3" cy="724.4" r="0.8" fill="#616161"/><circle cx="555.7" cy="672.6" r="0.7" fill="#4c4c4c"/><circle cx="535.6" cy="662.2" r="1.2" fill="#5e5e5e"/><circle cx="554.5" cy="715.0" r="1.2" fill="#747474"/><circle cx="548.3" cy="724.8" r="0.9" fill="#6a6a6a"/><circle cx="513.5" cy="727.1" r="1.1" fill="#535353"/><circle cx="507.7" cy="722.2" r="1.3" fill="#555555"/><circle cx="518.9" cy="667.2" r="1.2" fill="#4b4b4b"/><circle cx="520.2" cy="727.1" r="0.7" fill="#595959"/><circle cx="505.4" cy="723.5" r="1.2" fill="#636363"/><circle cx="511.3" cy="668.4" r="0.8" fill="#787878"/><circle cx="531.3" cy="660.8" r="0.7" fill="#646464"/><circle cx="495.2" cy="686.7" r="0.9" fill="#7e7e7e"/><circle cx="559.9" cy="677.8" r="1.1" fill="#686868"/><circle cx="507.1" cy="723.7" r="0.8" fill="#474747"/><circle cx="500.5" cy="686.3" r="0.7" fill="#7d7d7d"/><circle cx="559.1" cy="675.7" r="0.7" fill="#414141"/><circle cx="533.7" cy="727.0" r="1.2" fill="#5d5d5d"/><circle cx="495.7" cy="699.7" r="0.7" fill="#7f7f7f"/><circle cx="563.0" cy="704.1" r="0.9" fill="#606060"/><circle cx="521.6" cy="662.2" r="0.9" fill="#606060"/><circle cx="498.5" cy="680.2" r="1.3" fill="#434343"/><circle cx="539.2" cy="728.7" r="0.8" fill="#696969"/><circle cx="499.9" cy="675.2" r="0.9" fill="#757575"/><circle cx="532.4" cy="663.8" r="1.2" fill="#6c6c6c"/><circle cx="556.7" cy="716.1" r="0.9" fill="#585858"/><circle cx="497.1" cy="712.7" r="1.1" fill="#707070"/><circle cx="560.2" cy="682.8" r="1.0" fill="#4d4d4d"/><circle cx="548.7" cy="720.1" r="0.8" fill="#7b7b7b"/><circle cx="560.7" cy="683.3" r="0.8" fill="#7a7a7a"/><circle cx="506.4" cy="669.5" r="1.2" fill="#5a5a5a"/><circle cx="508.2" cy="725.5" r="1.2" fill="#4f4f4f"/><circle cx="533.1" cy="729.7" r="0.6" fill="#7f7f7f"/><circle cx="557.0" cy="674.3" r="0.9" fill="#767676"/><circle cx="557.5" cy="716.0" r="1.2" fill="#555555"/><circle cx="523.6" cy="731.6" r="1.0" fill="#555555"/><circle cx="541.2" cy="666.7" r="1.1" fill="#505050"/><circle cx="548.0" cy="722.5" r="1.3" fill="#404040"/><circle cx="549.6" cy="725.5" r="1.3" fill="#717171"/><circle cx="555.6" cy="673.4" r="0.9" fill="#5a5a5a"/><circle cx="494.2" cy="686.1" r="0.7" fill="#7f7f7f"/><circle cx="499.3" cy="712.4" r="0.8" fill="#4e4e4e"/><circle cx="563.2" cy="685.4" r="0.9" fill="#666666"/><circle cx="507.6" cy="720.5" r="1.2" fill="#7b7b7b"/><circle cx="502.6" cy="674.0" r="1.1" fill="#4c4c4c"/><circle cx="505.7" cy="722.1" r="0.7" fill="#797979"/><circle cx="503.7" cy="673.3" r="1.2" fill="#545454"/><circle cx="521.2" cy="665.0" r="0.9" fill="#5b5b5b"/><circle cx="563.8" cy="697.7" r="1.1" fill="#424242"/><circle cx="523.4" cy="727.7" r="1.2" fill="#616161"/><circle cx="503.7" cy="670.8" r="0.9" fill="#7c7c7c"/><circle cx="541.0" cy="729.7" r="0.7" fill="#646464"/><circle cx="547.1" cy="665.2" r="0.7" fill="#7e7e7e"/><circle cx="558.7" cy="714.8" r="0.9" fill="#525252"/><circle cx="495.7" cy="708.3" r="1.0" fill="#4f4f4f"/><circle cx="498.4" cy="685.5" r="1.1" fill="#7e7e7e"/><circle cx="509.3" cy="668.3" r="1.2" fill="#757575"/><circle cx="495.4" cy="704.5" r="0.8" fill="#686868"/><circle cx="530.1" cy="661.9" r="1.0" fill="#7d7d7d"/><circle cx="496.6" cy="688.5" r="0.8" fill="#4e4e4e"/><circle cx="559.6" cy="679.3" r="0.6" fill="#6e6e6e"/><circle cx="562.5" cy="708.2" r="1.2" fill="#464646"/><circle cx="526.1" cy="730.6" r="1.1" fill="#717171"/><circle cx="551.3" cy="719.6" r="1.2" fill="#484848"/><circle cx="531.6" cy="730.6" r="0.8" fill="#515151"/><circle cx="516.1" cy="666.2" r="1.0" fill="#5e5e5e"/><circle cx="510.3" cy="726.5" r="1.1" fill="#4f4f4f"/><circle cx="506.0" cy="670.8" r="0.8" fill="#5a5a5a"/><circle cx="522.2" cy="663.6" r="1.1" fill="#717171"/><circle cx="542.0" cy="727.5" r="1.0" fill="#464646"/><circle cx="503.0" cy="718.4" r="1.1" fill="#737373"/><circle cx="501.6" cy="717.6" r="0.8" fill="#616161"/><circle cx="508.0" cy="722.8" r="0.7" fill="#6e6e6e"/><circle cx="496.1" cy="697.3" r="1.1" fill="#5f5f5f"/><circle cx="499.4" cy="676.3" r="1.1" fill="#4c4c4c"/><circle cx="551.1" cy="670.0" r="0.7" fill="#555555"/><circle cx="513.5" cy="666.5" r="1.0" fill="#6e6e6e"/><circle cx="559.9" cy="682.0" r="0.8" fill="#717171"/><circle cx="536.6" cy="728.5" r="0.9" fill="#676767"/><circle cx="510.0" cy="665.2" r="0.7" fill="#767676"/><circle cx="519.1" cy="662.7" r="1.0" fill="#4a4a4a"/><circle cx="497.0" cy="685.7" r="0.6" fill="#787878"/><circle cx="500.7" cy="717.9" r="1.3" fill="#797979"/><circle cx="497.0" cy="712.3" r="0.8" fill="#666666"/><circle cx="555.0" cy="716.3" r="1.1" fill="#767676"/><circle cx="515.2" cy="727.2" r="0.7" fill="#414141"/><circle cx="497.8" cy="678.8" r="1.1" fill="#7e7e7e"/><circle cx="539.2" cy="726.9" r="1.1" fill="#646464"/><circle cx="554.0" cy="672.7" r="1.3" fill="#696969"/><circle cx="519.7" cy="661.8" r="1.0" fill="#515151"/><circle cx="497.8" cy="679.1" r="1.1" fill="#676767"/><circle cx="507.7" cy="720.9" r="0.9" fill="#5e5e5e"/><circle cx="558.6" cy="677.3" r="1.0" fill="#808080"/><circle cx="512.1" cy="726.7" r="1.0" fill="#777777"/><circle cx="558.0" cy="676.7" r="0.7" fill="#757575"/><circle cx="516.9" cy="661.7" r="1.0" fill="#737373"/><circle cx="525.8" cy="731.1" r="0.8" fill="#5b5b5b"/><circle cx="564.1" cy="704.2" r="0.8" fill="#717171"/><circle cx="500.3" cy="677.4" r="1.2" fill="#414141"/><circle cx="515.5" cy="729.0" r="1.0" fill="#727272"/><circle cx="539.2" cy="728.9" r="1.0" fill="#525252"/><circle cx="495.2" cy="690.2" r="1.0" fill="#7d7d7d"/><circle cx="505.6" cy="671.4" r="0.8" fill="#606060"/><circle cx="556.3" cy="677.6" r="0.8" fill="#6c6c6c"/><circle cx="497.6" cy="713.5" r="0.9" fill="#525252"/><circle cx="556.4" cy="718.7" r="0.7" fill="#4f4f4f"/><circle cx="514.4" cy="728.6" r="1.2" fill="#464646"/><circle cx="561.8" cy="683.7" r="0.9" fill="#4c4c4c"/><circle cx="554.5" cy="720.9" r="1.0" fill="#808080"/><circle cx="503.1" cy="718.9" r="0.9" fill="#626262"/><circle cx="557.3" cy="682.5" r="0.9" fill="#727272"/><circle cx="494.3" cy="704.2" r="1.2" fill="#4e4e4e"/><circle cx="498.9" cy="710.2" r="1.1" fill="#424242"/><circle cx="554.4" cy="670.7" r="1.2" fill="#656565"/><circle cx="558.0" cy="675.6" r="1.2" fill="#737373"/><circle cx="563.9" cy="700.2" r="0.8" fill="#6d6d6d"/><circle cx="542.4" cy="663.3" r="0.9" fill="#545454"/><circle cx="530.3" cy="661.4" r="0.6" fill="#4c4c4c"/><circle cx="497.1" cy="700.1" r="1.3" fill="#4a4a4a"/><circle cx="496.6" cy="711.9" r="0.7" fill="#626262"/><circle cx="540.4" cy="727.9" r="0.8" fill="#6d6d6d"/><circle cx="561.0" cy="711.1" r="0.7" fill="#6d6d6d"/><circle cx="492.9" cy="697.5" r="1.0" fill="#676767"/><circle cx="531.9" cy="660.4" r="0.9" fill="#494949"/><circle cx="516.9" cy="728.8" r="1.3" fill="#5f5f5f"/><circle cx="560.3" cy="678.9" r="1.0" fill="#474747"/><circle cx="493.7" cy="692.9" r="1.0" fill="#444444"/><circle cx="562.4" cy="689.2" r="1.2" fill="#646464"/><circle cx="525.7" cy="660.0" r="1.1" fill="#717171"/><circle cx="556.6" cy="674.3" r="1.0" fill="#505050"/><circle cx="509.3" cy="723.4" r="0.7" fill="#7d7d7d"/><circle cx="495.0" cy="690.5" r="0.6" fill="#555555"/><circle cx="502.0" cy="673.8" r="0.9" fill="#555555"/><circle cx="559.9" cy="707.5" r="1.1" fill="#404040"/><circle cx="559.1" cy="708.8" r="0.8" fill="#636363"/><circle cx="509.8" cy="726.2" r="1.0" fill="#666666"/><circle cx="496.9" cy="712.5" r="0.9" fill="#4c4c4c"/><circle cx="558.9" cy="689.4" r="0.8" fill="#5f5f5f"/><circle cx="502.0" cy="672.3" r="0.7" fill="#606060"/><circle cx="501.7" cy="681.1" r="0.7" fill="#6d6d6d"/><circle cx="523.1" cy="663.3" r="0.6" fill="#595959"/><circle cx="523.1" cy="728.1" r="1.0" fill="#545454"/><circle cx="559.9" cy="682.2" r="1.1" fill="#7a7a7a"/><circle cx="502.8" cy="677.2" r="1.2" fill="#5f5f5f"/><circle cx="540.0" cy="730.4" r="0.8" fill="#777777"/><circle cx="498.6" cy="713.7" r="1.2" fill="#404040"/><circle cx="559.6" cy="711.9" r="1.1" fill="#454545"/><circle cx="498.4" cy="684.1" r="0.8" fill="#5c5c5c"/><circle cx="563.7" cy="688.6" r="1.1" fill="#616161"/><circle cx="539.8" cy="664.6" r="0.9" fill="#5f5f5f"/><circle cx="561.8" cy="708.0" r="0.9" fill="#555555"/><circle cx="558.0" cy="677.7" r="0.6" fill="#404040"/><circle cx="496.8" cy="680.1" r="1.2" fill="#5e5e5e"/><circle cx="494.8" cy="700.9" r="0.9" fill="#646464"/><circle cx="560.4" cy="701.9" r="0.6" fill="#494949"/><circle cx="560.6" cy="708.5" r="1.0" fill="#656565"/><circle cx="501.9" cy="713.8" r="0.7" fill="#535353"/><circle cx="560.6" cy="711.8" r="1.2" fill="#434343"/><circle cx="552.4" cy="718.4" r="0.9" fill="#6a6a6a"/><circle cx="497.4" cy="688.3" r="0.8" fill="#6d6d6d"/><circle cx="503.2" cy="718.9" r="1.1" fill="#7a7a7a"/><circle cx="523.9" cy="726.9" r="1.2" fill="#505050"/><circle cx="546.4" cy="725.4" r="0.8" fill="#727272"/><circle cx="494.9" cy="694.0" r="0.9" fill="#737373"/><circle cx="501.2" cy="718.5" r="1.1" fill="#717171"/><circle cx="559.6" cy="676.7" r="1.2" fill="#474747"/><circle cx="554.1" cy="714.0" r="1.0" fill="#4c4c4c"/><circle cx="518.0" cy="728.8" r="0.9" fill="#808080"/><circle cx="509.8" cy="667.4" r="0.8" fill="#737373"/><circle cx="505.0" cy="721.4" r="0.8" fill="#4e4e4e"/><circle cx="493.7" cy="700.8" r="0.9" fill="#6e6e6e"/><circle cx="559.5" cy="684.1" r="0.7" fill="#5b5b5b"/><circle cx="530.6" cy="660.5" r="1.3" fill="#434343"/><circle cx="494.3" cy="703.9" r="1.2" fill="#454545"/><circle cx="564.0" cy="693.0" r="0.9" fill="#4d4d4d"/><circle cx="554.2" cy="707.9" r="0.8" fill="#7b7b7b"/><circle cx="560.2" cy="711.4" r="0.8" fill="#666666"/><circle cx="543.8" cy="664.6" r="1.1" fill="#434343"/><circle cx="541.9" cy="728.2" r="0.6" fill="#505050"/><circle cx="546.8" cy="664.7" r="0.7" fill="#767676"/><circle cx="556.4" cy="674.8" r="0.8" fill="#464646"/><circle cx="555.8" cy="718.9" r="1.1" fill="#595959"/><circle cx="545.4" cy="725.2" r="1.3" fill="#555555"/><circle cx="556.7" cy="678.7" r="1.1" fill="#5c5c5c"/><circle cx="519.0" cy="661.9" r="0.8" fill="#595959"/><circle cx="498.8" cy="684.9" r="0.7" fill="#777777"/><circle cx="552.2" cy="670.0" r="0.9" fill="#454545"/><circle cx="548.6" cy="724.6" r="0.7" fill="#4f4f4f"/><circle cx="557.6" cy="710.6" r="0.8" fill="#646464"/><circle cx="495.4" cy="706.8" r="1.1" fill="#5c5c5c"/><circle cx="497.5" cy="687.0" r="1.0" fill="#797979"/><circle cx="559.2" cy="678.3" r="0.8" fill="#606060"/><circle cx="502.6" cy="717.7" r="1.1" fill="#808080"/><circle cx="504.7" cy="721.7" r="0.9" fill="#505050"/><circle cx="560.8" cy="684.7" r="1.0" fill="#717171"/><circle cx="512.5" cy="664.9" r="0.8" fill="#5d5d5d"/><circle cx="564.2" cy="699.4" r="0.8" fill="#585858"/><circle cx="546.4" cy="665.9" r="1.1" fill="#7f7f7f"/><circle cx="547.2" cy="667.2" r="1.2" fill="#737373"/><circle cx="516.1" cy="729.1" r="1.3" fill="#7c7c7c"/><circle cx="501.9" cy="717.4" r="0.8" fill="#4d4d4d"/><circle cx="503.4" cy="671.9" r="1.0" fill="#5c5c5c"/><circle cx="496.7" cy="707.0" r="0.8" fill="#5e5e5e"/><circle cx="514.4" cy="727.9" r="0.7" fill="#707070"/></g>
<defs><clipPath id="c5"><circle cx="617.8" cy="695.3" r="38.3"/></clipPath><radialGradient id="g5"><stop offset="0" stop-color="#e4e4e4"/><stop offset="0.8" stop-color="#dcdcdc"/><stop offset="1" stop-color="#d0d0d0"/></radialGradient></defs>
<rect x="577.20" y="652.60" width="80.70" height="84.00" fill="#cecece"/>
<circle cx="617.8" cy="695.3" r="39.5" fill="url(#g5)" stroke="#7e7e7e" stroke-width="1.4"/>
<circle cx="617.8" cy="695.3" r="35.5" fill="none" stroke="#000" stroke-opacity="0.09" stroke-width="5"/>
<circle cx="617.8" cy="695.3" r="37.7" fill="none" stroke="#b0b0b0" stroke-width="0.8"/>
<g clip-path="url(#c5)" filter="url(#soft)"><circle cx="595.0" cy="673.1" r="0.9" fill="#afafaf"/><circle cx="602.2" cy="673.3" r="0.9" fill="#8f8f8f"/><circle cx="597.0" cy="667.0" r="0.6" fill="#9e9e9e"/><circle cx="633.3" cy="678.5" r="0.6" fill="#8f8f8f"/><circle cx="635.0" cy="696.7" r="0.6" fill="#989898"/><circle cx="635.6" cy="723.1" r="0.6" fill="#a7a7a7"/><circle cx="605.1" cy="699.9" r="1.0" fill="#808080"/><circle cx="622.1" cy="711.9" r="1.0" fill="#8a8a8a"/><circle cx="608.9" cy="730.5" r="0.8" fill="#ababab"/><circle cx="606.7" cy="684.1" r="1.0" fill="#8c8c8c"/><circle cx="652.0" cy="688.0" r="0.6" fill="#979797"/><circle cx="587.0" cy="713.5" r="0.6" fill="#959595"/><circle cx="608.7" cy="722.6" r="0.5" fill="#ababab"/><circle cx="615.3" cy="686.1" r="0.7" fill="#939393"/><circle cx="597.2" cy="697.8" r="0.7" fill="#adadad"/><circle cx="626.2" cy="712.0" r="1.0" fill="#afafaf"/><circle cx="603.1" cy="713.6" r="0.8" fill="#9a9a9a"/><circle cx="599.0" cy="716.3" r="0.5" fill="#828282"/><circle cx="610.1" cy="667.1" r="1.0" fill="#878787"/><circle cx="619.1" cy="659.6" r="1.0" fill="#969696"/><circle cx="582.9" cy="692.6" r="0.6" fill="#9d9d9d"/><circle cx="642.7" cy="715.4" r="0.9" fill="#929292"/><circle cx="652.8" cy="703.5" r="0.5" fill="#959595"/><circle cx="595.6" cy="693.5" r="0.6" fill="#919191"/><circle cx="642.1" cy="682.8" r="0.7" fill="#949494"/><circle cx="606.4" cy="726.3" r="0.8" fill="#aeaeae"/><circle cx="604.0" cy="661.0" r="0.6" fill="#838383"/><circle cx="642.8" cy="709.3" r="1.0" fill="#828282"/><circle cx="620.1" cy="723.7" r="0.9" fill="#9d9d9d"/><circle cx="609.6" cy="683.8" r="1.0" fill="#a8a8a8"/><circle cx="643.2" cy="700.6" r="0.9" fill="#888888"/><circle cx="645.4" cy="692.0" r="0.6" fill="#9a9a9a"/><circle cx="636.9" cy="710.4" r="0.6" fill="#9a9a9a"/><circle cx="610.9" cy="719.2" r="1.0" fill="#8a8a8a"/><circle cx="642.4" cy="691.6" r="0.7" fill="#aeaeae"/><circle cx="609.8" cy="712.9" r="0.7" fill="#898989"/><circle cx="643.3" cy="717.1" r="0.8" fill="#8b8b8b"/><circle cx="599.5" cy="676.6" r="0.7" fill="#858585"/><circle cx="591.3" cy="696.7" r="0.8" fill="#a0a0a0"/><circle cx="596.7" cy="720.4" r="0.9" fill="#acacac"/><circle cx="612.0" cy="691.7" r="0.7" fill="#a3a3a3"/><circle cx="612.3" cy="676.5" r="0.7" fill="#acacac"/><circle cx="610.1" cy="659.9" r="0.7" fill="#8b8b8b"/><circle cx="614.3" cy="693.4" r="0.8" fill="#909090"/><circle cx="608.9" cy="712.5" r="0.6" fill="#a0a0a0"/><circle cx="597.9" cy="668.9" r="0.7" fill="#a9a9a9"/><circle cx="597.6" cy="724.9" r="0.7" fill="#8b8b8b"/><circle cx="638.8" cy="672.9" r="1.0" fill="#959595"/><circle cx="591.1" cy="692.2" r="0.6" fill="#979797"/><circle cx="641.4" cy="685.5" r="0.8" fill="#aeaeae"/><circle cx="606.4" cy="674.3" r="0.8" fill="#a5a5a5"/><circle cx="582.2" cy="691.6" r="0.7" fill="#a3a3a3"/><circle cx="622.4" cy="666.1" r="0.9" fill="#818181"/><circle cx="627.3" cy="722.0" r="0.8" fill="#8b8b8b"/><circle cx="623.7" cy="725.4" r="0.8" fill="#828282"/><circle cx="654.3" cy="692.2" r="0.6" fill="#888888"/><circle cx="645.7" cy="718.6" r="0.7" fill="#a3a3a3"/><circle cx="642.4" cy="700.9" r="0.7" fill="#a7a7a7"/><circle cx="632.8" cy="702.6" r="0.9" fill="#979797"/><circle cx="641.4" cy="695.4" r="0.6" fill="#9a9a9a"/><circle cx="638.3" cy="672.4" r="0.8" fill="#828282"/><circle cx="598.5" cy="689.0" r="0.6" fill="#a0a0a0"/><circle cx="602.8" cy="719.2" r="1.0" fill="#888888"/><circle cx="588.7" cy="711.5" r="0.8" fill="#979797"/><circle cx="603.5" cy="698.3" r="0.7" fill="#9e9e9e"/><circle cx="652.9" cy="685.6" r="0.8" fill="#969696"/><circle cx="630.8" cy="668.2" r="0.7" fill="#949494"/><circle cx="591.2" cy="683.6" r="0.6" fill="#a8a8a8"/><circle cx="637.6" cy="675.8" r="0.7" fill="#8e8e8e"/><circle cx="592.2" cy="696.4" r="0.9" fill="#989898"/><circle cx="652.1" cy="686.7" r="0.8" fill="#909090"/><circle cx="616.7" cy="675.0" r="0.6" fill="#818181"/><circle cx="602.3" cy="728.6" r="0.7" fill="#929292"/><circle cx="621.3" cy="699.8" r="0.8" fill="#9c9c9c"/><circle cx="618.0" cy="702.7" r="0.6" fill="#999999"/><circle cx="644.7" cy="697.5" r="0.6" fill="#9e9e9e"/><circle cx="621.5" cy="677.3" r="0.6" fill="#898989"/><circle cx="614.3" cy="675.8" r="0.7" fill="#9e9e9e"/><circle cx="583.6" cy="691.4" r="0.9" fill="#878787"/><circle cx="630.9" cy="696.6" r="0.6" fill="#adadad"/><circle cx="607.4" cy="712.6" r="0.8" fill="#9d9d9d"/><circle cx="599.9" cy="720.0" r="0.9" fill="#888888"/><circle cx="635.9" cy="699.5" r="0.7" fill="#868686"/><circle cx="638.6" cy="677.6" r="0.5" fill="#9b9b9b"/><circle cx="592.4" cy="678.1" r="1.0" fill="#a9a9a9"/><circle cx="582.7" cy="699.3" r="0.7" fill="#999999"/><circle cx="604.9" cy="666.7" r="0.9" fill="#9d9d9d"/><circle cx="622.4" cy="687.0" r="0.9" fill="#acacac"/><circle cx="622.9" cy="667.5" r="0.8" fill="#9e9e9e"/><circle cx="629.6" cy="687.9" r="0.7" fill="#a3a3a3"/><circle cx="645.7" cy="671.8" r="0.8" fill="#9b9b9b"/><circle cx="589.2" cy="678.2" r="0.5" fill="#8e8e8e"/><circle cx="616.6" cy="706.0" r="0.5" fill="#818181"/><circle cx="605.7" cy="716.3" r="0.5" fill="#999999"/><circle cx="615.3" cy="687.5" r="0.9" fill="#8e8e8e"/><circle cx="592.5" cy="673.2" r="0.6" fill="#888888"/><circle cx="648.9" cy="694.1" r="0.7" fill="#8b8b8b"/><circle cx="599.5" cy="680.1" r="0.6" fill="#a7a7a7"/><circle cx="624.1" cy="722.1" r="0.8" fill="#afafaf"/><circle cx="625.8" cy="699.2" r="0.8" fill="#afafaf"/><circle cx="594.3" cy="712.7" r="0.5" fill="#858585"/><circle cx="606.5" cy="721.6" r="0.7" fill="#a9a9a9"/><circle cx="611.7" cy="701.5" r="0.8" fill="#898989"/><circle cx="590.1" cy="682.6" r="0.6" fill="#a3a3a3"/><circle cx="601.3" cy="689.9" r="0.5" fill="#8f8f8f"/><circle cx="617.0" cy="727.3" r="0.8" fill="#888888"/><circle cx="630.1" cy="663.2" r="0.7" fill="#989898"/><circle cx="631.2" cy="723.5" r="0.8" fill="#858585"/><circle cx="611.5" cy="692.2" r="0.9" fill="#a0a0a0"/><circle cx="602.8" cy="685.2" r="0.9" fill="#9e9e9e"/><circle cx="629.6" cy="692.5" r="0.8" fill="#a2a2a2"/><circle cx="616.5" cy="686.8" r="0.6" fill="#9b9b9b"/><circle cx="610.5" cy="679.4" r="0.6" fill="#aaaaaa"/><circle cx="600.8" cy="696.2" r="0.9" fill="#989898"/><circle cx="606.9" cy="709.5" r="0.7" fill="#a7a7a7"/><circle cx="608.7" cy="663.6" r="0.7" fill="#aeaeae"/><circle cx="632.3" cy="669.3" r="0.9" fill="#9b9b9b"/><circle cx="639.4" cy="689.9" r="0.5" fill="#a4a4a4"/><circle cx="621.2" cy="710.6" r="0.5" fill="#828282"/><circle cx="634.1" cy="698.7" r="0.5" fill="#9e9e9e"/><circle cx="606.2" cy="676.8" r="0.7" fill="#939393"/><circle cx="640.2" cy="676.7" r="0.7" fill="#9d9d9d"/><circle cx="602.1" cy="699.1" r="0.8" fill="#848484"/><circle cx="601.6" cy="711.6" r="0.9" fill="#898989"/><circle cx="606.2" cy="691.4" r="0.9" fill="#b0b0b0"/><circle cx="613.7" cy="712.8" r="0.7" fill="#828282"/><circle cx="599.9" cy="721.9" r="0.7" fill="#838383"/><circle cx="606.2" cy="667.2" r="0.7" fill="#898989"/><circle cx="640.1" cy="715.7" r="0.6" fill="#ababab"/><circle cx="620.1" cy="732.1" r="0.5" fill="#adadad"/><circle cx="635.3" cy="698.1" r="0.5" fill="#999999"/><circle cx="644.2" cy="678.9" r="0.8" fill="#8b8b8b"/><circle cx="598.5" cy="699.2" r="0.9" fill="#adadad"/><circle cx="585.9" cy="701.8" r="0.6" fill="#8d8d8d"/><circle cx="645.5" cy="684.4" r="0.7" fill="#919191"/><circle cx="626.9" cy="695.7" r="0.9" fill="#9a9a9a"/><circle cx="621.1" cy="701.2" r="0.9" fill="#a1a1a1"/><circle cx="584.9" cy="681.0" r="0.9" fill="#8f8f8f"/><circle cx="638.7" cy="679.9" r="1.0" fill="#838383"/><circle cx="605.6" cy="668.2" r="0.7" fill="#838383"/><circle cx="650.1" cy="705.3" r="0.7" fill="#a8a8a8"/><circle cx="624.6" cy="697.6" r="1.0" fill="#8b8b8b"/><circle cx="607.9" cy="667.4" r="0.6" fill="#8e8e8e"/><circle cx="635.7" cy="705.8" r="0.6" fill="#a2a2a2"/><circle cx="632.6" cy="693.9" r="0.5" fill="#aeaeae"/><circle cx="618.9" cy="700.1" r="0.8" fill="#9f9f9f"/><circle cx="589.1" cy="710.4" r="0.8" fill="#888888"/><circle cx="612.4" cy="660.4" r="0.7" fill="#9c9c9c"/><circle cx="646.5" cy="672.0" r="0.8" fill="#888888"/><circle cx="613.7" cy="705.4" r="0.9" fill="#999999"/><circle cx="612.7" cy="707.6" r="0.5" fill="#8f8f8f"/><circle cx="607.0" cy="664.0" r="1.0" fill="#aaaaaa"/><circle cx="618.1" cy="704.5" r="0.9" fill="#838383"/><circle cx="608.3" cy="663.7" r="0.9" fill="#868686"/><circle cx="647.0" cy="709.5" r="0.7" fill="#a3a3a3"/><circle cx="637.6" cy="695.3" r="1.0" fill="#888888"/><circle cx="595.9" cy="684.2" r="0.9" fill="#a9a9a9"/><circle cx="618.8" cy="690.3" r="0.5" fill="#9b9b9b"/><circle cx="614.1" cy="728.4" r="0.7" fill="#888888"/><circle cx="608.9" cy="713.8" r="0.6" fill="#9f9f9f"/><circle cx="608.9" cy="677.6" r="0.5" fill="#b0b0b0"/><circle cx="617.4" cy="689.1" r="0.6" fill="#888888"/><circle cx="629.1" cy="673.6" r="0.6" fill="#a7a7a7"/><circle cx="644.5" cy="698.1" r="0.6" fill="#8c8c8c"/><circle cx="615.8" cy="698.9" r="0.8" fill="#8a8a8a"/><circle cx="616.1" cy="684.0" r="0.8" fill="#8a8a8a"/><circle cx="608.2" cy="685.0" r="0.9" fill="#9b9b9b"/><circle cx="621.3" cy="683.1" r="0.7" fill="#8e8e8e"/><circle cx="594.1" cy="701.2" r="0.7" fill="#aaaaaa"/><circle cx="642.7" cy="684.8" r="1.0" fill="#a6a6a6"/><circle cx="631.0" cy="695.4" r="0.9" fill="#ababab"/><circle cx="652.4" cy="707.1" r="0.5" fill="#a4a4a4"/><circle cx="620.6" cy="726.2" r="0.7" fill="#9d9d9d"/><circle cx="622.0" cy="714.3" r="0.6" fill="#a3a3a3"/><circle cx="585.6" cy="692.1" r="0.9" fill="#979797"/><circle cx="606.8" cy="710.1" r="1.0" fill="#838383"/><circle cx="600.5" cy="679.5" r="0.6" fill="#8f8f8f"/><circle cx="610.6" cy="695.7" r="0.6" fill="#868686"/><circle cx="618.2" cy="675.7" r="1.0" fill="#b0b0b0"/><circle cx="604.1" cy="722.6" r="0.9" fill="#a7a7a7"/><circle cx="631.7" cy="704.2" r="0.8" fill="#868686"/><circle cx="589.5" cy="693.2" r="0.6" fill="#989898"/><circle cx="648.0" cy="699.5" r="0.8" fill="#a0a0a0"/><circle cx="598.9" cy="712.4" r="0.9" fill="#999999"/><circle cx="586.6" cy="705.5" r="0.8" fill="#acacac"/><circle cx="609.2" cy="692.1" r="0.6" fill="#9a9a9a"/><circle cx="599.2" cy="716.9" r="0.8" fill="#a1a1a1"/><circle cx="623.1" cy="714.4" r="0.5" fill="#969696"/><circle cx="591.4" cy="673.3" r="1.0" fill="#9a9a9a"/><circle cx="605.3" cy="728.7" r="0.6" fill="#adadad"/><circle cx="618.5" cy="702.5" r="0.5" fill="#939393"/><circle cx="642.3" cy="676.8" r="0.9" fill="#afafaf"/><circle cx="596.0" cy="678.2" r="0.7" fill="#858585"/><circle cx="632.2" cy="684.3" r="1.0" fill="#a2a2a2"/><circle cx="585.5" cy="712.1" r="0.8" fill="#989898"/><circle cx="630.8" cy="722.2" r="0.9" fill="#ababab"/><circle cx="600.4" cy="680.2" r="0.6" fill="#acacac"/><circle cx="641.4" cy="675.6" r="1.0" fill="#8f8f8f"/><circle cx="630.7" cy="684.2" r="0.7" fill="#919191"/><circle cx="620.8" cy="685.4" r="1.0" fill="#848484"/><circle cx="596.0" cy="671.3" r="0.6" fill="#848484"/><circle cx="591.3" cy="682.8" r="0.8" fill="#a2a2a2"/><circle cx="614.5" cy="671.6" r="0.7" fill="#a1a1a1"/><circle cx="602.8" cy="684.9" r="0.7" fill="#858585"/><circle cx="589.1" cy="672.9" r="0.6" fill="#818181"/><circle cx="629.7" cy="711.5" r="0.8" fill="#a4a4a4"/><circle cx="624.3" cy="710.1" r="0.8" fill="#a9a9a9"/><circle cx="622.7" cy="674.6" r="0.5" fill="#9f9f9f"/><circle cx="635.1" cy="715.6" r="0.5" fill="#8c8c8c"/><circle cx="635.3" cy="671.3" r="1.0" fill="#8e8e8e"/><circle cx="640.6" cy="677.3" r="0.9" fill="#868686"/><circle cx="648.1" cy="695.6" r="0.6" fill="#959595"/><circle cx="634.6" cy="719.0" r="0.6" fill="#b0b0b0"/><circle cx="598.2" cy="702.9" r="0.9" fill="#8b8b8b"/><circle cx="609.6" cy="660.7" r="1.0" fill="#a8a8a8"/><circle cx="641.3" cy="670.0" r="0.7" fill="#848484"/><circle cx="624.9" cy="715.1" r="0.6" fill="#ababab"/><circle cx="650.1" cy="692.8" r="0.6" fill="#a2a2a2"/><circle cx="615.1" cy="695.9" r="1.0" fill="#979797"/><circle cx="619.2" cy="696.9" r="0.7" fill="#959595"/><circle cx="627.2" cy="691.9" r="0.9" fill="#aeaeae"/><circle cx="616.7" cy="690.8" r="0.9" fill="#969696"/><circle cx="617.9" cy="678.9" r="0.7" fill="#898989"/><circle cx="611.2" cy="720.6" r="0.8" fill="#858585"/><circle cx="599.9" cy="686.1" r="0.7" fill="#848484"/><circle cx="609.6" cy="694.3" r="0.7" fill="#8f8f8f"/><circle cx="613.7" cy="726.4" r="0.6" fill="#868686"/><circle cx="594.8" cy="687.3" r="0.6" fill="#989898"/><circle cx="629.1" cy="680.9" r="0.7" fill="#888888"/><circle cx="618.8" cy="692.8" r="0.9" fill="#979797"/><circle cx="619.8" cy="690.3" r="0.8" fill="#989898"/><circle cx="624.8" cy="687.7" r="1.0" fill="#8c8c8c"/><circle cx="642.1" cy="691.3" r="0.7" fill="#858585"/><circle cx="645.3" cy="687.5" r="0.9" fill="#9e9e9e"/><circle cx="609.3" cy="694.9" r="0.7" fill="#a0a0a0"/><circle cx="591.7" cy="706.7" r="1.0" fill="#a9a9a9"/><circle cx="596.9" cy="676.1" r="0.6" fill="#9a9a9a"/><circle cx="620.7" cy="671.7" r="0.9" fill="#9b9b9b"/><circle cx="637.4" cy="683.8" r="1.0" fill="#b0b0b0"/><circle cx="628.6" cy="713.9" r="0.7" fill="#8c8c8c"/><circle cx="585.6" cy="712.4" r="1.0" fill="#8d8d8d"/><circle cx="605.1" cy="705.3" r="0.6" fill="#979797"/><circle cx="610.9" cy="724.7" r="0.6" fill="#8a8a8a"/><circle cx="618.3" cy="685.1" r="0.8" fill="#828282"/><circle cx="645.6" cy="674.4" r="0.6" fill="#818181"/><circle cx="617.4" cy="669.3" r="0.7" fill="#9d9d9d"/><circle cx="629.6" cy="708.9" r="1.0" fill="#a7a7a7"/><circle cx="633.4" cy="698.4" r="0.7" fill="#919191"/><circle cx="638.1" cy="717.3" r="0.7" fill="#8d8d8d"/><circle cx="633.2" cy="717.0" r="1.0" fill="#acacac"/><circle cx="599.4" cy="688.3" r="0.6" fill="#999999"/><circle cx="601.9" cy="711.2" r="0.7" fill="#a5a5a5"/><circle cx="585.4" cy="707.3" r="1.0" fill="#888888"/><circle cx="615.6" cy="722.5" r="0.9" fill="#888888"/><circle cx="620.2" cy="725.4" r="0.5" fill="#808080"/><circle cx="621.0" cy="671.6" r="0.8" fill="#a7a7a7"/><circle cx="619.6" cy="715.7" r="0.9" fill="#8f8f8f"/><circle cx="640.1" cy="700.8" r="0.7" fill="#818181"/><circle cx="594.9" cy="686.6" r="0.6" fill="#878787"/><circle cx="637.9" cy="685.0" r="0.8" fill="#adadad"/><circle cx="593.1" cy="681.1" r="0.7" fill="#989898"/><circle cx="613.0" cy="709.6" r="1.0" fill="#848484"/><circle cx="612.5" cy="688.4" r="0.6" fill="#a7a7a7"/><circle cx="590.6" cy="718.2" r="0.6" fill="#a3a3a3"/><circle cx="601.3" cy="712.2" r="0.7" fill="#848484"/><circle cx="590.0" cy="696.3" r="0.6" fill="#9d9d9d"/><circle cx="648.6" cy="703.7" r="0.6" fill="#898989"/><circle cx="602.6" cy="710.7" r="0.9" fill="#9e9e9e"/><circle cx="624.5" cy="664.2" r="0.6" fill="#818181"/><circle cx="601.6" cy="678.9" r="0.8" fill="#8f8f8f"/><circle cx="609.3" cy="668.1" r="0.9" fill="#8b8b8b"/><circle cx="594.7" cy="679.8" r="1.0" fill="#969696"/><circle cx="614.4" cy="693.9" r="0.5" fill="#a7a7a7"/><circle cx="583.3" cy="696.5" r="0.5" fill="#a5a5a5"/><circle cx="597.6" cy="707.9" r="0.8" fill="#9c9c9c"/><circle cx="604.5" cy="684.0" r="1.0" fill="#878787"/><circle cx="609.2" cy="665.1" r="0.8" fill="#828282"/><circle cx="640.7" cy="705.5" r="0.8" fill="#a2a2a2"/><circle cx="616.0" cy="685.7" r="0.8" fill="#919191"/><circle cx="641.2" cy="717.4" r="0.6" fill="#939393"/><circle cx="607.3" cy="728.4" r="0.7" fill="#aaaaaa"/><circle cx="638.4" cy="680.7" r="0.6" fill="#8d8d8d"/><circle cx="637.3" cy="688.1" r="0.8" fill="#9d9d9d"/><circle cx="636.5" cy="706.9" r="0.5" fill="#9b9b9b"/><circle cx="593.2" cy="705.5" r="0.7" fill="#8c8c8c"/><circle cx="634.5" cy="715.2" r="0.8" fill="#9c9c9c"/><circle cx="637.7" cy="686.7" r="0.5" fill="#9b9b9b"/><circle cx="614.9" cy="721.1" r="0.8" fill="#8d8d8d"/><circle cx="589.5" cy="685.0" r="0.7" fill="#909090"/><circle cx="628.1" cy="678.1" r="0.6" fill="#909090"/><circle cx="587.4" cy="710.7" r="0.8" fill="#9f9f9f"/><circle cx="597.4" cy="673.8" r="1.0" fill="#878787"/><circle cx="613.2" cy="683.9" r="0.5" fill="#a8a8a8"/><circle cx="610.9" cy="726.7" r="0.6" fill="#a2a2a2"/><circle cx="595.8" cy="714.9" r="0.9" fill="#909090"/><circle cx="645.5" cy="715.4" r="0.9" fill="#939393"/><circle cx="646.6" cy="707.6" r="0.7" fill="#9a9a9a"/><circle cx="636.6" cy="703.1" r="0.6" fill="#868686"/><circle cx="626.6" cy="661.4" r="0.8" fill="#868686"/><circle cx="608.2" cy="697.7" r="0.7" fill="#a4a4a4"/><circle cx="588.9" cy="687.7" r="0.8" fill="#949494"/><circle cx="650.7" cy="680.6" r="0.7" fill="#868686"/><circle cx="626.6" cy="711.4" r="0.8" fill="#868686"/><circle cx="649.6" cy="713.8" r="0.8" fill="#9b9b9b"/><circle cx="633.2" cy="708.8" r="0.7" fill="#9b9b9b"/><circle cx="651.5" cy="703.8" r="1.0" fill="#888888"/><circle cx="596.1" cy="715.2" r="1.0" fill="#949494"/><circle cx="640.7" cy="674.1" r="0.5" fill="#939393"/><circle cx="651.6" cy="707.1" r="0.7" fill="#9c9c9c"/><circle cx="586.6" cy="684.5" r="0.8" fill="#909090"/><circle cx="611.0" cy="726.5" r="0.6" fill="#9e9e9e"/><circle cx="592.1" cy="713.0" r="0.5" fill="#a6a6a6"/><circle cx="626.8" cy="724.8" r="0.9" fill="#868686"/><circle cx="601.0" cy="701.3" r="0.6" fill="#a9a9a9"/><circle cx="638.7" cy="708.5" r="0.8" fill="#ababab"/><circle cx="633.8" cy="721.7" r="0.6" fill="#a5a5a5"/><circle cx="639.8" cy="675.9" r="0.8" fill="#a2a2a2"/><circle cx="615.4" cy="682.6" r="0.9" fill="#959595"/><circle cx="595.1" cy="683.3" r="0.9" fill="#a1a1a1"/><circle cx="635.0" cy="685.8" r="0.7" fill="#929292"/><circle cx="633.9" cy="713.1" r="0.7" fill="#888888"/><circle cx="613.8" cy="711.1" r="1.0" fill="#828282"/><circle cx="653.7" cy="695.5" r="0.7" fill="#9a9a9a"/><circle cx="605.1" cy="674.9" r="0.9" fill="#ababab"/><circle cx="583.5" cy="703.9" r="0.8" fill="#949494"/><circle cx="610.9" cy="667.1" r="0.9" fill="#8a8a8a"/><circle cx="591.3" cy="681.4" r="0.8" fill="#9e9e9e"/><circle cx="622.4" cy="661.8" r="0.5" fill="#a2a2a2"/><circle cx="654.3" cy="695.8" r="0.9" fill="#8a8a8a"/><circle cx="651.5" cy="689.8" r="0.6" fill="#999999"/><circle cx="604.4" cy="676.6" r="0.8" fill="#8e8e8e"/><circle cx="596.2" cy="667.2" r="0.6" fill="#8f8f8f"/><circle cx="590.0" cy="679.7" r="0.8" fill="#9b9b9b"/><circle cx="602.6" cy="686.7" r="0.5" fill="#a3a3a3"/><circle cx="591.4" cy="676.9" r="0.7" fill="#ababab"/><circle cx="612.7" cy="660.7" r="0.8" fill="#808080"/><circle cx="623.1" cy="702.4" r="0.5" fill="#8c8c8c"/><circle cx="637.5" cy="710.8" r="0.7" fill="#9e9e9e"/><circle cx="591.4" cy="699.2" r="0.5" fill="#acacac"/><circle cx="621.0" cy="666.3" r="0.9" fill="#a7a7a7"/><circle cx="589.8" cy="673.8" r="0.9" fill="#8d8d8d"/><circle cx="652.3" cy="699.7" r="1.0" fill="#8c8c8c"/><circle cx="648.1" cy="689.2" r="0.6" fill="#a2a2a2"/><circle cx="610.3" cy="703.4" r="0.6" fill="#808080"/><circle cx="626.5" cy="697.2" r="0.6" fill="#989898"/><circle cx="592.6" cy="715.8" r="0.6" fill="#989898"/><circle cx="611.4" cy="679.3" r="0.7" fill="#9c9c9c"/><circle cx="639.6" cy="724.3" r="0.6" fill="#a1a1a1"/><circle cx="621.2" cy="664.7" r="0.9" fill="#ababab"/><circle cx="616.6" cy="706.5" r="0.6" fill="#9b9b9b"/><circle cx="624.2" cy="672.3" r="0.8" fill="#aaaaaa"/><circle cx="586.6" cy="682.8" r="0.9" fill="#aeaeae"/><circle cx="625.5" cy="715.0" r="0.6" fill="#ababab"/><circle cx="623.1" cy="689.4" r="0.9" fill="#8a8a8a"/><circle cx="610.2" cy="703.8" r="0.8" fill="#979797"/><circle cx="629.5" cy="668.4" r="0.6" fill="#a2a2a2"/><circle cx="632.1" cy="714.7" r="0.6" fill="#808080"/><circle cx="610.1" cy="671.2" r="0.9" fill="#949494"/><circle cx="612.7" cy="660.9" r="0.7" fill="#979797"/><circle cx="626.7" cy="695.7" r="0.8" fill="#b0b0b0"/><circle cx="632.1" cy="682.8" r="0.8" fill="#959595"/><circle cx="596.7" cy="678.3" r="0.6" fill="#9b9b9b"/><circle cx="583.7" cy="682.1" r="0.5" fill="#9e9e9e"/><circle cx="608.5" cy="727.4" r="0.5" fill="#a2a2a2"/><circle cx="607.2" cy="696.4" r="0.8" fill="#949494"/><circle cx="644.0" cy="713.0" r="0.7" fill="#949494"/><circle cx="598.7" cy="721.5" r="0.5" fill="#a8a8a8"/><circle cx="612.1" cy="683.6" r="0.8" fill="#858585"/><circle cx="621.0" cy="660.9" r="0.8" fill="#858585"/><circle cx="643.4" cy="702.0" r="0.7" fill="#9c9c9c"/><circle cx="609.8" cy="718.0" r="0.8" fill="#a4a4a4"/><circle cx="645.2" cy="708.4" r="0.6" fill="#929292"/><circle cx="631.7" cy="670.5" r="0.5" fill="#989898"/><circle cx="614.8" cy="706.4" r="0.7" fill="#9b9b9b"/><circle cx="636.2" cy="706.7" r="0.6" fill="#ababab"/><circle cx="634.6" cy="708.1" r="0.9" fill="#9f9f9f"/><circle cx="603.4" cy="722.3" r="0.7" fill="#838383"/><circle cx="588.9" cy="675.7" r="0.7" fill="#9d9d9d"/><circle cx="629.3" cy="671.7" r="0.7" fill="#a0a0a0"/><circle cx="639.8" cy="710.0" r="0.9" fill="#9a9a9a"/><circle cx="601.8" cy="671.1" r="0.7" fill="#9b9b9b"/><circle cx="624.4" cy="701.8" r="0.7" fill="#828282"/><circle cx="610.1" cy="716.3" r="0.8" fill="#a5a5a5"/><circle cx="620.6" cy="697.5" r="0.6" fill="#939393"/><circle cx="629.6" cy="698.4" r="0.9" fill="#838383"/><circle cx="627.4" cy="699.6" r="0.8" fill="#929292"/><circle cx="601.6" cy="702.7" r="0.7" fill="#929292"/><circle cx="629.0" cy="713.4" r="0.8" fill="#a0a0a0"/><circle cx="596.4" cy="686.2" r="0.7" fill="#9d9d9d"/><circle cx="626.8" cy="682.6" r="0.7" fill="#949494"/><circle cx="624.2" cy="686.4" r="0.7" fill="#919191"/><circle cx="595.3" cy="719.1" r="1.0" fill="#878787"/><circle cx="591.4" cy="717.1" r="1.0" fill="#888888"/><circle cx="638.2" cy="721.4" r="0.8" fill="#969696"/><circle cx="615.1" cy="710.5" r="0.7" fill="#ababab"/><circle cx="602.5" cy="706.1" r="0.8" fill="#9b9b9b"/><circle cx="640.3" cy="681.2" r="0.6" fill="#989898"/><circle cx="650.4" cy="702.7" r="0.8" fill="#8f8f8f"/><circle cx="605.3" cy="663.0" r="0.8" fill="#818181"/><circle cx="644.3" cy="676.3" r="0.7" fill="#959595"/><circle cx="606.5" cy="713.9" r="0.9" fill="#808080"/><circle cx="642.9" cy="702.7" r="0.6" fill="#a1a1a1"/><circle cx="627.7" cy="729.4" r="1.0" fill="#959595"/><circle cx="621.9" cy="678.4" r="0.7" fill="#828282"/><circle cx="607.6" cy="664.7" r="0.6" fill="#acacac"/><circle cx="610.8" cy="712.3" r="0.5" fill="#878787"/><circle cx="622.7" cy="660.6" r="0.8" fill="#969696"/><circle cx="621.6" cy="677.0" r="0.6" fill="#919191"/><circle cx="609.8" cy="717.0" r="0.6" fill="#9f9f9f"/><circle cx="634.9" cy="667.8" r="0.7" fill="#8e8e8e"/><circle cx="636.5" cy="669.8" r="0.9" fill="#a3a3a3"/><circle cx="623.8" cy="724.9" r="0.5" fill="#9f9f9f"/><circle cx="636.2" cy="699.6" r="0.7" fill="#878787"/><circle cx="615.9" cy="659.8" r="0.7" fill="#8f8f8f"/><circle cx="642.7" cy="688.4" r="0.9" fill="#afafaf"/><circle cx="653.8" cy="695.7" r="0.8" fill="#969696"/><circle cx="605.7" cy="722.2" r="0.9" fill="#a5a5a5"/><circle cx="613.8" cy="709.0" r="0.5" fill="#a5a5a5"/><circle cx="629.0" cy="728.8" r="0.8" fill="#858585"/><circle cx="620.1" cy="711.9" r="0.8" fill="#a5a5a5"/><circle cx="624.6" cy="728.5" r="0.7" fill="#787878"/><circle cx="629.0" cy="689.2" r="1.0" fill="#757575"/><circle cx="632.8" cy="671.0" r="0.7" fill="#646464"/><circle cx="596.6" cy="673.0" r="0.6" fill="#535353"/><circle cx="589.8" cy="677.6" r="1.0" fill="#737373"/><circle cx="616.7" cy="673.5" r="0.9" fill="#696969"/><circle cx="622.2" cy="695.1" r="0.6" fill="#525252"/><circle cx="594.2" cy="676.9" r="0.8" fill="#595959"/><circle cx="635.8" cy="666.3" r="1.0" fill="#5d5d5d"/><circle cx="634.3" cy="713.7" r="0.9" fill="#545454"/><circle cx="616.3" cy="666.4" r="1.1" fill="#676767"/><circle cx="629.3" cy="720.1" r="0.7" fill="#757575"/><circle cx="630.2" cy="715.2" r="1.1" fill="#4d4d4d"/><circle cx="604.6" cy="679.4" r="0.7" fill="#575757"/><circle cx="635.3" cy="697.6" r="0.8" fill="#606060"/><circle cx="600.3" cy="702.0" r="0.9" fill="#676767"/><circle cx="641.2" cy="692.2" r="1.1" fill="#666666"/><circle cx="626.3" cy="691.8" r="1.2" fill="#616161"/><circle cx="611.9" cy="690.2" r="0.9" fill="#727272"/><circle cx="616.4" cy="721.5" r="0.7" fill="#636363"/><circle cx="596.2" cy="675.9" r="1.0" fill="#606060"/><circle cx="609.6" cy="665.2" r="1.0" fill="#565656"/><circle cx="587.8" cy="682.1" r="1.0" fill="#5a5a5a"/><circle cx="618.3" cy="677.7" r="0.9" fill="#696969"/><circle cx="627.0" cy="682.8" r="1.1" fill="#666666"/><circle cx="640.7" cy="686.2" r="0.9" fill="#575757"/><circle cx="603.8" cy="723.3" r="1.2" fill="#4d4d4d"/><circle cx="635.5" cy="712.5" r="0.9" fill="#717171"/><circle cx="626.2" cy="662.0" r="0.7" fill="#676767"/><circle cx="608.0" cy="666.4" r="0.7" fill="#4f4f4f"/><circle cx="628.8" cy="663.5" r="0.6" fill="#636363"/><circle cx="603.0" cy="701.0" r="0.7" fill="#494949"/><circle cx="601.5" cy="723.4" r="0.9" fill="#727272"/><circle cx="585.9" cy="691.3" r="0.8" fill="#565656"/><circle cx="643.3" cy="690.5" r="0.9" fill="#727272"/><circle cx="634.3" cy="682.3" r="1.1" fill="#6d6d6d"/><circle cx="606.9" cy="719.1" r="0.6" fill="#545454"/><circle cx="600.0" cy="689.7" r="1.2" fill="#565656"/><circle cx="624.7" cy="678.5" r="1.0" fill="#6c6c6c"/><circle cx="582.3" cy="696.1" r="0.7" fill="#626262"/><circle cx="616.5" cy="717.6" r="0.6" fill="#4f4f4f"/><circle cx="622.4" cy="677.9" r="0.8" fill="#575757"/><circle cx="638.4" cy="687.4" r="0.7" fill="#5a5a5a"/><circle cx="639.7" cy="712.2" r="0.8" fill="#6a6a6a"/><circle cx="598.8" cy="692.4" r="0.7" fill="#4e4e4e"/><circle cx="634.1" cy="707.3" r="0.7" fill="#565656"/><circle cx="603.0" cy="728.1" r="0.6" fill="#717171"/><circle cx="616.0" cy="696.2" r="0.8" fill="#696969"/><circle cx="611.1" cy="664.2" r="1.1" fill="#484848"/><circle cx="607.0" cy="720.8" r="0.7" fill="#767676"/><circle cx="629.8" cy="687.5" r="1.2" fill="#6b6b6b"/><circle cx="630.8" cy="680.7" r="0.9" fill="#696969"/><circle cx="643.4" cy="696.5" r="1.0" fill="#666666"/><circle cx="639.5" cy="710.8" r="0.6" fill="#636363"/><circle cx="639.6" cy="713.3" r="1.0" fill="#686868"/><circle cx="598.4" cy="676.8" r="1.0" fill="#737373"/><circle cx="591.5" cy="699.7" r="0.7" fill="#757575"/><circle cx="630.4" cy="697.7" r="0.8" fill="#484848"/><circle cx="642.3" cy="689.0" r="0.9" fill="#5c5c5c"/><circle cx="633.4" cy="684.8" r="0.7" fill="#676767"/><circle cx="608.2" cy="696.3" r="0.7" fill="#6d6d6d"/><circle cx="582.7" cy="684.4" r="0.9" fill="#727272"/><circle cx="645.2" cy="672.3" r="1.0" fill="#4b4b4b"/><circle cx="620.7" cy="721.8" r="1.1" fill="#515151"/><circle cx="622.4" cy="712.6" r="0.6" fill="#696969"/><circle cx="602.0" cy="702.8" r="1.2" fill="#717171"/><circle cx="585.1" cy="697.0" r="0.7" fill="#525252"/><circle cx="634.9" cy="676.1" r="1.1" fill="#5b5b5b"/><circle cx="640.4" cy="706.3" r="1.0" fill="#5f5f5f"/><circle cx="636.4" cy="664.8" r="1.0" fill="#4c4c4c"/><circle cx="587.9" cy="692.4" r="0.8" fill="#5b5b5b"/><circle cx="614.7" cy="688.7" r="0.8" fill="#5e5e5e"/><circle cx="625.4" cy="662.0" r="0.8" fill="#626262"/><circle cx="604.5" cy="709.0" r="0.8" fill="#565656"/><circle cx="591.5" cy="677.0" r="1.2" fill="#494949"/><circle cx="613.5" cy="701.8" r="1.1" fill="#777777"/><circle cx="593.7" cy="707.1" r="1.1" fill="#727272"/><circle cx="613.6" cy="671.5" r="0.7" fill="#565656"/><circle cx="595.8" cy="712.3" r="0.8" fill="#5c5c5c"/><circle cx="638.6" cy="688.6" r="0.8" fill="#595959"/><circle cx="628.7" cy="677.8" r="0.8" fill="#565656"/><circle cx="644.4" cy="671.6" r="0.6" fill="#656565"/><circle cx="612.7" cy="704.9" r="0.9" fill="#5b5b5b"/><circle cx="629.8" cy="702.9" r="0.8" fill="#747474"/><circle cx="587.4" cy="697.6" r="0.9" fill="#616161"/><circle cx="587.3" cy="707.7" r="1.2" fill="#6f6f6f"/><circle cx="622.7" cy="691.9" r="1.1" fill="#6e6e6e"/><circle cx="626.1" cy="717.7" r="0.7" fill="#494949"/><circle cx="610.4" cy="668.3" r="1.0" fill="#494949"/><circle cx="637.6" cy="667.2" r="0.9" fill="#636363"/><circle cx="604.3" cy="663.1" r="0.7" fill="#696969"/><circle cx="624.9" cy="731.4" r="0.7" fill="#6d6d6d"/><circle cx="638.6" cy="693.1" r="1.0" fill="#555555"/><circle cx="593.8" cy="675.4" r="0.7" fill="#666666"/><circle cx="611.0" cy="723.6" r="1.0" fill="#5c5c5c"/><circle cx="613.7" cy="675.0" r="0.6" fill="#5a5a5a"/><circle cx="603.9" cy="674.1" r="0.9" fill="#717171"/><circle cx="620.6" cy="728.0" r="1.1" fill="#4d4d4d"/><circle cx="592.9" cy="681.2" r="1.2" fill="#6f6f6f"/><circle cx="635.2" cy="709.1" r="0.7" fill="#626262"/><circle cx="651.6" cy="703.2" r="1.1" fill="#606060"/><circle cx="643.1" cy="719.8" r="1.3" fill="#585858"/><circle cx="587.7" cy="676.6" r="0.7" fill="#484848"/><circle cx="596.8" cy="724.4" r="0.7" fill="#5d5d5d"/><circle cx="620.9" cy="659.9" r="1.1" fill="#5b5b5b"/><circle cx="647.7" cy="676.0" r="0.9" fill="#494949"/><circle cx="613.0" cy="728.1" r="1.2" fill="#5d5d5d"/><circle cx="586.1" cy="677.4" r="1.2" fill="#808080"/><circle cx="586.4" cy="677.9" r="1.0" fill="#6f6f6f"/><circle cx="647.1" cy="676.6" r="1.0" fill="#7f7f7f"/><circle cx="650.9" cy="699.1" r="1.0" fill="#515151"/><circle cx="604.3" cy="665.5" r="0.9" fill="#444444"/><circle cx="589.2" cy="712.1" r="0.9" fill="#7d7d7d"/><circle cx="581.6" cy="697.5" r="1.2" fill="#696969"/><circle cx="630.7" cy="667.5" r="1.3" fill="#4f4f4f"/><circle cx="645.2" cy="672.5" r="0.6" fill="#424242"/><circle cx="630.2" cy="728.5" r="1.3" fill="#6a6a6a"/><circle cx="602.2" cy="725.1" r="1.2" fill="#747474"/><circle cx="652.9" cy="693.2" r="0.7" fill="#494949"/><circle cx="648.9" cy="710.0" r="1.2" fill="#525252"/><circle cx="646.6" cy="709.5" r="0.9" fill="#6c6c6c"/><circle cx="593.5" cy="717.5" r="1.0" fill="#585858"/><circle cx="652.2" cy="691.6" r="1.2" fill="#676767"/><circle cx="614.7" cy="726.6" r="1.1" fill="#717171"/><circle cx="623.7" cy="726.4" r="1.0" fill="#535353"/><circle cx="650.2" cy="697.7" r="0.9" fill="#595959"/><circle cx="650.3" cy="705.4" r="0.8" fill="#7f7f7f"/><circle cx="581.4" cy="696.9" r="0.9" fill="#494949"/><circle cx="602.0" cy="663.9" r="1.0" fill="#484848"/><circle cx="596.2" cy="669.7" r="1.0" fill="#4c4c4c"/><circle cx="631.7" cy="667.3" r="1.2" fill="#5e5e5e"/><circle cx="590.2" cy="672.8" r="1.2" fill="#5e5e5e"/><circle cx="594.1" cy="718.7" r="1.1" fill="#7c7c7c"/><circle cx="603.5" cy="725.8" r="0.8" fill="#7b7b7b"/><circle cx="586.9" cy="676.1" r="1.3" fill="#595959"/><circle cx="642.5" cy="719.9" r="1.0" fill="#7c7c7c"/><circle cx="650.0" cy="698.5" r="0.9" fill="#414141"/><circle cx="623.6" cy="727.2" r="1.0" fill="#767676"/><circle cx="650.0" cy="681.1" r="1.2" fill="#565656"/><circle cx="598.8" cy="724.1" r="0.7" fill="#686868"/><circle cx="615.0" cy="730.6" r="1.0" fill="#6f6f6f"/><circle cx="631.1" cy="725.6" r="0.9" fill="#555555"/><circle cx="581.7" cy="697.6" r="1.3" fill="#656565"/><circle cx="653.5" cy="694.3" r="1.2" fill="#4e4e4e"/><circle cx="647.3" cy="676.1" r="0.7" fill="#6e6e6e"/><circle cx="614.0" cy="731.3" r="1.2" fill="#5d5d5d"/><circle cx="599.6" cy="667.1" r="0.8" fill="#565656"/><circle cx="585.6" cy="686.8" r="0.8" fill="#6f6f6f"/><circle cx="595.3" cy="668.0" r="1.3" fill="#454545"/><circle cx="614.0" cy="728.1" r="0.9" fill="#6f6f6f"/><circle cx="643.5" cy="716.8" r="1.1" fill="#696969"/><circle cx="605.1" cy="663.9" r="1.1" fill="#4f4f4f"/><circle cx="653.6" cy="695.1" r="0.9" fill="#4a4a4a"/><circle cx="590.2" cy="675.7" r="0.8" fill="#7e7e7e"/><circle cx="634.1" cy="663.3" r="0.8" fill="#454545"/><circle cx="646.0" cy="676.5" r="0.9" fill="#767676"/><circle cx="633.9" cy="664.6" r="0.7" fill="#606060"/><circle cx="623.4" cy="659.9" r="0.8" fill="#4a4a4a"/><circle cx="629.9" cy="727.9" r="0.7" fill="#616161"/><circle cx="612.8" cy="662.2" r="1.1" fill="#626262"/><circle cx="594.3" cy="669.4" r="1.3" fill="#787878"/><circle cx="585.5" cy="709.0" r="1.2" fill="#4a4a4a"/><circle cx="641.3" cy="720.0" r="1.2" fill="#808080"/><circle cx="617.9" cy="731.4" r="0.9" fill="#7a7a7a"/><circle cx="596.7" cy="723.7" r="0.7" fill="#6c6c6c"/><circle cx="647.9" cy="711.7" r="0.8" fill="#727272"/><circle cx="632.3" cy="663.3" r="1.0" fill="#717171"/><circle cx="642.9" cy="717.1" r="1.2" fill="#656565"/><circle cx="632.8" cy="725.4" r="0.7" fill="#787878"/><circle cx="582.0" cy="695.7" r="0.6" fill="#6a6a6a"/><circle cx="600.5" cy="727.2" r="1.0" fill="#666666"/><circle cx="635.9" cy="722.9" r="0.7" fill="#6c6c6c"/><circle cx="642.6" cy="671.5" r="1.0" fill="#616161"/><circle cx="619.2" cy="729.5" r="0.8" fill="#525252"/><circle cx="607.4" cy="661.5" r="1.0" fill="#5e5e5e"/><circle cx="651.7" cy="691.2" r="0.9" fill="#444444"/><circle cx="640.8" cy="669.6" r="1.0" fill="#404040"/><circle cx="623.2" cy="663.2" r="1.3" fill="#5a5a5a"/><circle cx="637.3" cy="668.5" r="1.3" fill="#414141"/><circle cx="642.0" cy="721.6" r="0.9" fill="#535353"/><circle cx="647.0" cy="674.3" r="0.8" fill="#545454"/><circle cx="648.9" cy="708.4" r="1.1" fill="#5b5b5b"/><circle cx="625.1" cy="660.1" r="1.0" fill="#6d6d6d"/><circle cx="583.9" cy="695.4" r="0.7" fill="#525252"/><circle cx="611.8" cy="659.4" r="1.2" fill="#4b4b4b"/><circle cx="645.9" cy="717.2" r="1.1" fill="#767676"/><circle cx="641.3" cy="668.6" r="1.2" fill="#7c7c7c"/><circle cx="590.0" cy="708.4" r="0.9" fill="#727272"/><circle cx="638.9" cy="666.4" r="0.6" fill="#515151"/><circle cx="652.0" cy="701.5" r="1.2" fill="#626262"/><circle cx="599.9" cy="721.7" r="0.6" fill="#707070"/><circle cx="623.0" cy="727.6" r="0.7" fill="#7e7e7e"/><circle cx="618.1" cy="731.1" r="0.7" fill="#696969"/><circle cx="587.6" cy="679.4" r="0.8" fill="#595959"/><circle cx="584.7" cy="697.0" r="0.8" fill="#777777"/><circle cx="589.0" cy="686.7" r="0.8" fill="#616161"/><circle cx="652.8" cy="687.7" r="1.1" fill="#6f6f6f"/><circle cx="630.5" cy="727.5" r="0.6" fill="#515151"/><circle cx="624.2" cy="663.0" r="0.8" fill="#555555"/><circle cx="651.2" cy="697.9" r="0.8" fill="#515151"/><circle cx="641.8" cy="671.3" r="0.8" fill="#727272"/><circle cx="639.4" cy="666.0" r="0.8" fill="#676767"/><circle cx="649.4" cy="684.2" r="1.1" fill="#4f4f4f"/><circle cx="631.4" cy="661.7" r="1.1" fill="#808080"/><circle cx="608.1" cy="724.7" r="1.1" fill="#636363"/><circle cx="632.0" cy="665.2" r="1.0" fill="#535353"/><circle cx="640.4" cy="671.2" r="1.1" fill="#7c7c7c"/><circle cx="618.4" cy="660.6" r="0.8" fill="#535353"/><circle cx="585.4" cy="691.8" r="0.7" fill="#676767"/><circle cx="642.5" cy="673.0" r="0.7" fill="#434343"/><circle cx="634.8" cy="727.2" r="0.8" fill="#777777"/><circle cx="583.2" cy="705.9" r="1.1" fill="#6e6e6e"/><circle cx="591.6" cy="714.8" r="0.8" fill="#4c4c4c"/><circle cx="634.9" cy="724.7" r="0.9" fill="#808080"/><circle cx="597.8" cy="723.8" r="1.0" fill="#4b4b4b"/><circle cx="628.8" cy="729.9" r="0.7" fill="#666666"/><circle cx="636.2" cy="670.3" r="0.6" fill="#575757"/><circle cx="641.3" cy="720.2" r="1.3" fill="#6c6c6c"/><circle cx="618.9" cy="730.9" r="0.7" fill="#7e7e7e"/><circle cx="626.2" cy="662.4" r="1.0" fill="#505050"/><circle cx="623.6" cy="725.7" r="1.2" fill="#525252"/><circle cx="651.5" cy="694.3" r="1.1" fill="#676767"/><circle cx="582.5" cy="688.1" r="1.2" fill="#575757"/><circle cx="651.4" cy="702.2" r="1.0" fill="#666666"/><circle cx="584.7" cy="696.9" r="1.0" fill="#7e7e7e"/><circle cx="605.7" cy="728.7" r="1.1" fill="#464646"/><circle cx="625.0" cy="660.1" r="0.7" fill="#7e7e7e"/><circle cx="643.3" cy="675.0" r="1.2" fill="#545454"/><circle cx="652.0" cy="684.2" r="1.2" fill="#737373"/><circle cx="586.7" cy="702.5" r="0.8" fill="#4f4f4f"/><circle cx="595.9" cy="666.9" r="1.0" fill="#545454"/><circle cx="588.1" cy="712.3" r="0.8" fill="#404040"/><circle cx="582.5" cy="704.5" r="1.1" fill="#525252"/><circle cx="649.2" cy="686.7" r="1.1" fill="#5b5b5b"/><circle cx="605.1" cy="663.6" r="0.9" fill="#727272"/><circle cx="586.7" cy="708.9" r="1.1" fill="#7b7b7b"/><circle cx="638.0" cy="723.9" r="0.8" fill="#636363"/><circle cx="612.7" cy="728.1" r="1.1" fill="#777777"/><circle cx="590.7" cy="679.3" r="1.3" fill="#6c6c6c"/><circle cx="608.5" cy="728.6" r="1.1" fill="#4e4e4e"/><circle cx="635.9" cy="718.9" r="1.2" fill="#5b5b5b"/><circle cx="649.0" cy="710.2" r="0.9" fill="#5e5e5e"/><circle cx="584.5" cy="694.5" r="0.6" fill="#4a4a4a"/><circle cx="651.1" cy="689.8" r="0.6" fill="#616161"/><circle cx="587.5" cy="712.0" r="1.0" fill="#474747"/><circle cx="592.8" cy="671.3" r="1.1" fill="#434343"/><circle cx="607.2" cy="729.0" r="0.7" fill="#747474"/><circle cx="598.4" cy="720.5" r="1.0" fill="#6d6d6d"/><circle cx="644.7" cy="719.9" r="0.8" fill="#767676"/><circle cx="646.9" cy="683.3" r="1.0" fill="#595959"/><circle cx="581.5" cy="692.6" r="1.0" fill="#747474"/><circle cx="651.2" cy="690.2" r="1.1" fill="#646464"/><circle cx="630.8" cy="663.0" r="1.1" fill="#626262"/><circle cx="651.9" cy="682.4" r="1.2" fill="#585858"/><circle cx="583.8" cy="698.6" r="1.3" fill="#7c7c7c"/><circle cx="593.5" cy="721.9" r="0.9" fill="#808080"/><circle cx="653.0" cy="690.5" r="1.0" fill="#808080"/><circle cx="588.7" cy="710.4" r="1.1" fill="#6c6c6c"/><circle cx="644.0" cy="673.4" r="1.1" fill="#6f6f6f"/><circle cx="651.0" cy="698.5" r="0.7" fill="#7a7a7a"/><circle cx="595.6" cy="669.6" r="0.7" fill="#676767"/><circle cx="629.9" cy="729.5" r="0.7" fill="#515151"/><circle cx="585.8" cy="709.5" r="1.1" fill="#7b7b7b"/><circle cx="647.1" cy="676.4" r="0.7" fill="#5e5e5e"/><circle cx="595.7" cy="720.6" r="1.0" fill="#434343"/><circle cx="585.4" cy="689.1" r="1.0" fill="#727272"/><circle cx="641.0" cy="667.6" r="0.9" fill="#434343"/><circle cx="629.9" cy="729.1" r="1.3" fill="#494949"/><circle cx="617.1" cy="660.8" r="1.1" fill="#6a6a6a"/><circle cx="635.1" cy="667.2" r="1.2" fill="#5c5c5c"/><circle cx="646.5" cy="715.4" r="1.2" fill="#7c7c7c"/><circle cx="594.7" cy="667.6" r="0.6" fill="#7b7b7b"/><circle cx="584.0" cy="694.0" r="0.7" fill="#595959"/><circle cx="649.9" cy="702.1" r="0.9" fill="#4a4a4a"/><circle cx="589.6" cy="714.6" r="1.1" fill="#585858"/><circle cx="588.0" cy="678.5" r="1.2" fill="#585858"/><circle cx="620.5" cy="728.6" r="1.3" fill="#575757"/><circle cx="582.6" cy="704.6" r="1.1" fill="#5b5b5b"/><circle cx="650.8" cy="688.4" r="1.2" fill="#767676"/><circle cx="604.3" cy="665.7" r="1.0" fill="#474747"/><circle cx="611.9" cy="660.6" r="1.1" fill="#656565"/><circle cx="585.7" cy="710.5" r="1.0" fill="#686868"/><circle cx="605.0" cy="664.9" r="1.0" fill="#7d7d7d"/><circle cx="622.2" cy="663.8" r="0.6" fill="#4e4e4e"/><circle cx="588.8" cy="677.1" r="0.7" fill="#4e4e4e"/><circle cx="591.3" cy="670.4" r="1.0" fill="#4a4a4a"/><circle cx="588.4" cy="713.3" r="0.6" fill="#676767"/><circle cx="643.0" cy="715.3" r="1.0" fill="#434343"/><circle cx="639.5" cy="670.8" r="0.8" fill="#7d7d7d"/><circle cx="645.1" cy="717.3" r="0.7" fill="#646464"/><circle cx="609.7" cy="728.8" r="1.2" fill="#515151"/><circle cx="585.3" cy="679.9" r="0.7" fill="#6f6f6f"/><circle cx="633.0" cy="728.1" r="1.1" fill="#474747"/><circle cx="584.4" cy="686.1" r="1.2" fill="#575757"/><circle cx="591.2" cy="718.1" r="1.1" fill="#757575"/><circle cx="641.9" cy="668.4" r="1.2" fill="#4b4b4b"/><circle cx="608.1" cy="727.2" r="1.1" fill="#464646"/><circle cx="596.6" cy="722.9" r="0.9" fill="#747474"/><circle cx="649.2" cy="712.3" r="0.8" fill="#4c4c4c"/><circle cx="599.9" cy="666.1" r="1.3" fill="#747474"/><circle cx="634.0" cy="727.0" r="0.6" fill="#6e6e6e"/><circle cx="644.4" cy="710.3" r="1.2" fill="#6f6f6f"/><circle cx="638.2" cy="717.8" r="0.7" fill="#666666"/><circle cx="586.7" cy="706.3" r="1.2" fill="#464646"/><circle cx="649.5" cy="701.6" r="0.6" fill="#7e7e7e"/><circle cx="584.4" cy="683.4" r="1.0" fill="#454545"/><circle cx="584.6" cy="688.2" r="0.6" fill="#555555"/><circle cx="607.5" cy="727.1" r="1.2" fill="#646464"/><circle cx="642.9" cy="670.3" r="0.7" fill="#777777"/><circle cx="615.6" cy="728.0" r="1.2" fill="#717171"/></g>
<defs><clipPath id="c6"><circle cx="708.2" cy="695.3" r="38.3"/></clipPath><radialGradient id="g6"><stop offset="0" stop-color="#e4e4e4"/><stop offset="0.8" stop-color="#dcdcdc"/><stop offset="1" stop-color="#d0d0d0"/></radialGradient></defs>
<rect x="666.90" y="652.60" width="81.90" height="84.00" fill="#cecece"/>
<circle cx="708.2" cy="695.3" r="39.5" fill="url(#g6)" stroke="#7e7e7e" stroke-width="1.4"/>
<circle cx="708.2" cy="695.3" r="35.5" fill="none" stroke="#000" stroke-opacity="0.04" stroke-width="5"/>
<circle cx="708.2" cy="695.3" r="37.7" fill="none" stroke="#b0b0b0" stroke-width="0.8"/>
<g clip-path="url(#c6)" filter="url(#soft)"><circle cx="717.2" cy="663.0" r="0.7" fill="#909090"/><circle cx="721.9" cy="698.5" r="0.8" fill="#b0b0b0"/><circle cx="706.2" cy="674.5" r="0.5" fill="#9f9f9f"/><circle cx="718.3" cy="665.4" r="0.7" fill="#a2a2a2"/><circle cx="697.2" cy="692.5" r="0.8" fill="#acacac"/><circle cx="714.7" cy="677.4" r="0.9" fill="#ababab"/><circle cx="728.7" cy="708.0" r="1.0" fill="#979797"/><circle cx="718.5" cy="663.8" r="0.7" fill="#868686"/><circle cx="709.3" cy="664.3" r="0.9" fill="#868686"/><circle cx="735.3" cy="686.8" r="0.6" fill="#a9a9a9"/><circle cx="730.2" cy="681.8" r="0.9" fill="#8c8c8c"/><circle cx="678.6" cy="692.6" r="0.8" fill="#a0a0a0"/><circle cx="714.4" cy="694.4" r="0.7" fill="#a6a6a6"/><circle cx="688.2" cy="704.8" r="0.6" fill="#a0a0a0"/><circle cx="727.8" cy="677.0" r="0.6" fill="#aaaaaa"/><circle cx="704.7" cy="726.5" r="0.7" fill="#8e8e8e"/><circle cx="719.2" cy="708.2" r="0.9" fill="#acacac"/><circle cx="692.3" cy="693.1" r="0.6" fill="#a9a9a9"/><circle cx="690.7" cy="725.8" r="0.8" fill="#939393"/><circle cx="689.2" cy="714.3" r="0.6" fill="#ababab"/><circle cx="716.8" cy="695.3" r="0.7" fill="#afafaf"/><circle cx="719.7" cy="695.2" r="0.7" fill="#858585"/><circle cx="731.8" cy="676.3" r="0.9" fill="#9c9c9c"/><circle cx="713.0" cy="673.0" r="0.5" fill="#9b9b9b"/><circle cx="677.6" cy="700.9" r="0.7" fill="#858585"/><circle cx="719.0" cy="723.8" r="0.7" fill="#aeaeae"/><circle cx="711.5" cy="680.3" r="0.5" fill="#878787"/><circle cx="708.0" cy="728.4" r="0.6" fill="#a0a0a0"/><circle cx="674.2" cy="706.0" r="0.6" fill="#9a9a9a"/><circle cx="729.7" cy="684.7" r="0.7" fill="#a6a6a6"/><circle cx="682.9" cy="699.4" r="0.6" fill="#989898"/><circle cx="678.7" cy="695.9" r="0.7" fill="#979797"/><circle cx="688.5" cy="664.6" r="1.0" fill="#989898"/><circle cx="701.7" cy="677.4" r="0.8" fill="#9f9f9f"/><circle cx="706.3" cy="680.7" r="0.9" fill="#a3a3a3"/><circle cx="733.0" cy="696.3" r="0.5" fill="#818181"/><circle cx="686.7" cy="677.5" r="0.8" fill="#979797"/><circle cx="685.0" cy="722.6" r="0.9" fill="#838383"/><circle cx="720.9" cy="688.2" r="0.6" fill="#808080"/><circle cx="679.3" cy="710.7" r="0.9" fill="#9f9f9f"/><circle cx="724.0" cy="703.5" r="0.7" fill="#898989"/><circle cx="700.5" cy="678.7" r="0.7" fill="#828282"/><circle cx="700.2" cy="687.0" r="0.6" fill="#a9a9a9"/><circle cx="677.0" cy="699.7" r="0.5" fill="#818181"/><circle cx="704.2" cy="682.7" r="0.9" fill="#858585"/><circle cx="723.8" cy="720.2" r="0.6" fill="#a9a9a9"/><circle cx="678.8" cy="704.5" r="0.9" fill="#888888"/><circle cx="714.9" cy="680.7" r="1.0" fill="#9e9e9e"/><circle cx="712.6" cy="671.0" r="0.6" fill="#adadad"/><circle cx="678.6" cy="679.2" r="0.6" fill="#979797"/><circle cx="700.1" cy="730.2" r="0.5" fill="#919191"/><circle cx="701.4" cy="731.0" r="0.7" fill="#979797"/><circle cx="718.8" cy="697.5" r="0.9" fill="#a8a8a8"/><circle cx="710.5" cy="727.2" r="0.9" fill="#959595"/><circle cx="702.4" cy="701.4" r="1.0" fill="#b0b0b0"/><circle cx="708.3" cy="678.4" r="0.7" fill="#848484"/><circle cx="724.9" cy="720.7" r="0.7" fill="#888888"/><circle cx="682.8" cy="701.1" r="0.5" fill="#848484"/><circle cx="686.6" cy="724.9" r="0.6" fill="#adadad"/><circle cx="719.7" cy="711.2" r="0.6" fill="#a4a4a4"/><circle cx="727.6" cy="668.6" r="1.0" fill="#acacac"/><circle cx="675.7" cy="681.5" r="0.7" fill="#8a8a8a"/><circle cx="709.9" cy="658.5" r="0.8" fill="#808080"/><circle cx="714.5" cy="668.1" r="0.6" fill="#949494"/><circle cx="724.6" cy="674.1" r="0.5" fill="#a1a1a1"/><circle cx="679.6" cy="685.8" r="0.9" fill="#a9a9a9"/><circle cx="677.5" cy="686.6" r="0.6" fill="#8b8b8b"/><circle cx="723.0" cy="692.7" r="0.8" fill="#989898"/><circle cx="711.9" cy="697.1" r="0.7" fill="#838383"/><circle cx="731.7" cy="715.9" r="0.6" fill="#979797"/><circle cx="700.7" cy="690.2" r="0.6" fill="#9a9a9a"/><circle cx="712.5" cy="722.8" r="1.0" fill="#929292"/><circle cx="716.8" cy="701.0" r="0.8" fill="#838383"/><circle cx="722.9" cy="721.5" r="0.6" fill="#878787"/><circle cx="703.6" cy="680.4" r="0.8" fill="#818181"/><circle cx="708.2" cy="664.9" r="0.9" fill="#a9a9a9"/><circle cx="703.4" cy="677.2" r="0.6" fill="#a9a9a9"/><circle cx="714.1" cy="663.0" r="0.6" fill="#a5a5a5"/><circle cx="735.0" cy="697.5" r="0.9" fill="#adadad"/><circle cx="722.9" cy="679.9" r="0.8" fill="#a5a5a5"/><circle cx="702.7" cy="691.5" r="0.7" fill="#878787"/><circle cx="713.0" cy="727.3" r="0.7" fill="#acacac"/><circle cx="731.3" cy="687.4" r="0.9" fill="#838383"/><circle cx="704.6" cy="700.7" r="0.7" fill="#9f9f9f"/><circle cx="741.9" cy="695.8" r="0.5" fill="#a5a5a5"/><circle cx="695.0" cy="683.5" r="0.6" fill="#a2a2a2"/><circle cx="723.4" cy="728.6" r="0.7" fill="#a6a6a6"/><circle cx="684.2" cy="706.8" r="0.9" fill="#919191"/><circle cx="707.8" cy="715.5" r="0.5" fill="#b0b0b0"/><circle cx="676.7" cy="705.9" r="0.8" fill="#808080"/><circle cx="695.4" cy="694.2" r="0.8" fill="#9e9e9e"/><circle cx="673.8" cy="698.3" r="0.9" fill="#a2a2a2"/><circle cx="717.8" cy="671.8" r="0.9" fill="#989898"/><circle cx="728.3" cy="724.6" r="0.9" fill="#808080"/><circle cx="698.5" cy="711.1" r="0.6" fill="#979797"/><circle cx="682.3" cy="679.2" r="0.6" fill="#939393"/><circle cx="718.7" cy="716.5" r="0.8" fill="#8e8e8e"/><circle cx="718.1" cy="690.4" r="0.7" fill="#888888"/><circle cx="708.9" cy="660.0" r="0.6" fill="#838383"/><circle cx="675.9" cy="691.2" r="0.7" fill="#979797"/><circle cx="723.9" cy="681.1" r="0.9" fill="#989898"/><circle cx="728.2" cy="673.2" r="0.9" fill="#848484"/><circle cx="707.7" cy="702.8" r="0.8" fill="#a7a7a7"/><circle cx="705.4" cy="681.0" r="0.8" fill="#878787"/><circle cx="714.7" cy="663.6" r="1.0" fill="#858585"/><circle cx="738.1" cy="691.5" r="0.6" fill="#969696"/><circle cx="689.0" cy="726.3" r="0.9" fill="#8f8f8f"/><circle cx="715.4" cy="709.4" r="0.8" fill="#9e9e9e"/><circle cx="706.5" cy="670.3" r="0.6" fill="#a7a7a7"/><circle cx="732.0" cy="722.9" r="0.6" fill="#979797"/><circle cx="704.5" cy="659.0" r="0.8" fill="#848484"/><circle cx="708.0" cy="696.7" r="0.9" fill="#818181"/><circle cx="679.1" cy="699.0" r="0.7" fill="#808080"/><circle cx="703.4" cy="726.3" r="0.7" fill="#a7a7a7"/><circle cx="691.9" cy="722.6" r="0.9" fill="#898989"/><circle cx="715.3" cy="683.0" r="0.8" fill="#9e9e9e"/><circle cx="706.9" cy="662.5" r="1.0" fill="#898989"/><circle cx="727.8" cy="710.3" r="0.5" fill="#888888"/><circle cx="697.1" cy="672.2" r="0.5" fill="#878787"/><circle cx="694.9" cy="705.1" r="0.8" fill="#8a8a8a"/><circle cx="690.9" cy="702.4" r="0.8" fill="#969696"/><circle cx="699.8" cy="724.8" r="0.6" fill="#a3a3a3"/><circle cx="739.3" cy="691.6" r="0.5" fill="#afafaf"/><circle cx="708.3" cy="732.0" r="1.0" fill="#a1a1a1"/><circle cx="727.1" cy="677.3" r="0.8" fill="#8a8a8a"/><circle cx="719.9" cy="677.9" r="0.9" fill="#a4a4a4"/><circle cx="703.4" cy="709.0" r="0.5" fill="#aeaeae"/><circle cx="696.3" cy="730.0" r="0.7" fill="#adadad"/><circle cx="704.3" cy="667.0" r="0.5" fill="#969696"/><circle cx="688.8" cy="685.1" r="0.7" fill="#a8a8a8"/><circle cx="712.4" cy="717.9" r="0.8" fill="#969696"/><circle cx="730.9" cy="717.4" r="1.0" fill="#838383"/><circle cx="683.1" cy="680.6" r="0.8" fill="#919191"/><circle cx="715.3" cy="731.3" r="0.5" fill="#aaaaaa"/><circle cx="687.3" cy="668.7" r="0.6" fill="#919191"/><circle cx="694.1" cy="678.1" r="0.9" fill="#afafaf"/><circle cx="682.8" cy="722.0" r="0.8" fill="#a9a9a9"/><circle cx="718.4" cy="711.9" r="0.8" fill="#949494"/><circle cx="723.3" cy="661.9" r="0.5" fill="#aaaaaa"/><circle cx="726.9" cy="711.1" r="0.8" fill="#8b8b8b"/><circle cx="699.6" cy="675.1" r="0.5" fill="#adadad"/><circle cx="699.8" cy="716.8" r="0.8" fill="#adadad"/><circle cx="719.3" cy="701.2" r="0.9" fill="#9c9c9c"/><circle cx="703.1" cy="660.7" r="0.6" fill="#808080"/><circle cx="736.9" cy="679.8" r="0.8" fill="#989898"/><circle cx="726.9" cy="722.2" r="0.8" fill="#afafaf"/><circle cx="718.1" cy="688.2" r="0.9" fill="#888888"/><circle cx="702.1" cy="693.0" r="0.6" fill="#8d8d8d"/><circle cx="725.8" cy="703.5" r="0.6" fill="#888888"/><circle cx="727.6" cy="723.4" r="0.9" fill="#a6a6a6"/><circle cx="697.0" cy="716.5" r="0.8" fill="#a7a7a7"/><circle cx="685.9" cy="684.3" r="1.0" fill="#9d9d9d"/><circle cx="713.7" cy="709.9" r="0.6" fill="#aaaaaa"/><circle cx="718.3" cy="674.5" r="0.8" fill="#9d9d9d"/><circle cx="680.8" cy="683.7" r="0.8" fill="#a6a6a6"/><circle cx="725.2" cy="673.2" r="0.6" fill="#818181"/><circle cx="688.8" cy="708.2" r="0.8" fill="#878787"/><circle cx="714.2" cy="691.9" r="0.7" fill="#9f9f9f"/><circle cx="685.6" cy="666.1" r="0.7" fill="#939393"/><circle cx="688.2" cy="719.3" r="0.7" fill="#838383"/><circle cx="684.1" cy="710.3" r="0.7" fill="#a5a5a5"/><circle cx="698.9" cy="679.7" r="0.7" fill="#a4a4a4"/><circle cx="723.2" cy="719.0" r="0.8" fill="#9d9d9d"/><circle cx="711.3" cy="685.9" r="0.7" fill="#9f9f9f"/><circle cx="742.9" cy="697.9" r="0.8" fill="#9e9e9e"/><circle cx="700.0" cy="698.9" r="0.5" fill="#aeaeae"/><circle cx="734.5" cy="691.4" r="0.7" fill="#979797"/><circle cx="716.6" cy="708.6" r="0.8" fill="#999999"/><circle cx="697.5" cy="688.8" r="0.7" fill="#a9a9a9"/><circle cx="711.6" cy="726.8" r="0.6" fill="#a6a6a6"/><circle cx="673.9" cy="690.5" r="1.0" fill="#989898"/><circle cx="685.1" cy="722.9" r="0.8" fill="#9a9a9a"/><circle cx="700.2" cy="720.0" r="0.9" fill="#828282"/><circle cx="741.2" cy="698.6" r="0.5" fill="#828282"/><circle cx="719.3" cy="672.3" r="0.6" fill="#9a9a9a"/><circle cx="672.6" cy="699.0" r="0.7" fill="#8d8d8d"/><circle cx="698.3" cy="705.3" r="0.6" fill="#8e8e8e"/><circle cx="721.1" cy="681.1" r="0.6" fill="#9e9e9e"/><circle cx="692.8" cy="711.8" r="0.9" fill="#a8a8a8"/><circle cx="702.9" cy="661.8" r="0.9" fill="#a3a3a3"/><circle cx="723.7" cy="700.9" r="0.7" fill="#a1a1a1"/><circle cx="715.5" cy="692.0" r="0.7" fill="#818181"/><circle cx="739.8" cy="678.2" r="0.8" fill="#aeaeae"/><circle cx="734.7" cy="710.2" r="0.8" fill="#8c8c8c"/><circle cx="676.0" cy="694.2" r="0.8" fill="#a4a4a4"/><circle cx="687.1" cy="697.7" r="0.8" fill="#9c9c9c"/><circle cx="716.6" cy="728.5" r="1.0" fill="#8e8e8e"/><circle cx="695.6" cy="719.5" r="0.6" fill="#a6a6a6"/><circle cx="728.2" cy="696.2" r="0.7" fill="#8d8d8d"/><circle cx="692.1" cy="668.1" r="0.8" fill="#a2a2a2"/><circle cx="692.0" cy="671.7" r="0.7" fill="#9b9b9b"/><circle cx="727.3" cy="674.2" r="0.8" fill="#8a8a8a"/><circle cx="736.6" cy="684.7" r="0.6" fill="#acacac"/><circle cx="722.2" cy="675.8" r="0.8" fill="#aaaaaa"/><circle cx="732.2" cy="700.3" r="0.6" fill="#8e8e8e"/><circle cx="706.5" cy="673.1" r="0.5" fill="#949494"/><circle cx="693.8" cy="712.1" r="0.7" fill="#a1a1a1"/><circle cx="691.6" cy="706.0" r="0.6" fill="#a9a9a9"/><circle cx="683.5" cy="678.3" r="0.8" fill="#a0a0a0"/><circle cx="720.9" cy="719.7" r="0.6" fill="#8e8e8e"/><circle cx="683.6" cy="689.9" r="0.5" fill="#8d8d8d"/><circle cx="699.6" cy="692.8" r="0.9" fill="#a3a3a3"/><circle cx="730.5" cy="701.0" r="0.7" fill="#888888"/><circle cx="726.7" cy="675.4" r="0.5" fill="#a5a5a5"/><circle cx="704.1" cy="727.7" r="0.6" fill="#a8a8a8"/><circle cx="694.4" cy="724.1" r="0.8" fill="#969696"/><circle cx="736.3" cy="694.2" r="1.0" fill="#8f8f8f"/><circle cx="695.4" cy="729.7" r="0.6" fill="#9b9b9b"/><circle cx="714.3" cy="694.6" r="0.7" fill="#949494"/><circle cx="738.1" cy="676.0" r="0.8" fill="#9a9a9a"/><circle cx="687.6" cy="714.0" r="0.9" fill="#838383"/><circle cx="719.0" cy="720.8" r="1.0" fill="#8f8f8f"/><circle cx="690.0" cy="692.5" r="0.6" fill="#8b8b8b"/><circle cx="691.0" cy="681.6" r="0.8" fill="#8e8e8e"/><circle cx="715.2" cy="706.4" r="0.9" fill="#9c9c9c"/><circle cx="718.1" cy="698.8" r="0.8" fill="#969696"/><circle cx="691.7" cy="712.2" r="0.8" fill="#8f8f8f"/><circle cx="683.6" cy="709.6" r="0.7" fill="#a8a8a8"/><circle cx="676.9" cy="706.3" r="0.8" fill="#8f8f8f"/><circle cx="738.3" cy="705.1" r="0.9" fill="#9b9b9b"/><circle cx="696.0" cy="675.6" r="0.8" fill="#9c9c9c"/><circle cx="693.9" cy="720.5" r="0.8" fill="#868686"/><circle cx="705.0" cy="684.1" r="0.6" fill="#9f9f9f"/><circle cx="694.4" cy="666.9" r="0.9" fill="#808080"/><circle cx="698.2" cy="707.7" r="0.5" fill="#999999"/><circle cx="743.0" cy="696.9" r="0.8" fill="#adadad"/><circle cx="744.6" cy="692.6" r="0.6" fill="#9e9e9e"/><circle cx="710.6" cy="699.1" r="0.8" fill="#aaaaaa"/><circle cx="729.7" cy="690.7" r="1.0" fill="#9c9c9c"/><circle cx="682.3" cy="720.1" r="0.6" fill="#acacac"/><circle cx="687.1" cy="670.7" r="0.7" fill="#707070"/><circle cx="682.4" cy="714.0" r="0.6" fill="#5a5a5a"/><circle cx="681.4" cy="683.4" r="1.1" fill="#767676"/><circle cx="722.9" cy="706.9" r="1.0" fill="#5d5d5d"/><circle cx="712.1" cy="667.0" r="1.1" fill="#595959"/><circle cx="684.2" cy="712.5" r="0.8" fill="#5e5e5e"/><circle cx="716.9" cy="722.2" r="1.1" fill="#595959"/><circle cx="727.2" cy="706.1" r="1.1" fill="#757575"/><circle cx="738.6" cy="703.4" r="0.7" fill="#484848"/><circle cx="717.4" cy="675.8" r="0.9" fill="#505050"/><circle cx="721.1" cy="729.6" r="0.8" fill="#555555"/><circle cx="710.3" cy="707.1" r="0.7" fill="#707070"/><circle cx="739.7" cy="697.4" r="1.0" fill="#616161"/><circle cx="713.4" cy="697.8" r="0.8" fill="#727272"/><circle cx="727.6" cy="725.0" r="0.9" fill="#515151"/><circle cx="736.6" cy="689.9" r="0.9" fill="#4b4b4b"/><circle cx="687.1" cy="686.3" r="0.8" fill="#6e6e6e"/><circle cx="679.1" cy="701.0" r="1.1" fill="#757575"/><circle cx="688.6" cy="674.2" r="1.2" fill="#484848"/><circle cx="694.9" cy="680.0" r="0.7" fill="#555555"/><circle cx="704.3" cy="708.0" r="0.6" fill="#777777"/><circle cx="699.5" cy="704.2" r="1.0" fill="#545454"/><circle cx="721.3" cy="668.9" r="1.1" fill="#767676"/><circle cx="722.4" cy="707.2" r="0.7" fill="#6d6d6d"/><circle cx="689.0" cy="704.4" r="1.2" fill="#575757"/><circle cx="742.7" cy="698.2" r="1.0" fill="#535353"/><circle cx="738.5" cy="699.4" r="1.1" fill="#5c5c5c"/><circle cx="740.4" cy="711.7" r="1.2" fill="#515151"/><circle cx="703.4" cy="726.7" r="0.7" fill="#575757"/><circle cx="694.6" cy="719.9" r="1.2" fill="#4b4b4b"/><circle cx="712.6" cy="659.7" r="0.7" fill="#656565"/><circle cx="728.0" cy="713.1" r="0.9" fill="#606060"/><circle cx="695.0" cy="718.6" r="0.6" fill="#595959"/><circle cx="708.8" cy="712.6" r="1.1" fill="#494949"/><circle cx="686.6" cy="715.3" r="1.0" fill="#656565"/><circle cx="711.2" cy="707.4" r="1.1" fill="#525252"/><circle cx="703.0" cy="679.9" r="0.7" fill="#666666"/><circle cx="726.0" cy="691.1" r="1.0" fill="#484848"/><circle cx="684.9" cy="704.1" r="0.9" fill="#4a4a4a"/><circle cx="725.3" cy="670.4" r="1.1" fill="#5d5d5d"/><circle cx="728.9" cy="696.4" r="0.9" fill="#666666"/><circle cx="690.1" cy="698.9" r="0.9" fill="#616161"/><circle cx="744.1" cy="699.2" r="1.1" fill="#494949"/><circle cx="706.8" cy="695.6" r="1.1" fill="#4c4c4c"/><circle cx="716.8" cy="710.2" r="0.9" fill="#676767"/><circle cx="700.8" cy="686.9" r="0.7" fill="#686868"/><circle cx="709.5" cy="667.4" r="1.0" fill="#727272"/><circle cx="686.4" cy="722.2" r="1.0" fill="#494949"/><circle cx="728.2" cy="673.7" r="0.7" fill="#535353"/><circle cx="698.4" cy="664.3" r="1.0" fill="#666666"/><circle cx="706.7" cy="730.5" r="1.1" fill="#767676"/><circle cx="712.0" cy="723.8" r="1.1" fill="#4e4e4e"/><circle cx="709.9" cy="702.6" r="0.9" fill="#4d4d4d"/><circle cx="716.6" cy="685.5" r="0.8" fill="#4e4e4e"/><circle cx="729.2" cy="675.0" r="0.6" fill="#6a6a6a"/><circle cx="728.5" cy="717.2" r="1.0" fill="#717171"/><circle cx="712.9" cy="691.7" r="0.6" fill="#4f4f4f"/><circle cx="729.9" cy="721.1" r="1.0" fill="#6d6d6d"/><circle cx="673.1" cy="683.9" r="0.7" fill="#5e5e5e"/><circle cx="727.1" cy="690.3" r="0.7" fill="#636363"/><circle cx="703.8" cy="678.7" r="1.0" fill="#767676"/><circle cx="692.3" cy="727.3" r="0.8" fill="#5f5f5f"/><circle cx="725.1" cy="710.8" r="1.1" fill="#6f6f6f"/><circle cx="722.7" cy="691.7" r="1.2" fill="#626262"/><circle cx="729.3" cy="698.1" r="1.2" fill="#484848"/><circle cx="690.5" cy="704.3" r="0.7" fill="#6f6f6f"/><circle cx="704.6" cy="712.5" r="0.6" fill="#494949"/><circle cx="720.4" cy="674.5" r="0.9" fill="#636363"/><circle cx="684.1" cy="686.1" r="0.7" fill="#6a6a6a"/><circle cx="722.2" cy="697.7" r="1.0" fill="#656565"/><circle cx="694.4" cy="663.5" r="1.3" fill="#636363"/><circle cx="712.1" cy="729.3" r="1.3" fill="#7c7c7c"/><circle cx="728.5" cy="724.4" r="0.6" fill="#737373"/><circle cx="694.9" cy="727.9" r="1.3" fill="#5a5a5a"/><circle cx="722.8" cy="727.4" r="1.2" fill="#7f7f7f"/><circle cx="741.7" cy="686.1" r="0.8" fill="#5b5b5b"/><circle cx="673.4" cy="696.3" r="0.7" fill="#464646"/><circle cx="677.8" cy="710.5" r="0.9" fill="#616161"/><circle cx="673.5" cy="684.9" r="1.0" fill="#787878"/><circle cx="711.6" cy="730.0" r="1.0" fill="#454545"/><circle cx="714.2" cy="661.3" r="1.1" fill="#646464"/><circle cx="735.3" cy="673.6" r="1.3" fill="#545454"/><circle cx="700.6" cy="729.6" r="1.0" fill="#555555"/><circle cx="676.3" cy="704.0" r="1.3" fill="#5f5f5f"/><circle cx="707.5" cy="729.2" r="0.8" fill="#6f6f6f"/><circle cx="743.7" cy="690.9" r="1.2" fill="#646464"/><circle cx="672.8" cy="697.2" r="0.7" fill="#484848"/><circle cx="743.9" cy="689.3" r="0.9" fill="#7d7d7d"/><circle cx="744.5" cy="695.0" r="1.1" fill="#646464"/><circle cx="695.7" cy="665.6" r="1.1" fill="#414141"/><circle cx="742.4" cy="683.6" r="1.0" fill="#787878"/><circle cx="699.1" cy="729.9" r="1.0" fill="#686868"/><circle cx="742.8" cy="705.3" r="0.6" fill="#575757"/><circle cx="682.4" cy="673.0" r="0.8" fill="#404040"/><circle cx="673.6" cy="703.4" r="1.1" fill="#555555"/><circle cx="732.3" cy="671.5" r="1.1" fill="#414141"/><circle cx="673.0" cy="699.6" r="1.2" fill="#4f4f4f"/><circle cx="739.7" cy="679.9" r="0.7" fill="#4e4e4e"/><circle cx="742.9" cy="705.0" r="1.0" fill="#575757"/><circle cx="674.2" cy="697.4" r="0.7" fill="#474747"/><circle cx="737.5" cy="681.9" r="1.2" fill="#808080"/><circle cx="679.0" cy="675.3" r="1.0" fill="#5d5d5d"/><circle cx="742.8" cy="684.0" r="1.2" fill="#6f6f6f"/><circle cx="737.3" cy="675.7" r="0.8" fill="#7f7f7f"/><circle cx="712.4" cy="731.4" r="1.0" fill="#676767"/><circle cx="688.8" cy="724.7" r="1.1" fill="#727272"/><circle cx="676.1" cy="696.8" r="0.9" fill="#424242"/><circle cx="676.5" cy="688.4" r="1.1" fill="#424242"/><circle cx="673.9" cy="705.4" r="1.3" fill="#7c7c7c"/><circle cx="676.6" cy="677.7" r="0.9" fill="#797979"/><circle cx="725.4" cy="726.5" r="0.7" fill="#7b7b7b"/><circle cx="673.7" cy="704.6" r="0.8" fill="#5e5e5e"/><circle cx="740.4" cy="683.2" r="1.2" fill="#757575"/><circle cx="720.7" cy="726.9" r="0.8" fill="#6b6b6b"/><circle cx="700.1" cy="662.3" r="1.3" fill="#717171"/><circle cx="698.6" cy="663.9" r="1.2" fill="#7c7c7c"/><circle cx="734.5" cy="718.8" r="1.1" fill="#535353"/><circle cx="682.0" cy="719.9" r="1.1" fill="#626262"/><circle cx="685.5" cy="669.0" r="1.0" fill="#525252"/><circle cx="696.6" cy="728.5" r="1.3" fill="#494949"/></g>
<text x="527.20" y="647.40" font-size="14.6" text-anchor="middle" fill="#000" style="stroke-width:0.5px">Scramble</text>
<text x="615.50" y="648.20" font-size="14.6" text-anchor="middle" fill="#000" style="stroke-width:0.5px">ShGPR160-A</text>
<text x="707.20" y="649.30" font-size="14.6" text-anchor="middle" fill="#000" style="stroke-width:0.5px">ShGPR160-D</text>
<line x1="551.10" y1="785.25" x2="551.10" y2="984.80" stroke="#000" stroke-width="2.3" stroke-linecap="butt"/>
<line x1="545.10" y1="984.80" x2="551.10" y2="984.80" stroke="#000" stroke-width="2.3" stroke-linecap="butt"/>
<text x="542.10" y="989.27" font-size="13.0" text-anchor="end" letter-spacing="0.5" fill="#000">0</text>
<line x1="545.10" y1="918.67" x2="551.10" y2="918.67" stroke="#000" stroke-width="2.3" stroke-linecap="butt"/>
<text x="542.10" y="923.14" font-size="13.0" text-anchor="end" letter-spacing="0.5" fill="#000">40</text>
<line x1="545.10" y1="852.53" x2="551.10" y2="852.53" stroke="#000" stroke-width="2.3" stroke-linecap="butt"/>
<text x="542.10" y="857.01" font-size="13.0" text-anchor="end" letter-spacing="0.5" fill="#000">80</text>
<line x1="545.10" y1="786.40" x2="551.10" y2="786.40" stroke="#000" stroke-width="2.3" stroke-linecap="butt"/>
<text x="542.10" y="790.87" font-size="13.0" text-anchor="end" letter-spacing="0.5" fill="#000">120</text>
<line x1="545.10" y1="984.80" x2="750.00" y2="984.80" stroke="#000" stroke-width="2.3" stroke-linecap="butt"/>
<line x1="583.60" y1="819.30" x2="583.60" y2="828.80" stroke="#000" stroke-width="2.4" stroke-linecap="butt"/>
<line x1="572.10" y1="819.30" x2="595.10" y2="819.30" stroke="#000" stroke-width="2.2" stroke-linecap="round"/>
<rect x="560.80" y="827.80" width="45.60" height="157.00" fill="#000"/>
<line x1="583.60" y1="984.80" x2="583.60" y2="990.30" stroke="#000" stroke-width="2.3" stroke-linecap="butt"/>
<line x1="650.30" y1="893.70" x2="650.30" y2="900.50" stroke="#000" stroke-width="2.4" stroke-linecap="butt"/>
<line x1="638.80" y1="893.70" x2="661.80" y2="893.70" stroke="#000" stroke-width="2.2" stroke-linecap="round"/>
<rect x="627.50" y="899.50" width="45.60" height="85.30" fill="#000"/>
<line x1="650.30" y1="984.80" x2="650.30" y2="990.30" stroke="#000" stroke-width="2.3" stroke-linecap="butt"/>
<line x1="716.10" y1="916.20" x2="716.10" y2="923.80" stroke="#000" stroke-width="2.4" stroke-linecap="butt"/>
<line x1="704.60" y1="916.20" x2="727.60" y2="916.20" stroke="#000" stroke-width="2.2" stroke-linecap="round"/>
<rect x="693.30" y="922.80" width="45.60" height="62.00" fill="#000"/>
<line x1="716.10" y1="984.80" x2="716.10" y2="990.30" stroke="#000" stroke-width="2.3" stroke-linecap="butt"/>
<line x1="589.80" y1="782.50" x2="706.10" y2="782.50" stroke="#000" stroke-width="2.6" stroke-linecap="round"/>
<line x1="587.90" y1="808.40" x2="648.00" y2="808.40" stroke="#000" stroke-width="2.6" stroke-linecap="round"/>
<text x="647.00" y="785.00" font-size="19" text-anchor="middle" letter-spacing="2.0" fill="#000" style="stroke-width:0.15px">***</text>
<text x="618.30" y="811.00" font-size="19" text-anchor="middle" letter-spacing="2.0" fill="#000" style="stroke-width:0.15px">***</text>
<text transform="translate(586.60 1006.50) rotate(-45)" x="0.40" y="0" font-size="14.8" text-anchor="end" letter-spacing="0.4" fill="#000">Scramble</text>
<text transform="translate(653.30 1006.50) rotate(-45)" x="0.40" y="0" font-size="14.8" text-anchor="end" letter-spacing="0.4" fill="#000">ShGPR160-A</text>
<text transform="translate(719.10 1006.50) rotate(-45)" x="0.40" y="0" font-size="14.8" text-anchor="end" letter-spacing="0.4" fill="#000">ShGPR160-D</text>
<text transform="translate(488.90 883.40) rotate(-90)" x="0.47" y="0" font-size="15.8" text-anchor="middle" letter-spacing="0.95" fill="#000">Number of LNCaP colonies</text>
<text transform="translate(508.90 883.60) rotate(-90)" x="0.47" y="0" font-size="15.8" text-anchor="middle" letter-spacing="0.95" fill="#000">(% of scramble control)</text>
</svg></div></body></html>
